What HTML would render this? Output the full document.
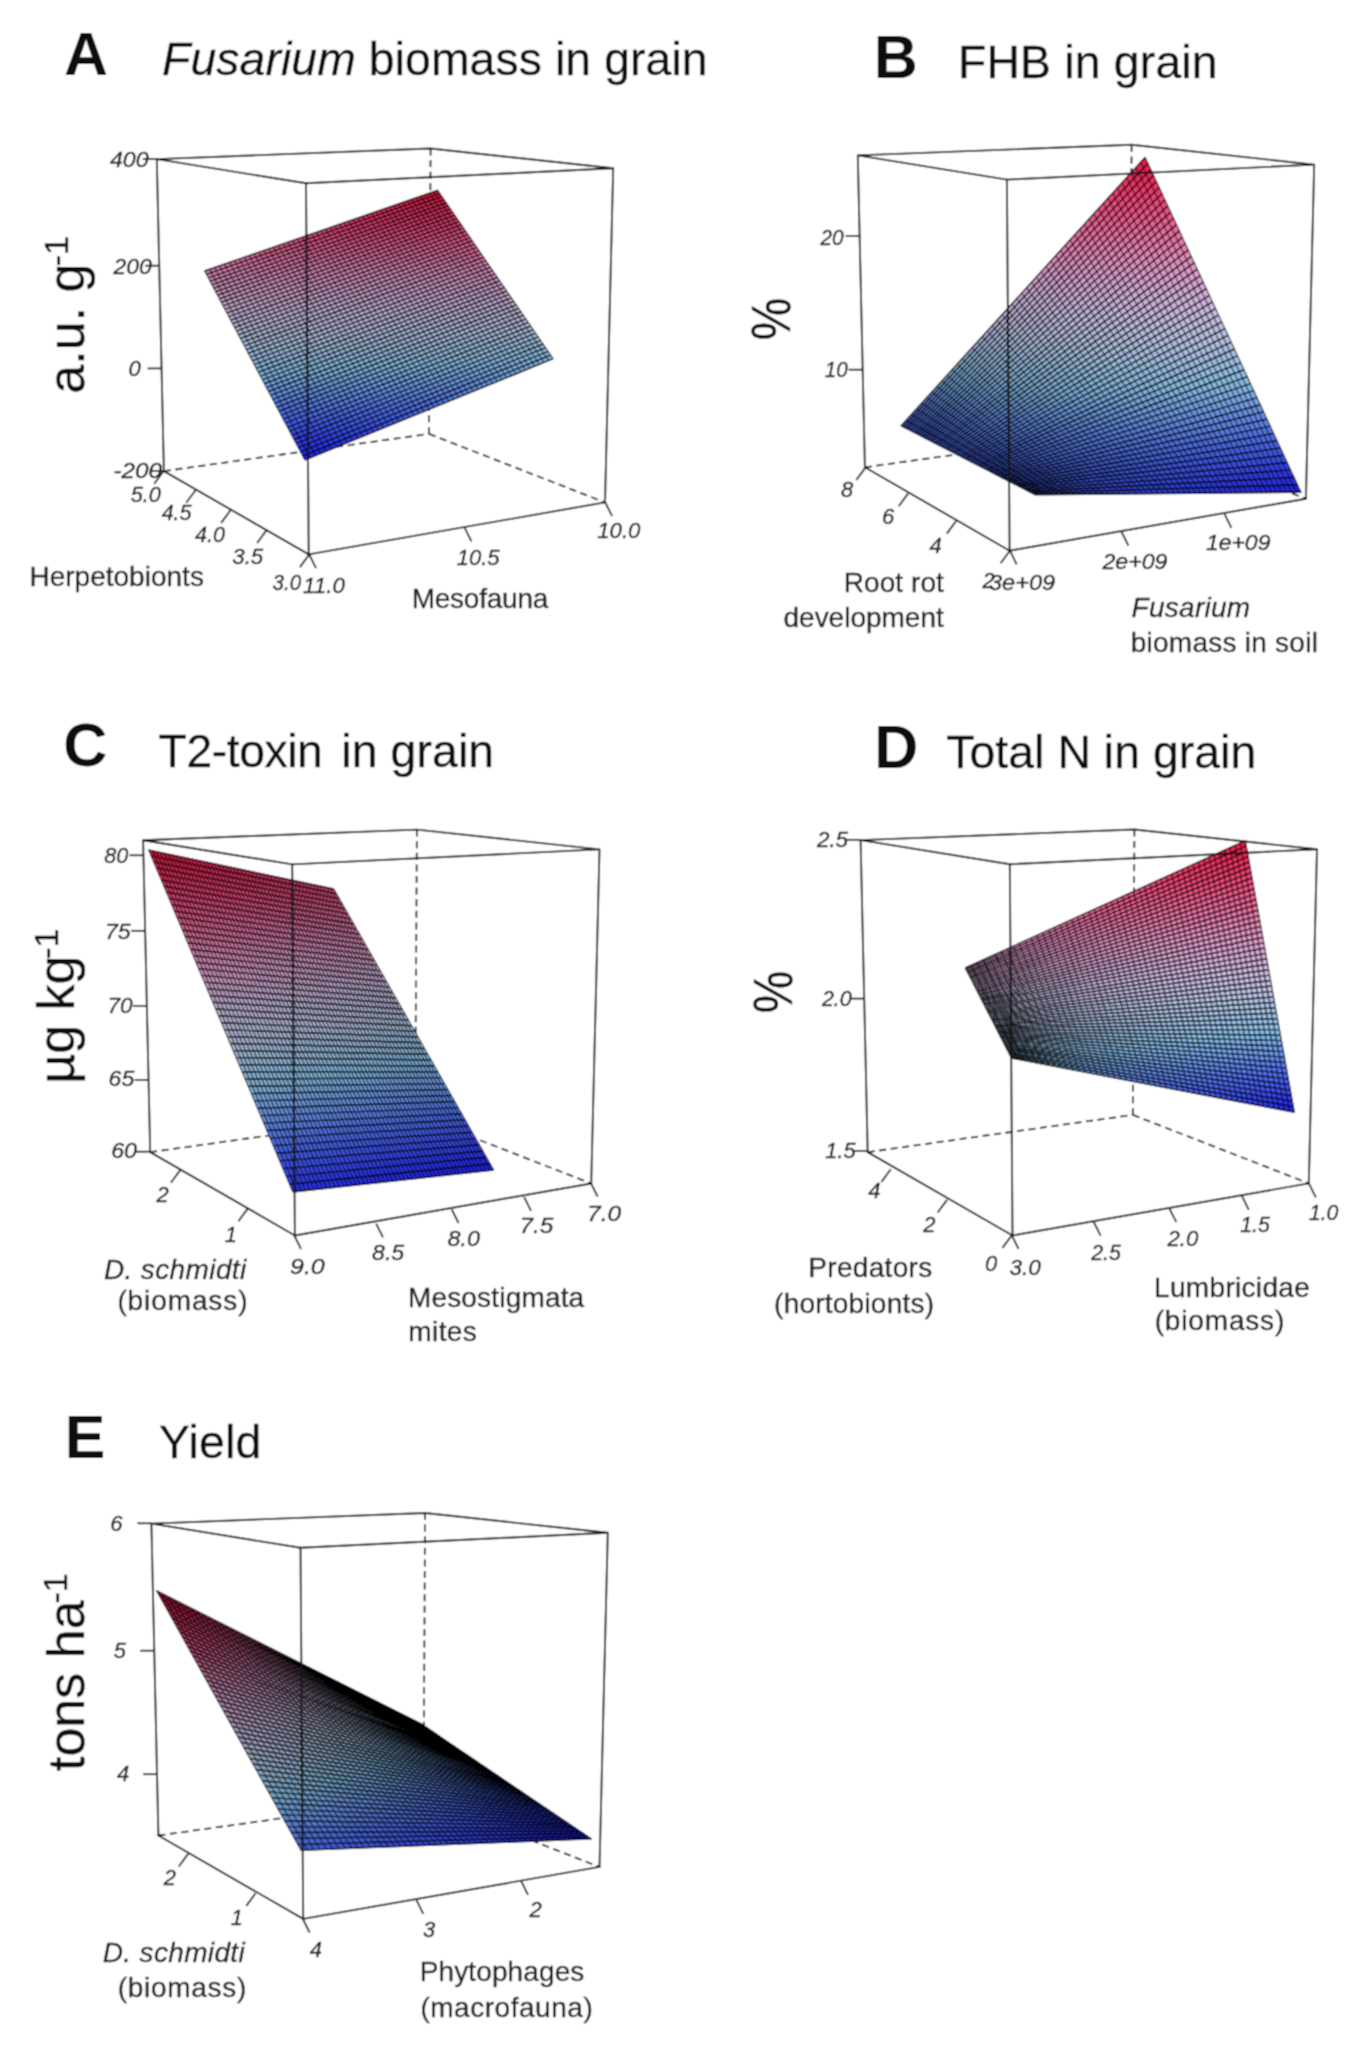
<!DOCTYPE html><html><head><meta charset="utf-8"><style>html,body{margin:0;padding:0;background:#fff}svg{display:block}text:not([font-weight]){stroke:#1a1a1a;stroke-width:0.35px}</style></head><body>
<svg width="1370" height="2046" viewBox="0 0 1370 2046" font-family="Liberation Sans, sans-serif">
<rect width="1370" height="2046" fill="#fff"/>
<defs><filter id="soft" x="0" y="0" width="1370" height="2046" filterUnits="userSpaceOnUse"><feConvolveMatrix order="3" kernelMatrix="1 2 1 2 4 2 1 2 1" divisor="16" edgeMode="duplicate" preserveAlpha="true"/></filter></defs><g filter="url(#soft)"><rect width="1370" height="2046" fill="#fff"/>
<g stroke="#151515" stroke-width="1.8" stroke-dasharray="7 4.6">
<line x1="430.6" y1="148.5" x2="429" y2="433.9"/>
<line x1="163.9" y1="471.1" x2="429" y2="433.9"/>
<line x1="429" y1="433.9" x2="605" y2="502.4"/>
</g>
<linearGradient id="A0" gradientUnits="userSpaceOnUse" x1="303.7" y1="458.1" x2="552" y2="356.9"><stop offset="0.000" stop-color="#2021e1"/><stop offset="0.108" stop-color="#2931e0"/><stop offset="0.213" stop-color="#3340df"/><stop offset="0.317" stop-color="#3c50df"/><stop offset="0.420" stop-color="#455fde"/><stop offset="0.520" stop-color="#4f6fdd"/><stop offset="0.619" stop-color="#5a7edc"/><stop offset="0.717" stop-color="#658ddb"/><stop offset="0.813" stop-color="#709cd9"/><stop offset="0.907" stop-color="#7babd8"/><stop offset="1.000" stop-color="#86b3d6"/></linearGradient>
<path fill="url(#A0)" d="M304.8 460.2L553.3 358.7 550.7 355 302.6 456z"/>
<linearGradient id="A1" gradientUnits="userSpaceOnUse" x1="301.5" y1="453.9" x2="549.5" y2="353.2"><stop offset="0.000" stop-color="#2428e0"/><stop offset="0.108" stop-color="#2d38e0"/><stop offset="0.213" stop-color="#3747df"/><stop offset="0.317" stop-color="#4057df"/><stop offset="0.420" stop-color="#4966de"/><stop offset="0.520" stop-color="#5475dd"/><stop offset="0.619" stop-color="#5f84db"/><stop offset="0.717" stop-color="#6a93da"/><stop offset="0.813" stop-color="#75a3d8"/><stop offset="0.907" stop-color="#80b2d7"/><stop offset="1.000" stop-color="#8ab3d6"/></linearGradient>
<path fill="url(#A1)" d="M302.6 456L550.7 355 548.2 351.3 300.4 451.9z"/>
<linearGradient id="A2" gradientUnits="userSpaceOnUse" x1="299.3" y1="449.8" x2="547" y2="349.5"><stop offset="0.000" stop-color="#282fe0"/><stop offset="0.107" stop-color="#313edf"/><stop offset="0.213" stop-color="#3b4edf"/><stop offset="0.317" stop-color="#445dde"/><stop offset="0.419" stop-color="#4e6ddd"/><stop offset="0.520" stop-color="#597cdc"/><stop offset="0.619" stop-color="#648bdb"/><stop offset="0.717" stop-color="#6f9ad9"/><stop offset="0.813" stop-color="#7aa9d8"/><stop offset="0.907" stop-color="#84b2d7"/><stop offset="1.000" stop-color="#8fb4d5"/></linearGradient>
<path fill="url(#A2)" d="M300.4 451.9L548.2 351.3 545.7 347.7 298.2 447.7z"/>
<linearGradient id="A3" gradientUnits="userSpaceOnUse" x1="297.1" y1="445.7" x2="544.5" y2="345.8"><stop offset="0.000" stop-color="#2c36e0"/><stop offset="0.107" stop-color="#3645df"/><stop offset="0.213" stop-color="#3f55df"/><stop offset="0.317" stop-color="#4864de"/><stop offset="0.419" stop-color="#5374dd"/><stop offset="0.520" stop-color="#5e83db"/><stop offset="0.619" stop-color="#6992da"/><stop offset="0.717" stop-color="#74a1d9"/><stop offset="0.813" stop-color="#7fb0d7"/><stop offset="0.907" stop-color="#89b3d6"/><stop offset="1.000" stop-color="#93b4d5"/></linearGradient>
<path fill="url(#A3)" d="M298.2 447.7L545.7 347.7 543.2 344 296 443.6z"/>
<linearGradient id="A4" gradientUnits="userSpaceOnUse" x1="295" y1="441.5" x2="542" y2="342.2"><stop offset="0.000" stop-color="#303ddf"/><stop offset="0.107" stop-color="#3a4cdf"/><stop offset="0.213" stop-color="#435cde"/><stop offset="0.317" stop-color="#4d6bde"/><stop offset="0.419" stop-color="#577adc"/><stop offset="0.520" stop-color="#6289db"/><stop offset="0.619" stop-color="#6d98d9"/><stop offset="0.717" stop-color="#78a8d8"/><stop offset="0.813" stop-color="#83b2d7"/><stop offset="0.907" stop-color="#8eb3d5"/><stop offset="1.000" stop-color="#98b4d4"/></linearGradient>
<path fill="url(#A4)" d="M296 443.6L543.2 344 540.7 340.4 293.9 439.5z"/>
<linearGradient id="A5" gradientUnits="userSpaceOnUse" x1="292.8" y1="437.4" x2="539.5" y2="338.6"><stop offset="0.000" stop-color="#3443df"/><stop offset="0.107" stop-color="#3e53df"/><stop offset="0.213" stop-color="#4762de"/><stop offset="0.317" stop-color="#5172dd"/><stop offset="0.419" stop-color="#5c81dc"/><stop offset="0.520" stop-color="#6790da"/><stop offset="0.619" stop-color="#729fd9"/><stop offset="0.717" stop-color="#7daed7"/><stop offset="0.812" stop-color="#88b3d6"/><stop offset="0.907" stop-color="#92b4d5"/><stop offset="1.000" stop-color="#9db5d4"/></linearGradient>
<path fill="url(#A5)" d="M293.9 439.5L540.7 340.4 538.3 336.8 291.7 435.4z"/>
<linearGradient id="A6" gradientUnits="userSpaceOnUse" x1="290.6" y1="433.4" x2="537" y2="335"><stop offset="0.000" stop-color="#394adf"/><stop offset="0.107" stop-color="#425ade"/><stop offset="0.213" stop-color="#4b69de"/><stop offset="0.317" stop-color="#5678dc"/><stop offset="0.419" stop-color="#6188db"/><stop offset="0.520" stop-color="#6c97da"/><stop offset="0.619" stop-color="#77a6d8"/><stop offset="0.716" stop-color="#82b2d7"/><stop offset="0.812" stop-color="#8cb3d5"/><stop offset="0.907" stop-color="#97b4d4"/><stop offset="1.000" stop-color="#a1b5d3"/></linearGradient>
<path fill="url(#A6)" d="M291.7 435.4L538.3 336.8 535.8 333.2 289.5 431.3z"/>
<linearGradient id="A7" gradientUnits="userSpaceOnUse" x1="288.5" y1="429.3" x2="534.6" y2="331.4"><stop offset="0.000" stop-color="#3d51df"/><stop offset="0.107" stop-color="#4661de"/><stop offset="0.213" stop-color="#5070dd"/><stop offset="0.317" stop-color="#5b7fdc"/><stop offset="0.419" stop-color="#668eda"/><stop offset="0.520" stop-color="#719dd9"/><stop offset="0.619" stop-color="#7cadd7"/><stop offset="0.716" stop-color="#87b3d6"/><stop offset="0.812" stop-color="#91b4d5"/><stop offset="0.907" stop-color="#9bb5d4"/><stop offset="1.000" stop-color="#a6b6d2"/></linearGradient>
<path fill="url(#A7)" d="M289.5 431.3L535.8 333.2 533.3 329.6 287.4 427.3z"/>
<linearGradient id="A8" gradientUnits="userSpaceOnUse" x1="286.3" y1="425.3" x2="532.1" y2="327.8"><stop offset="0.000" stop-color="#4158de"/><stop offset="0.107" stop-color="#4a67de"/><stop offset="0.213" stop-color="#5577dc"/><stop offset="0.317" stop-color="#6086db"/><stop offset="0.419" stop-color="#6b95da"/><stop offset="0.520" stop-color="#76a4d8"/><stop offset="0.619" stop-color="#81b2d7"/><stop offset="0.716" stop-color="#8bb3d6"/><stop offset="0.812" stop-color="#96b4d4"/><stop offset="0.907" stop-color="#a0b5d3"/><stop offset="1.000" stop-color="#a9b5d2"/></linearGradient>
<path fill="url(#A8)" d="M287.4 427.3L533.3 329.6 530.9 326 285.2 423.2z"/>
<linearGradient id="A9" gradientUnits="userSpaceOnUse" x1="284.2" y1="421.2" x2="529.7" y2="324.2"><stop offset="0.000" stop-color="#455fde"/><stop offset="0.107" stop-color="#4f6edd"/><stop offset="0.213" stop-color="#5a7ddc"/><stop offset="0.317" stop-color="#658cda"/><stop offset="0.419" stop-color="#709cd9"/><stop offset="0.520" stop-color="#7babd8"/><stop offset="0.619" stop-color="#85b3d6"/><stop offset="0.716" stop-color="#90b4d5"/><stop offset="0.812" stop-color="#9ab5d4"/><stop offset="0.907" stop-color="#a5b6d3"/><stop offset="1.000" stop-color="#acb4d1"/></linearGradient>
<path fill="url(#A9)" d="M285.2 423.2L530.9 326 528.4 322.4 283.1 419.2z"/>
<linearGradient id="A10" gradientUnits="userSpaceOnUse" x1="282.1" y1="417.2" x2="527.2" y2="320.7"><stop offset="0.000" stop-color="#4966de"/><stop offset="0.107" stop-color="#5475dd"/><stop offset="0.213" stop-color="#5f84db"/><stop offset="0.317" stop-color="#6a93da"/><stop offset="0.419" stop-color="#75a2d8"/><stop offset="0.520" stop-color="#80b1d7"/><stop offset="0.619" stop-color="#8ab3d6"/><stop offset="0.716" stop-color="#94b4d4"/><stop offset="0.812" stop-color="#9fb5d3"/><stop offset="0.907" stop-color="#a9b6d2"/><stop offset="1.000" stop-color="#afb3d1"/></linearGradient>
<path fill="url(#A10)" d="M283.1 419.2L528.4 322.4 526 318.9 281 415.2z"/>
<linearGradient id="A11" gradientUnits="userSpaceOnUse" x1="279.9" y1="413.2" x2="524.8" y2="317.1"><stop offset="0.000" stop-color="#4d6cdd"/><stop offset="0.107" stop-color="#587bdc"/><stop offset="0.213" stop-color="#638bdb"/><stop offset="0.317" stop-color="#6e9ad9"/><stop offset="0.419" stop-color="#79a9d8"/><stop offset="0.520" stop-color="#84b2d6"/><stop offset="0.619" stop-color="#8fb3d5"/><stop offset="0.716" stop-color="#99b5d4"/><stop offset="0.812" stop-color="#a3b6d3"/><stop offset="0.907" stop-color="#acb4d1"/><stop offset="1.000" stop-color="#b2b1d0"/></linearGradient>
<path fill="url(#A11)" d="M281 415.2L526 318.9 523.6 315.3 278.9 411.2z"/>
<linearGradient id="A12" gradientUnits="userSpaceOnUse" x1="277.8" y1="409.2" x2="522.4" y2="313.6"><stop offset="0.000" stop-color="#5273dd"/><stop offset="0.107" stop-color="#5d82db"/><stop offset="0.213" stop-color="#6891da"/><stop offset="0.317" stop-color="#73a0d9"/><stop offset="0.419" stop-color="#7eb0d7"/><stop offset="0.520" stop-color="#89b3d6"/><stop offset="0.619" stop-color="#93b4d5"/><stop offset="0.716" stop-color="#9eb5d3"/><stop offset="0.812" stop-color="#a8b6d2"/><stop offset="0.907" stop-color="#aeb3d1"/><stop offset="1.000" stop-color="#b5b0d0"/></linearGradient>
<path fill="url(#A12)" d="M278.9 411.2L523.6 315.3 521.2 311.8 276.8 407.2z"/>
<linearGradient id="A13" gradientUnits="userSpaceOnUse" x1="275.7" y1="405.3" x2="520" y2="310.1"><stop offset="0.000" stop-color="#5779dc"/><stop offset="0.107" stop-color="#6289db"/><stop offset="0.213" stop-color="#6d98d9"/><stop offset="0.317" stop-color="#78a7d8"/><stop offset="0.419" stop-color="#83b2d7"/><stop offset="0.520" stop-color="#8db3d5"/><stop offset="0.619" stop-color="#98b4d4"/><stop offset="0.716" stop-color="#a2b5d3"/><stop offset="0.812" stop-color="#abb5d2"/><stop offset="0.907" stop-color="#b1b2d0"/><stop offset="1.000" stop-color="#b7afcf"/></linearGradient>
<path fill="url(#A13)" d="M276.8 407.2L521.2 311.8 518.8 308.3 274.7 403.3z"/>
<linearGradient id="A14" gradientUnits="userSpaceOnUse" x1="273.6" y1="401.3" x2="517.6" y2="306.6"><stop offset="0.000" stop-color="#5c80dc"/><stop offset="0.107" stop-color="#678fda"/><stop offset="0.213" stop-color="#729fd9"/><stop offset="0.317" stop-color="#7daed7"/><stop offset="0.419" stop-color="#87b3d6"/><stop offset="0.520" stop-color="#92b4d5"/><stop offset="0.619" stop-color="#9cb5d3"/><stop offset="0.716" stop-color="#a7b6d2"/><stop offset="0.812" stop-color="#aeb3d1"/><stop offset="0.907" stop-color="#b4b0d0"/><stop offset="1.000" stop-color="#baadcf"/></linearGradient>
<path fill="url(#A14)" d="M274.7 403.3L518.8 308.3 516.4 304.8 272.6 399.4z"/>
<linearGradient id="A15" gradientUnits="userSpaceOnUse" x1="271.5" y1="397.4" x2="515.2" y2="303.1"><stop offset="0.000" stop-color="#6187db"/><stop offset="0.107" stop-color="#6c96d9"/><stop offset="0.213" stop-color="#77a5d8"/><stop offset="0.317" stop-color="#82b2d7"/><stop offset="0.419" stop-color="#8cb3d5"/><stop offset="0.520" stop-color="#96b4d4"/><stop offset="0.619" stop-color="#a1b5d3"/><stop offset="0.716" stop-color="#aab5d2"/><stop offset="0.812" stop-color="#b0b2d0"/><stop offset="0.907" stop-color="#b7afcf"/><stop offset="1.000" stop-color="#bdabcd"/></linearGradient>
<path fill="url(#A15)" d="M272.6 399.4L516.4 304.8 514 301.3 270.5 395.4z"/>
<linearGradient id="A16" gradientUnits="userSpaceOnUse" x1="269.5" y1="393.5" x2="512.8" y2="299.6"><stop offset="0.000" stop-color="#658dda"/><stop offset="0.107" stop-color="#709dd9"/><stop offset="0.213" stop-color="#7cacd7"/><stop offset="0.317" stop-color="#86b3d6"/><stop offset="0.419" stop-color="#91b4d5"/><stop offset="0.520" stop-color="#9bb5d4"/><stop offset="0.619" stop-color="#a5b6d2"/><stop offset="0.716" stop-color="#adb4d1"/><stop offset="0.812" stop-color="#b3b1d0"/><stop offset="0.907" stop-color="#b9adcf"/><stop offset="1.000" stop-color="#bea8cb"/></linearGradient>
<path fill="url(#A16)" d="M270.5 395.4L514 301.3 511.6 297.9 268.4 391.5z"/>
<linearGradient id="A17" gradientUnits="userSpaceOnUse" x1="267.4" y1="389.6" x2="510.4" y2="296.1"><stop offset="0.000" stop-color="#6a94da"/><stop offset="0.107" stop-color="#75a3d8"/><stop offset="0.213" stop-color="#80b2d7"/><stop offset="0.317" stop-color="#8bb3d6"/><stop offset="0.419" stop-color="#95b4d4"/><stop offset="0.520" stop-color="#a0b5d3"/><stop offset="0.619" stop-color="#a9b5d2"/><stop offset="0.716" stop-color="#b0b2d1"/><stop offset="0.812" stop-color="#b6afcf"/><stop offset="0.907" stop-color="#bcacce"/><stop offset="1.000" stop-color="#c0a4c8"/></linearGradient>
<path fill="url(#A17)" d="M268.4 391.5L511.6 297.9 509.2 294.4 266.4 387.6z"/>
<linearGradient id="A18" gradientUnits="userSpaceOnUse" x1="265.3" y1="385.7" x2="508.1" y2="292.7"><stop offset="0.000" stop-color="#6f9bd9"/><stop offset="0.107" stop-color="#7aaad8"/><stop offset="0.213" stop-color="#85b2d6"/><stop offset="0.317" stop-color="#8fb3d5"/><stop offset="0.419" stop-color="#9ab5d4"/><stop offset="0.519" stop-color="#a4b6d2"/><stop offset="0.619" stop-color="#acb4d1"/><stop offset="0.716" stop-color="#b2b1d0"/><stop offset="0.812" stop-color="#b9aecf"/><stop offset="0.907" stop-color="#bea9cb"/><stop offset="1.000" stop-color="#c2a0c5"/></linearGradient>
<path fill="url(#A18)" d="M266.4 387.6L509.2 294.4 506.9 291 264.3 383.8z"/>
<linearGradient id="A19" gradientUnits="userSpaceOnUse" x1="263.3" y1="381.8" x2="505.7" y2="289.3"><stop offset="0.000" stop-color="#74a1d8"/><stop offset="0.107" stop-color="#7fb1d7"/><stop offset="0.213" stop-color="#89b3d6"/><stop offset="0.317" stop-color="#94b4d4"/><stop offset="0.419" stop-color="#9eb5d3"/><stop offset="0.519" stop-color="#a8b6d2"/><stop offset="0.619" stop-color="#afb3d1"/><stop offset="0.716" stop-color="#b5b0cf"/><stop offset="0.812" stop-color="#bbacce"/><stop offset="0.907" stop-color="#c0a5c9"/><stop offset="1.000" stop-color="#c49dc2"/></linearGradient>
<path fill="url(#A19)" d="M264.3 383.8L506.9 291 504.5 287.5 262.3 379.9z"/>
<linearGradient id="A20" gradientUnits="userSpaceOnUse" x1="261.3" y1="378" x2="503.4" y2="285.8"><stop offset="0.000" stop-color="#79a8d8"/><stop offset="0.107" stop-color="#84b2d6"/><stop offset="0.213" stop-color="#8eb3d5"/><stop offset="0.317" stop-color="#98b4d4"/><stop offset="0.419" stop-color="#a3b5d3"/><stop offset="0.519" stop-color="#abb4d1"/><stop offset="0.618" stop-color="#b2b1d0"/><stop offset="0.716" stop-color="#b8aecf"/><stop offset="0.812" stop-color="#bda9cc"/><stop offset="0.907" stop-color="#c2a1c6"/><stop offset="1.000" stop-color="#c699c0"/></linearGradient>
<path fill="url(#A20)" d="M262.3 379.9L504.5 287.5 502.2 284.1 260.2 376.1z"/>
<linearGradient id="A21" gradientUnits="userSpaceOnUse" x1="259.2" y1="374.1" x2="501" y2="282.4"><stop offset="0.000" stop-color="#7eafd7"/><stop offset="0.107" stop-color="#88b3d6"/><stop offset="0.213" stop-color="#93b4d5"/><stop offset="0.317" stop-color="#9db5d3"/><stop offset="0.419" stop-color="#a7b6d2"/><stop offset="0.519" stop-color="#aeb3d1"/><stop offset="0.618" stop-color="#b4b0d0"/><stop offset="0.716" stop-color="#bbadce"/><stop offset="0.812" stop-color="#bfa6c9"/><stop offset="0.907" stop-color="#c39ec3"/><stop offset="1.000" stop-color="#c796bd"/></linearGradient>
<path fill="url(#A21)" d="M260.2 376.1L502.2 284.1 499.9 280.7 258.2 372.2z"/>
<linearGradient id="A22" gradientUnits="userSpaceOnUse" x1="257.2" y1="370.3" x2="498.7" y2="279"><stop offset="0.000" stop-color="#82b2d7"/><stop offset="0.107" stop-color="#8db3d5"/><stop offset="0.213" stop-color="#97b4d4"/><stop offset="0.316" stop-color="#a2b5d3"/><stop offset="0.419" stop-color="#aab5d1"/><stop offset="0.519" stop-color="#b1b2d0"/><stop offset="0.618" stop-color="#b7afcf"/><stop offset="0.716" stop-color="#bdaacd"/><stop offset="0.812" stop-color="#c1a2c7"/><stop offset="0.907" stop-color="#c59ac0"/><stop offset="1.000" stop-color="#c992ba"/></linearGradient>
<path fill="url(#A22)" d="M258.2 372.2L499.9 280.7 497.5 277.3 256.2 368.4z"/>
<linearGradient id="A23" gradientUnits="userSpaceOnUse" x1="255.2" y1="366.5" x2="496.4" y2="275.6"><stop offset="0.000" stop-color="#87b3d6"/><stop offset="0.107" stop-color="#91b4d5"/><stop offset="0.213" stop-color="#9cb5d3"/><stop offset="0.316" stop-color="#a6b6d2"/><stop offset="0.419" stop-color="#adb3d1"/><stop offset="0.519" stop-color="#b3b0d0"/><stop offset="0.618" stop-color="#baadce"/><stop offset="0.716" stop-color="#bfa7ca"/><stop offset="0.812" stop-color="#c39fc4"/><stop offset="0.907" stop-color="#c796be"/><stop offset="1.000" stop-color="#cb8eb7"/></linearGradient>
<path fill="url(#A23)" d="M256.2 368.4L497.5 277.3 495.2 273.9 254.2 364.6z"/>
<linearGradient id="A24" gradientUnits="userSpaceOnUse" x1="253.2" y1="362.7" x2="494.1" y2="272.3"><stop offset="0.000" stop-color="#8bb3d5"/><stop offset="0.107" stop-color="#96b4d4"/><stop offset="0.213" stop-color="#a0b5d3"/><stop offset="0.316" stop-color="#aab5d2"/><stop offset="0.419" stop-color="#b0b2d0"/><stop offset="0.519" stop-color="#b6afcf"/><stop offset="0.618" stop-color="#bcabce"/><stop offset="0.716" stop-color="#c0a3c7"/><stop offset="0.812" stop-color="#c59bc1"/><stop offset="0.907" stop-color="#c993bb"/><stop offset="1.000" stop-color="#cd8bb5"/></linearGradient>
<path fill="url(#A24)" d="M254.2 364.6L495.2 273.9 492.9 270.6 252.2 360.8z"/>
<linearGradient id="A25" gradientUnits="userSpaceOnUse" x1="251.2" y1="358.9" x2="491.8" y2="268.9"><stop offset="0.000" stop-color="#90b3d5"/><stop offset="0.107" stop-color="#9ab5d4"/><stop offset="0.213" stop-color="#a5b6d2"/><stop offset="0.316" stop-color="#acb4d1"/><stop offset="0.419" stop-color="#b3b1d0"/><stop offset="0.519" stop-color="#b9aecf"/><stop offset="0.618" stop-color="#bea8cb"/><stop offset="0.716" stop-color="#c2a0c5"/><stop offset="0.812" stop-color="#c697be"/><stop offset="0.907" stop-color="#cb8fb8"/><stop offset="1.000" stop-color="#ce86b0"/></linearGradient>
<path fill="url(#A25)" d="M252.2 360.8L492.9 270.6 490.6 267.2 250.2 357.1z"/>
<linearGradient id="A26" gradientUnits="userSpaceOnUse" x1="249.2" y1="355.2" x2="489.5" y2="265.5"><stop offset="0.000" stop-color="#94b4d4"/><stop offset="0.107" stop-color="#9fb5d3"/><stop offset="0.213" stop-color="#a9b5d2"/><stop offset="0.316" stop-color="#afb2d1"/><stop offset="0.419" stop-color="#b5afcf"/><stop offset="0.519" stop-color="#bcacce"/><stop offset="0.618" stop-color="#c0a4c8"/><stop offset="0.716" stop-color="#c49cc2"/><stop offset="0.812" stop-color="#c894bc"/><stop offset="0.907" stop-color="#cc8cb5"/><stop offset="1.000" stop-color="#cf81ab"/></linearGradient>
<path fill="url(#A26)" d="M250.2 357.1L490.6 267.2 488.3 263.9 248.2 353.3z"/>
<linearGradient id="A27" gradientUnits="userSpaceOnUse" x1="247.2" y1="351.4" x2="487.2" y2="262.2"><stop offset="0.000" stop-color="#99b4d4"/><stop offset="0.107" stop-color="#a3b5d2"/><stop offset="0.213" stop-color="#acb4d1"/><stop offset="0.316" stop-color="#b2b1d0"/><stop offset="0.419" stop-color="#b8aecf"/><stop offset="0.519" stop-color="#bea9cc"/><stop offset="0.618" stop-color="#c2a1c5"/><stop offset="0.716" stop-color="#c698bf"/><stop offset="0.812" stop-color="#ca90b9"/><stop offset="0.907" stop-color="#ce87b1"/><stop offset="1.000" stop-color="#d07ca6"/></linearGradient>
<path fill="url(#A27)" d="M248.2 353.3L488.3 263.9 486 260.6 246.2 349.6z"/>
<linearGradient id="A28" gradientUnits="userSpaceOnUse" x1="245.2" y1="347.7" x2="484.9" y2="258.9"><stop offset="0.000" stop-color="#9db5d3"/><stop offset="0.107" stop-color="#a8b6d2"/><stop offset="0.213" stop-color="#aeb3d1"/><stop offset="0.316" stop-color="#b5b0cf"/><stop offset="0.418" stop-color="#bbadce"/><stop offset="0.519" stop-color="#bfa5c9"/><stop offset="0.618" stop-color="#c49dc3"/><stop offset="0.716" stop-color="#c895bc"/><stop offset="0.812" stop-color="#cc8db6"/><stop offset="0.907" stop-color="#ce82ac"/><stop offset="1.000" stop-color="#d076a1"/></linearGradient>
<path fill="url(#A28)" d="M246.2 349.6L486 260.6 483.8 257.2 244.2 345.9z"/>
<linearGradient id="A29" gradientUnits="userSpaceOnUse" x1="243.2" y1="344" x2="482.6" y2="255.6"><stop offset="0.000" stop-color="#a2b5d3"/><stop offset="0.107" stop-color="#abb4d1"/><stop offset="0.212" stop-color="#b1b1d0"/><stop offset="0.316" stop-color="#b7aecf"/><stop offset="0.418" stop-color="#bdaacc"/><stop offset="0.519" stop-color="#c1a2c6"/><stop offset="0.618" stop-color="#c599c0"/><stop offset="0.716" stop-color="#ca91ba"/><stop offset="0.812" stop-color="#cd89b3"/><stop offset="0.907" stop-color="#cf7da8"/><stop offset="1.000" stop-color="#d1719d"/></linearGradient>
<path fill="url(#A29)" d="M244.2 345.9L483.8 257.2 481.5 253.9 242.3 342.1z"/>
<linearGradient id="A30" gradientUnits="userSpaceOnUse" x1="241.3" y1="340.3" x2="480.4" y2="252.3"><stop offset="0.000" stop-color="#a7b6d2"/><stop offset="0.107" stop-color="#adb3d1"/><stop offset="0.212" stop-color="#b4b0d0"/><stop offset="0.316" stop-color="#baadce"/><stop offset="0.418" stop-color="#bfa6ca"/><stop offset="0.519" stop-color="#c39ec3"/><stop offset="0.618" stop-color="#c796bd"/><stop offset="0.716" stop-color="#cb8eb7"/><stop offset="0.812" stop-color="#ce83ae"/><stop offset="0.907" stop-color="#d078a3"/><stop offset="1.000" stop-color="#d26c98"/></linearGradient>
<path fill="url(#A30)" d="M242.3 342.1L481.5 253.9 479.3 250.6 240.3 338.5z"/>
<linearGradient id="A31" gradientUnits="userSpaceOnUse" x1="239.3" y1="336.6" x2="478.1" y2="249"><stop offset="0.000" stop-color="#aab5d1"/><stop offset="0.107" stop-color="#b0b2d0"/><stop offset="0.212" stop-color="#b6afcf"/><stop offset="0.316" stop-color="#bdabcd"/><stop offset="0.418" stop-color="#c1a3c7"/><stop offset="0.519" stop-color="#c59ac1"/><stop offset="0.618" stop-color="#c992ba"/><stop offset="0.716" stop-color="#cd8ab4"/><stop offset="0.812" stop-color="#cf7ea9"/><stop offset="0.907" stop-color="#d1739e"/><stop offset="1.000" stop-color="#d36793"/></linearGradient>
<path fill="url(#A31)" d="M240.3 338.5L479.3 250.6 477 247.4 238.4 334.8z"/>
<linearGradient id="A32" gradientUnits="userSpaceOnUse" x1="237.4" y1="332.9" x2="475.9" y2="245.7"><stop offset="0.000" stop-color="#adb4d1"/><stop offset="0.107" stop-color="#b3b0d0"/><stop offset="0.212" stop-color="#b9adce"/><stop offset="0.316" stop-color="#bea7ca"/><stop offset="0.418" stop-color="#c29fc4"/><stop offset="0.519" stop-color="#c797be"/><stop offset="0.618" stop-color="#cb8fb8"/><stop offset="0.716" stop-color="#ce85af"/><stop offset="0.812" stop-color="#d079a4"/><stop offset="0.907" stop-color="#d26e99"/><stop offset="1.000" stop-color="#d4628e"/></linearGradient>
<path fill="url(#A32)" d="M238.4 334.8L477 247.4 474.8 244.1 236.4 331.1z"/>
<linearGradient id="A33" gradientUnits="userSpaceOnUse" x1="235.4" y1="329.3" x2="473.7" y2="242.5"><stop offset="0.000" stop-color="#afb2d0"/><stop offset="0.107" stop-color="#b6afcf"/><stop offset="0.212" stop-color="#bcacce"/><stop offset="0.316" stop-color="#c0a4c8"/><stop offset="0.418" stop-color="#c49bc1"/><stop offset="0.519" stop-color="#c893bb"/><stop offset="0.618" stop-color="#cd8bb5"/><stop offset="0.716" stop-color="#cf80aa"/><stop offset="0.812" stop-color="#d1749f"/><stop offset="0.907" stop-color="#d36994"/><stop offset="1.000" stop-color="#d45d89"/></linearGradient>
<path fill="url(#A33)" d="M236.4 331.1L474.8 244.1 472.5 240.8 234.5 327.5z"/>
<linearGradient id="A34" gradientUnits="userSpaceOnUse" x1="233.5" y1="325.6" x2="471.4" y2="239.2"><stop offset="0.000" stop-color="#b2b1d0"/><stop offset="0.107" stop-color="#b8aecf"/><stop offset="0.212" stop-color="#bea8cb"/><stop offset="0.316" stop-color="#c2a0c5"/><stop offset="0.418" stop-color="#c698bf"/><stop offset="0.519" stop-color="#ca90b8"/><stop offset="0.618" stop-color="#ce86b1"/><stop offset="0.716" stop-color="#d07ba5"/><stop offset="0.812" stop-color="#d16f9a"/><stop offset="0.907" stop-color="#d3638f"/><stop offset="1.000" stop-color="#d55884"/></linearGradient>
<path fill="url(#A34)" d="M234.5 327.5L472.5 240.8 470.3 237.6 232.6 323.8z"/>
<linearGradient id="A35" gradientUnits="userSpaceOnUse" x1="231.6" y1="322" x2="469.2" y2="236"><stop offset="0.000" stop-color="#b5afcf"/><stop offset="0.107" stop-color="#bbacce"/><stop offset="0.212" stop-color="#c0a5c8"/><stop offset="0.316" stop-color="#c49dc2"/><stop offset="0.418" stop-color="#c894bc"/><stop offset="0.519" stop-color="#cc8cb6"/><stop offset="0.618" stop-color="#ce81ac"/><stop offset="0.716" stop-color="#d076a1"/><stop offset="0.812" stop-color="#d26a96"/><stop offset="0.907" stop-color="#d45e8a"/><stop offset="1.000" stop-color="#d6537f"/></linearGradient>
<path fill="url(#A35)" d="M232.6 323.8L470.3 237.6 468.1 234.4 230.6 320.2z"/>
<linearGradient id="A36" gradientUnits="userSpaceOnUse" x1="229.7" y1="318.4" x2="467" y2="232.7"><stop offset="0.000" stop-color="#b7aecf"/><stop offset="0.107" stop-color="#bda9cc"/><stop offset="0.212" stop-color="#c1a1c6"/><stop offset="0.316" stop-color="#c599bf"/><stop offset="0.418" stop-color="#ca91b9"/><stop offset="0.519" stop-color="#cd88b2"/><stop offset="0.618" stop-color="#cf7ca7"/><stop offset="0.716" stop-color="#d1719c"/><stop offset="0.812" stop-color="#d36591"/><stop offset="0.907" stop-color="#d55986"/><stop offset="1.000" stop-color="#d74d7a"/></linearGradient>
<path fill="url(#A36)" d="M230.6 320.2L468.1 234.4 465.9 231.1 228.7 316.6z"/>
<linearGradient id="A37" gradientUnits="userSpaceOnUse" x1="227.8" y1="314.8" x2="464.8" y2="229.5"><stop offset="0.000" stop-color="#baadce"/><stop offset="0.107" stop-color="#bfa6c9"/><stop offset="0.212" stop-color="#c39ec3"/><stop offset="0.316" stop-color="#c795bd"/><stop offset="0.418" stop-color="#cb8db6"/><stop offset="0.519" stop-color="#ce83ad"/><stop offset="0.618" stop-color="#d077a2"/><stop offset="0.716" stop-color="#d26b97"/><stop offset="0.812" stop-color="#d4608c"/><stop offset="0.907" stop-color="#d65481"/><stop offset="1.000" stop-color="#d74976"/></linearGradient>
<path fill="url(#A37)" d="M228.7 316.6L465.9 231.1 463.7 227.9 226.8 313z"/>
<linearGradient id="A38" gradientUnits="userSpaceOnUse" x1="225.9" y1="311.2" x2="462.6" y2="226.3"><stop offset="0.000" stop-color="#bdabcd"/><stop offset="0.107" stop-color="#c1a2c7"/><stop offset="0.212" stop-color="#c59ac0"/><stop offset="0.316" stop-color="#c992ba"/><stop offset="0.418" stop-color="#cd89b3"/><stop offset="0.519" stop-color="#cf7ea8"/><stop offset="0.618" stop-color="#d1729d"/><stop offset="0.715" stop-color="#d36692"/><stop offset="0.812" stop-color="#d55b87"/><stop offset="0.907" stop-color="#d74f7c"/><stop offset="1.000" stop-color="#d64571"/></linearGradient>
<path fill="url(#A38)" d="M226.8 313L463.7 227.9 461.5 224.7 224.9 309.4z"/>
<linearGradient id="A39" gradientUnits="userSpaceOnUse" x1="224" y1="307.7" x2="460.4" y2="223.1"><stop offset="0.000" stop-color="#bea7ca"/><stop offset="0.107" stop-color="#c39fc4"/><stop offset="0.212" stop-color="#c796be"/><stop offset="0.316" stop-color="#cb8eb7"/><stop offset="0.418" stop-color="#ce84af"/><stop offset="0.519" stop-color="#d079a3"/><stop offset="0.618" stop-color="#d26d98"/><stop offset="0.715" stop-color="#d4618d"/><stop offset="0.812" stop-color="#d65682"/><stop offset="0.907" stop-color="#d74a77"/><stop offset="1.000" stop-color="#d6406d"/></linearGradient>
<path fill="url(#A39)" d="M224.9 309.4L461.5 224.7 459.3 221.5 223 305.9z"/>
<linearGradient id="A40" gradientUnits="userSpaceOnUse" x1="222.1" y1="304.1" x2="458.2" y2="219.9"><stop offset="0.000" stop-color="#c0a3c7"/><stop offset="0.107" stop-color="#c49bc1"/><stop offset="0.212" stop-color="#c893bb"/><stop offset="0.316" stop-color="#cd8bb5"/><stop offset="0.418" stop-color="#cf7faa"/><stop offset="0.519" stop-color="#d1749f"/><stop offset="0.618" stop-color="#d36893"/><stop offset="0.715" stop-color="#d45c88"/><stop offset="0.812" stop-color="#d6507d"/><stop offset="0.907" stop-color="#d74673"/><stop offset="1.000" stop-color="#d53c68"/></linearGradient>
<path fill="url(#A40)" d="M223 305.9L459.3 221.5 457.2 218.4 221.2 302.3z"/>
<linearGradient id="A41" gradientUnits="userSpaceOnUse" x1="220.2" y1="300.6" x2="456.1" y2="216.8"><stop offset="0.000" stop-color="#c2a0c5"/><stop offset="0.107" stop-color="#c698be"/><stop offset="0.212" stop-color="#ca8fb8"/><stop offset="0.316" stop-color="#ce86b0"/><stop offset="0.418" stop-color="#d07aa5"/><stop offset="0.519" stop-color="#d16e9a"/><stop offset="0.618" stop-color="#d3638f"/><stop offset="0.715" stop-color="#d55783"/><stop offset="0.812" stop-color="#d74b78"/><stop offset="0.907" stop-color="#d6426e"/><stop offset="1.000" stop-color="#d53864"/></linearGradient>
<path fill="url(#A41)" d="M221.2 302.3L457.2 218.4 455 215.2 219.3 298.8z"/>
<linearGradient id="A42" gradientUnits="userSpaceOnUse" x1="218.3" y1="297" x2="453.9" y2="213.6"><stop offset="0.000" stop-color="#c49cc2"/><stop offset="0.107" stop-color="#c894bc"/><stop offset="0.212" stop-color="#cc8cb5"/><stop offset="0.316" stop-color="#ce81ab"/><stop offset="0.418" stop-color="#d075a0"/><stop offset="0.519" stop-color="#d26995"/><stop offset="0.618" stop-color="#d45e8a"/><stop offset="0.715" stop-color="#d6527f"/><stop offset="0.812" stop-color="#d74774"/><stop offset="0.906" stop-color="#d53d6a"/><stop offset="1.000" stop-color="#d4345f"/></linearGradient>
<path fill="url(#A42)" d="M219.3 298.8L455 215.2 452.8 212 217.4 295.3z"/>
<linearGradient id="A43" gradientUnits="userSpaceOnUse" x1="216.5" y1="293.5" x2="451.7" y2="210.5"><stop offset="0.000" stop-color="#c699bf"/><stop offset="0.107" stop-color="#ca90b9"/><stop offset="0.212" stop-color="#cd87b2"/><stop offset="0.316" stop-color="#cf7ca6"/><stop offset="0.418" stop-color="#d1709b"/><stop offset="0.519" stop-color="#d36490"/><stop offset="0.618" stop-color="#d55985"/><stop offset="0.715" stop-color="#d74d7a"/><stop offset="0.812" stop-color="#d6436f"/><stop offset="0.906" stop-color="#d53965"/><stop offset="1.000" stop-color="#d42f5b"/></linearGradient>
<path fill="url(#A43)" d="M217.4 295.3L452.8 212 450.7 208.9 215.6 291.8z"/>
<linearGradient id="A44" gradientUnits="userSpaceOnUse" x1="214.6" y1="290" x2="449.6" y2="207.3"><stop offset="0.000" stop-color="#c795bc"/><stop offset="0.107" stop-color="#cb8db6"/><stop offset="0.212" stop-color="#ce82ad"/><stop offset="0.316" stop-color="#d077a2"/><stop offset="0.418" stop-color="#d26b96"/><stop offset="0.519" stop-color="#d45f8b"/><stop offset="0.618" stop-color="#d65380"/><stop offset="0.715" stop-color="#d74875"/><stop offset="0.812" stop-color="#d63f6b"/><stop offset="0.906" stop-color="#d43561"/><stop offset="1.000" stop-color="#d32b57"/></linearGradient>
<path fill="url(#A44)" d="M215.6 291.8L450.7 208.9 448.5 205.8 213.7 288.3z"/>
<linearGradient id="A45" gradientUnits="userSpaceOnUse" x1="212.8" y1="286.5" x2="447.5" y2="204.2"><stop offset="0.000" stop-color="#c992ba"/><stop offset="0.107" stop-color="#cd89b3"/><stop offset="0.212" stop-color="#cf7da8"/><stop offset="0.316" stop-color="#d1729d"/><stop offset="0.418" stop-color="#d36692"/><stop offset="0.518" stop-color="#d55a86"/><stop offset="0.618" stop-color="#d74e7b"/><stop offset="0.715" stop-color="#d64471"/><stop offset="0.812" stop-color="#d53a67"/><stop offset="0.906" stop-color="#d4315c"/><stop offset="1.000" stop-color="#d32752"/></linearGradient>
<path fill="url(#A45)" d="M213.7 288.3L448.5 205.8 446.4 202.7 211.9 284.8z"/>
<linearGradient id="A46" gradientUnits="userSpaceOnUse" x1="210.9" y1="283.1" x2="445.3" y2="201.1"><stop offset="0.000" stop-color="#cb8eb7"/><stop offset="0.107" stop-color="#ce84ae"/><stop offset="0.212" stop-color="#d078a3"/><stop offset="0.316" stop-color="#d26d98"/><stop offset="0.418" stop-color="#d4618d"/><stop offset="0.518" stop-color="#d65582"/><stop offset="0.618" stop-color="#d74a77"/><stop offset="0.715" stop-color="#d6406c"/><stop offset="0.812" stop-color="#d53662"/><stop offset="0.906" stop-color="#d32d58"/><stop offset="1.000" stop-color="#d2234e"/></linearGradient>
<path fill="url(#A46)" d="M211.9 284.8L446.4 202.7 444.3 199.6 210 281.3z"/>
<linearGradient id="A47" gradientUnits="userSpaceOnUse" x1="209.1" y1="279.6" x2="443.2" y2="198"><stop offset="0.000" stop-color="#cd8ab4"/><stop offset="0.107" stop-color="#cf7fa9"/><stop offset="0.212" stop-color="#d1739e"/><stop offset="0.316" stop-color="#d36793"/><stop offset="0.418" stop-color="#d45c88"/><stop offset="0.518" stop-color="#d6507d"/><stop offset="0.618" stop-color="#d64572"/><stop offset="0.715" stop-color="#d53c68"/><stop offset="0.812" stop-color="#d4325e"/><stop offset="0.906" stop-color="#d32853"/><stop offset="1.000" stop-color="#d21f49"/></linearGradient>
<path fill="url(#A47)" d="M210 281.3L444.3 199.6 442.1 196.5 208.2 277.9z"/>
<linearGradient id="A48" gradientUnits="userSpaceOnUse" x1="207.3" y1="276.1" x2="441.1" y2="194.9"><stop offset="0.000" stop-color="#ce86b0"/><stop offset="0.107" stop-color="#d07aa5"/><stop offset="0.212" stop-color="#d16e99"/><stop offset="0.316" stop-color="#d3628e"/><stop offset="0.418" stop-color="#d55783"/><stop offset="0.518" stop-color="#d74b78"/><stop offset="0.618" stop-color="#d6416e"/><stop offset="0.715" stop-color="#d53763"/><stop offset="0.811" stop-color="#d32e59"/><stop offset="0.906" stop-color="#d2244f"/><stop offset="1.000" stop-color="#d11a45"/></linearGradient>
<path fill="url(#A48)" d="M208.2 277.9L442.1 196.5 440 193.4 206.4 274.4z"/>
<linearGradient id="A49" gradientUnits="userSpaceOnUse" x1="205.5" y1="272.7" x2="439" y2="191.8"><stop offset="0.000" stop-color="#ce81ab"/><stop offset="0.107" stop-color="#d075a0"/><stop offset="0.212" stop-color="#d26995"/><stop offset="0.316" stop-color="#d45d89"/><stop offset="0.418" stop-color="#d6527e"/><stop offset="0.518" stop-color="#d74773"/><stop offset="0.617" stop-color="#d53d69"/><stop offset="0.715" stop-color="#d4335f"/><stop offset="0.811" stop-color="#d32a55"/><stop offset="0.906" stop-color="#d2204b"/><stop offset="1.000" stop-color="#d11640"/></linearGradient>
<path fill="url(#A49)" d="M206.4 274.4L440 193.4 437.9 190.3 204.5 271z"/>
<path fill="none" stroke="#000" stroke-opacity="1" stroke-width="1.0" d="M304.8 460.2L204.5 271M310.2 458L209.6 269.3M315.6 455.8L214.6 267.5M320.9 453.6L219.5 265.8M326.3 451.5L224.5 264.1M331.6 449.3L229.5 262.4M336.8 447.1L234.4 260.7M342.1 445L239.3 259M347.4 442.8L244.2 257.3M352.6 440.7L249.1 255.6M357.8 438.6L254 253.9M363 436.4L258.9 252.2M368.2 434.3L263.7 250.5M373.4 432.2L268.6 248.9M378.5 430.1L273.4 247.2M383.7 428L278.2 245.5M388.8 425.9L283 243.9M393.9 423.8L287.8 242.2M399 421.7L292.5 240.6M404 419.7L297.3 238.9M409.1 417.6L302 237.3M414.1 415.6L306.8 235.7M419.1 413.5L311.5 234M424.1 411.5L316.2 232.4M429.1 409.4L320.8 230.8M434.1 407.4L325.5 229.2M439 405.4L330.2 227.6M444 403.4L334.8 226M448.9 401.3L339.4 224.4M453.8 399.3L344 222.8M458.7 397.3L348.6 221.2M463.6 395.4L353.2 219.6M468.4 393.4L357.8 218M473.3 391.4L362.4 216.4M478.1 389.4L366.9 214.9M482.9 387.5L371.5 213.3M487.7 385.5L376 211.7M492.5 383.5L380.5 210.2M497.2 381.6L385 208.6M502 379.7L389.5 207.1M506.7 377.7L393.9 205.5M511.5 375.8L398.4 204M516.2 373.9L402.8 202.4M520.8 371.9L407.3 200.9M525.5 370L411.7 199.4M530.2 368.1L416.1 197.9M534.8 366.2L420.5 196.3M539.5 364.3L424.9 194.8M544.1 362.5L429.2 193.3M548.7 360.6L433.6 191.8M553.3 358.7L437.9 190.3"/>
<path fill="none" stroke="#000" stroke-opacity="1" stroke-width="1.45" d="M304.8 460.2L553.3 358.7M302.6 456L550.7 355M300.4 451.9L548.2 351.3M298.2 447.7L545.7 347.7M296 443.6L543.2 344M293.9 439.5L540.7 340.4M291.7 435.4L538.3 336.8M289.5 431.3L535.8 333.2M287.4 427.3L533.3 329.6M285.2 423.2L530.9 326M283.1 419.2L528.4 322.4M281 415.2L526 318.9M278.9 411.2L523.6 315.3M276.8 407.2L521.2 311.8M274.7 403.3L518.8 308.3M272.6 399.4L516.4 304.8M270.5 395.4L514 301.3M268.4 391.5L511.6 297.9M266.4 387.6L509.2 294.4M264.3 383.8L506.9 291M262.3 379.9L504.5 287.5M260.2 376.1L502.2 284.1M258.2 372.2L499.9 280.7M256.2 368.4L497.5 277.3M254.2 364.6L495.2 273.9M252.2 360.8L492.9 270.6M250.2 357.1L490.6 267.2M248.2 353.3L488.3 263.9M246.2 349.6L486 260.6M244.2 345.9L483.8 257.2M242.3 342.1L481.5 253.9M240.3 338.5L479.3 250.6M238.4 334.8L477 247.4M236.4 331.1L474.8 244.1M234.5 327.5L472.5 240.8M232.6 323.8L470.3 237.6M230.6 320.2L468.1 234.4M228.7 316.6L465.9 231.1M226.8 313L463.7 227.9M224.9 309.4L461.5 224.7M223 305.9L459.3 221.5M221.2 302.3L457.2 218.4M219.3 298.8L455 215.2M217.4 295.3L452.8 212M215.6 291.8L450.7 208.9M213.7 288.3L448.5 205.8M211.9 284.8L446.4 202.7M210 281.3L444.3 199.6M208.2 277.9L442.1 196.5M206.4 274.4L440 193.4M204.5 271L437.9 190.3"/>
<g stroke="#151515" stroke-width="1.9" stroke-linecap="round" fill="none">
<path d="M156.8 159.1L430.6 148.5 613.2 168.3 306 183.3z"/>
<line x1="156.8" y1="159.1" x2="163.9" y2="471.1"/>
<line x1="306" y1="183.3" x2="308.7" y2="554.4"/>
<line x1="613.2" y1="168.3" x2="605" y2="502.4"/>
<line x1="163.9" y1="471.1" x2="308.7" y2="554.4"/>
<line x1="308.7" y1="554.4" x2="605" y2="502.4"/>
</g>
<g stroke="#151515" stroke-width="1.8">
<line x1="142.8" y1="159" x2="156.8" y2="159"/>
<line x1="145.3" y1="265.7" x2="159.3" y2="265.7"/>
<line x1="147.6" y1="368.4" x2="161.6" y2="368.4"/>
<line x1="149.9" y1="470.9" x2="163.9" y2="470.9"/>
<line x1="163.5" y1="471.2" x2="154.2" y2="483.8"/>
<line x1="195.5" y1="490.2" x2="186.2" y2="502.8"/>
<line x1="230.5" y1="510.3" x2="221.2" y2="522.9"/>
<line x1="266.4" y1="530.4" x2="257.1" y2="543"/>
<line x1="309.2" y1="554.5" x2="299.9" y2="567.1"/>
<line x1="309.2" y1="554.5" x2="316" y2="568.1"/>
<line x1="464.7" y1="527.8" x2="471.5" y2="541.4"/>
<line x1="605.3" y1="502.5" x2="612.1" y2="516.1"/>
</g>
<g font-size="22" font-style="italic" fill="#1a1a1a">
<text x="109.9" y="167.2" textLength="38.62" lengthAdjust="spacingAndGlyphs">400</text>
<text x="113.4" y="273.5" textLength="38.25" lengthAdjust="spacingAndGlyphs">200</text>
<text x="128.5" y="375.6">0</text>
<text x="113.4" y="478.1" textLength="48.51" lengthAdjust="spacingAndGlyphs">-200</text>
<text x="130.7" y="501.7" textLength="30.28" lengthAdjust="spacingAndGlyphs">5.0</text>
<text x="161.7" y="520.1" textLength="29.79" lengthAdjust="spacingAndGlyphs">4.5</text>
<text x="195" y="542" textLength="30.02" lengthAdjust="spacingAndGlyphs">4.0</text>
<text x="232.3" y="563.9" textLength="30.96" lengthAdjust="spacingAndGlyphs">3.5</text>
<text x="272.6" y="590.2" textLength="28.60" lengthAdjust="spacingAndGlyphs">3.0</text>
<text x="303" y="592.8" textLength="41.85" lengthAdjust="spacingAndGlyphs">11.0</text>
<text x="456.7" y="564.7" textLength="42.92" lengthAdjust="spacingAndGlyphs">10.5</text>
<text x="597.3" y="538.4" textLength="43.15" lengthAdjust="spacingAndGlyphs">10.0</text>
</g>
<g stroke="#151515" stroke-width="1.8" stroke-dasharray="7 4.6">
<line x1="1131.6" y1="144.8" x2="1129.9" y2="430.2"/>
<line x1="864.9" y1="467.3" x2="1129.9" y2="430.2"/>
<line x1="1129.9" y1="430.2" x2="1305.9" y2="498.7"/>
</g>
<linearGradient id="B0" gradientUnits="userSpaceOnUse" x1="1033" y1="493.9" x2="1299.4" y2="488.5"><stop offset="0.000" stop-color="#2d3e91"/><stop offset="0.109" stop-color="#2e3f9d"/><stop offset="0.217" stop-color="#2f3fa8"/><stop offset="0.321" stop-color="#2e3eb2"/><stop offset="0.424" stop-color="#2e3cbc"/><stop offset="0.525" stop-color="#2d39c4"/><stop offset="0.624" stop-color="#2b36cb"/><stop offset="0.721" stop-color="#2931d1"/><stop offset="0.816" stop-color="#262dd7"/><stop offset="0.909" stop-color="#2428db"/><stop offset="1.000" stop-color="#2123df"/></linearGradient>
<path fill="url(#B0)" d="M1034.5 494.7L1301.2 492.3 1297.7 484.8 1031.4 493.1z"/>
<linearGradient id="B1" gradientUnits="userSpaceOnUse" x1="1029.9" y1="492.3" x2="1295.9" y2="481.1"><stop offset="0.000" stop-color="#2d3f93"/><stop offset="0.109" stop-color="#2f409e"/><stop offset="0.216" stop-color="#3041a9"/><stop offset="0.321" stop-color="#3040b4"/><stop offset="0.424" stop-color="#303fbd"/><stop offset="0.525" stop-color="#303ec5"/><stop offset="0.624" stop-color="#2f3bcc"/><stop offset="0.720" stop-color="#2d38d2"/><stop offset="0.815" stop-color="#2b35d7"/><stop offset="0.909" stop-color="#2931dc"/><stop offset="1.000" stop-color="#272ddf"/></linearGradient>
<path fill="url(#B1)" d="M1031.4 493.1L1297.7 484.8 1294.2 477.3 1028.3 491.5z"/>
<linearGradient id="B2" gradientUnits="userSpaceOnUse" x1="1026.8" y1="490.7" x2="1292.5" y2="473.6"><stop offset="0.000" stop-color="#2e3f94"/><stop offset="0.109" stop-color="#3041a0"/><stop offset="0.216" stop-color="#3143ab"/><stop offset="0.321" stop-color="#3243b5"/><stop offset="0.424" stop-color="#3343be"/><stop offset="0.525" stop-color="#3343c6"/><stop offset="0.623" stop-color="#3241cd"/><stop offset="0.720" stop-color="#313fd3"/><stop offset="0.815" stop-color="#303dd8"/><stop offset="0.909" stop-color="#2f3adc"/><stop offset="1.000" stop-color="#2d37e0"/></linearGradient>
<path fill="url(#B2)" d="M1028.3 491.5L1294.2 477.3 1290.7 469.9 1025.2 489.9z"/>
<linearGradient id="B3" gradientUnits="userSpaceOnUse" x1="1023.7" y1="489.1" x2="1289" y2="466.2"><stop offset="0.000" stop-color="#2e4095"/><stop offset="0.109" stop-color="#3143a1"/><stop offset="0.216" stop-color="#3345ac"/><stop offset="0.321" stop-color="#3446b6"/><stop offset="0.424" stop-color="#3547bf"/><stop offset="0.524" stop-color="#3648c7"/><stop offset="0.623" stop-color="#3647ce"/><stop offset="0.720" stop-color="#3646d4"/><stop offset="0.815" stop-color="#3545d9"/><stop offset="0.908" stop-color="#3443dd"/><stop offset="1.000" stop-color="#3341e1"/></linearGradient>
<path fill="url(#B3)" d="M1025.2 489.9L1290.7 469.9 1287.3 462.5 1022.2 488.4z"/>
<linearGradient id="B4" gradientUnits="userSpaceOnUse" x1="1020.7" y1="487.6" x2="1285.6" y2="458.9"><stop offset="0.000" stop-color="#2f4097"/><stop offset="0.109" stop-color="#3244a2"/><stop offset="0.216" stop-color="#3447ad"/><stop offset="0.321" stop-color="#3649b7"/><stop offset="0.423" stop-color="#384bc0"/><stop offset="0.524" stop-color="#394cc8"/><stop offset="0.623" stop-color="#394dcf"/><stop offset="0.720" stop-color="#3a4dd5"/><stop offset="0.815" stop-color="#3a4dda"/><stop offset="0.908" stop-color="#3a4dde"/><stop offset="1.000" stop-color="#3a4ce1"/></linearGradient>
<path fill="url(#B4)" d="M1022.2 488.4L1287.3 462.5 1283.9 455.2 1019.2 486.8z"/>
<linearGradient id="B5" gradientUnits="userSpaceOnUse" x1="1017.7" y1="486" x2="1282.2" y2="451.5"><stop offset="0.000" stop-color="#2f4198"/><stop offset="0.109" stop-color="#3245a3"/><stop offset="0.216" stop-color="#3549ae"/><stop offset="0.320" stop-color="#384cb8"/><stop offset="0.423" stop-color="#3a4fc1"/><stop offset="0.524" stop-color="#3c51c9"/><stop offset="0.623" stop-color="#3d53d0"/><stop offset="0.720" stop-color="#3e55d6"/><stop offset="0.815" stop-color="#3f55da"/><stop offset="0.908" stop-color="#4056de"/><stop offset="1.000" stop-color="#4056e2"/></linearGradient>
<path fill="url(#B5)" d="M1019.2 486.8L1283.9 455.2 1280.5 447.9 1016.2 485.3z"/>
<linearGradient id="B6" gradientUnits="userSpaceOnUse" x1="1014.7" y1="484.5" x2="1278.8" y2="444.2"><stop offset="0.000" stop-color="#304299"/><stop offset="0.109" stop-color="#3347a5"/><stop offset="0.216" stop-color="#374bb0"/><stop offset="0.320" stop-color="#3a50ba"/><stop offset="0.423" stop-color="#3c53c3"/><stop offset="0.524" stop-color="#3f57ca"/><stop offset="0.622" stop-color="#4159d1"/><stop offset="0.719" stop-color="#435cd6"/><stop offset="0.815" stop-color="#445edb"/><stop offset="0.908" stop-color="#455fdf"/><stop offset="1.000" stop-color="#4661e2"/></linearGradient>
<path fill="url(#B6)" d="M1016.2 485.3L1280.5 447.9 1277.1 440.6 1013.2 483.7z"/>
<linearGradient id="B7" gradientUnits="userSpaceOnUse" x1="1011.7" y1="482.9" x2="1275.4" y2="437"><stop offset="0.000" stop-color="#30429b"/><stop offset="0.109" stop-color="#3448a6"/><stop offset="0.215" stop-color="#384db1"/><stop offset="0.320" stop-color="#3c53bb"/><stop offset="0.423" stop-color="#3f57c4"/><stop offset="0.523" stop-color="#425ccb"/><stop offset="0.622" stop-color="#4560d2"/><stop offset="0.719" stop-color="#4763d7"/><stop offset="0.815" stop-color="#4966dc"/><stop offset="0.908" stop-color="#4b69e0"/><stop offset="1.000" stop-color="#4d6be3"/></linearGradient>
<path fill="url(#B7)" d="M1013.2 483.7L1277.1 440.6 1273.7 433.3 1010.2 482.2z"/>
<linearGradient id="B8" gradientUnits="userSpaceOnUse" x1="1008.7" y1="481.4" x2="1272" y2="429.7"><stop offset="0.000" stop-color="#31439c"/><stop offset="0.109" stop-color="#3549a7"/><stop offset="0.215" stop-color="#3950b2"/><stop offset="0.320" stop-color="#3e56bc"/><stop offset="0.422" stop-color="#415bc5"/><stop offset="0.523" stop-color="#4561cc"/><stop offset="0.622" stop-color="#4966d2"/><stop offset="0.719" stop-color="#4c6ad8"/><stop offset="0.814" stop-color="#4f6edc"/><stop offset="0.908" stop-color="#5272e0"/><stop offset="1.000" stop-color="#5476e3"/></linearGradient>
<path fill="url(#B8)" d="M1010.2 482.2L1273.7 433.3 1270.4 426.1 1007.2 480.7z"/>
<linearGradient id="B9" gradientUnits="userSpaceOnUse" x1="1005.8" y1="479.9" x2="1268.7" y2="422.5"><stop offset="0.000" stop-color="#31449d"/><stop offset="0.109" stop-color="#364ba9"/><stop offset="0.215" stop-color="#3b52b3"/><stop offset="0.320" stop-color="#4059bd"/><stop offset="0.422" stop-color="#4460c5"/><stop offset="0.523" stop-color="#4966cd"/><stop offset="0.622" stop-color="#4d6cd3"/><stop offset="0.719" stop-color="#5171d8"/><stop offset="0.814" stop-color="#5577dc"/><stop offset="0.908" stop-color="#587be0"/><stop offset="1.000" stop-color="#5c80e3"/></linearGradient>
<path fill="url(#B9)" d="M1007.2 480.7L1270.4 426.1 1267 419 1004.3 479.2z"/>
<linearGradient id="B10" gradientUnits="userSpaceOnUse" x1="1002.8" y1="478.4" x2="1265.4" y2="415.4"><stop offset="0.000" stop-color="#31449e"/><stop offset="0.108" stop-color="#374caa"/><stop offset="0.215" stop-color="#3c54b4"/><stop offset="0.319" stop-color="#425cbe"/><stop offset="0.422" stop-color="#4764c6"/><stop offset="0.523" stop-color="#4c6bcd"/><stop offset="0.622" stop-color="#5272d3"/><stop offset="0.719" stop-color="#5679d8"/><stop offset="0.814" stop-color="#5b7fdc"/><stop offset="0.908" stop-color="#5f85e0"/><stop offset="1.000" stop-color="#638be2"/></linearGradient>
<path fill="url(#B10)" d="M1004.3 479.2L1267 419 1263.7 411.8 1001.4 477.7z"/>
<linearGradient id="B11" gradientUnits="userSpaceOnUse" x1="999.9" y1="476.9" x2="1262" y2="408.3"><stop offset="0.000" stop-color="#3245a0"/><stop offset="0.108" stop-color="#384dab"/><stop offset="0.215" stop-color="#3e56b6"/><stop offset="0.319" stop-color="#445fbf"/><stop offset="0.422" stop-color="#4a68c7"/><stop offset="0.522" stop-color="#5070ce"/><stop offset="0.621" stop-color="#5678d4"/><stop offset="0.719" stop-color="#5c80d9"/><stop offset="0.814" stop-color="#6187dd"/><stop offset="0.908" stop-color="#668ee0"/><stop offset="1.000" stop-color="#6b95e2"/></linearGradient>
<path fill="url(#B11)" d="M1001.4 477.7L1263.7 411.8 1260.4 404.7 998.5 476.2z"/>
<linearGradient id="B12" gradientUnits="userSpaceOnUse" x1="997.1" y1="475.4" x2="1258.7" y2="401.2"><stop offset="0.000" stop-color="#3245a1"/><stop offset="0.108" stop-color="#394fac"/><stop offset="0.215" stop-color="#3f59b7"/><stop offset="0.319" stop-color="#4662c0"/><stop offset="0.422" stop-color="#4d6cc8"/><stop offset="0.522" stop-color="#5475cf"/><stop offset="0.621" stop-color="#5b7ed4"/><stop offset="0.718" stop-color="#6187d9"/><stop offset="0.814" stop-color="#6790dd"/><stop offset="0.908" stop-color="#6d98e0"/><stop offset="1.000" stop-color="#73a0e2"/></linearGradient>
<path fill="url(#B12)" d="M998.5 476.2L1260.4 404.7 1257.1 397.6 995.6 474.7z"/>
<linearGradient id="B13" gradientUnits="userSpaceOnUse" x1="994.2" y1="474" x2="1255.4" y2="394.1"><stop offset="0.000" stop-color="#3346a2"/><stop offset="0.108" stop-color="#3950ad"/><stop offset="0.214" stop-color="#415bb7"/><stop offset="0.319" stop-color="#4965c1"/><stop offset="0.421" stop-color="#5070c8"/><stop offset="0.522" stop-color="#587acf"/><stop offset="0.621" stop-color="#5f85d5"/><stop offset="0.718" stop-color="#668ed9"/><stop offset="0.814" stop-color="#6d98dd"/><stop offset="0.908" stop-color="#74a1e0"/><stop offset="1.000" stop-color="#7babe2"/></linearGradient>
<path fill="url(#B13)" d="M995.6 474.7L1257.1 397.6 1253.8 390.6 992.8 473.2z"/>
<linearGradient id="B14" gradientUnits="userSpaceOnUse" x1="991.3" y1="472.5" x2="1252.2" y2="387.1"><stop offset="0.000" stop-color="#3346a3"/><stop offset="0.108" stop-color="#3a52ae"/><stop offset="0.214" stop-color="#425db8"/><stop offset="0.319" stop-color="#4b68c1"/><stop offset="0.421" stop-color="#5374c9"/><stop offset="0.522" stop-color="#5b80d0"/><stop offset="0.621" stop-color="#648bd5"/><stop offset="0.718" stop-color="#6c96d9"/><stop offset="0.814" stop-color="#73a1dd"/><stop offset="0.908" stop-color="#7babe0"/><stop offset="1.000" stop-color="#82b5e2"/></linearGradient>
<path fill="url(#B14)" d="M992.8 473.2L1253.8 390.6 1250.5 383.6 989.9 471.8z"/>
<linearGradient id="B15" gradientUnits="userSpaceOnUse" x1="988.5" y1="471" x2="1248.9" y2="380.1"><stop offset="0.000" stop-color="#3347a5"/><stop offset="0.108" stop-color="#3b53b0"/><stop offset="0.214" stop-color="#445fb9"/><stop offset="0.318" stop-color="#4d6cc2"/><stop offset="0.421" stop-color="#5678ca"/><stop offset="0.522" stop-color="#5f85d0"/><stop offset="0.621" stop-color="#6891d5"/><stop offset="0.718" stop-color="#719dda"/><stop offset="0.813" stop-color="#7aa9dd"/><stop offset="0.908" stop-color="#82b5df"/><stop offset="1.000" stop-color="#8abbe1"/></linearGradient>
<path fill="url(#B15)" d="M989.9 471.8L1250.5 383.6 1247.3 376.6 987.1 470.3z"/>
<linearGradient id="B16" gradientUnits="userSpaceOnUse" x1="985.7" y1="469.6" x2="1245.7" y2="373.1"><stop offset="0.000" stop-color="#3448a6"/><stop offset="0.108" stop-color="#3c54b1"/><stop offset="0.214" stop-color="#4661ba"/><stop offset="0.318" stop-color="#4f6fc3"/><stop offset="0.421" stop-color="#597cca"/><stop offset="0.521" stop-color="#638ad1"/><stop offset="0.620" stop-color="#6d97d6"/><stop offset="0.718" stop-color="#76a5da"/><stop offset="0.813" stop-color="#80b2dd"/><stop offset="0.907" stop-color="#89badf"/><stop offset="1.000" stop-color="#91bde1"/></linearGradient>
<path fill="url(#B16)" d="M987.1 470.3L1247.3 376.6 1244.1 369.7 984.3 468.9z"/>
<linearGradient id="B17" gradientUnits="userSpaceOnUse" x1="982.9" y1="468.2" x2="1242.5" y2="366.2"><stop offset="0.000" stop-color="#3448a7"/><stop offset="0.108" stop-color="#3d56b2"/><stop offset="0.214" stop-color="#4764bb"/><stop offset="0.318" stop-color="#5272c4"/><stop offset="0.420" stop-color="#5c81cb"/><stop offset="0.521" stop-color="#678fd1"/><stop offset="0.620" stop-color="#719ed6"/><stop offset="0.717" stop-color="#7cacda"/><stop offset="0.813" stop-color="#86b7dd"/><stop offset="0.907" stop-color="#8fbbdf"/><stop offset="1.000" stop-color="#99bee1"/></linearGradient>
<path fill="url(#B17)" d="M984.3 468.9L1244.1 369.7 1240.8 362.7 981.5 467.4z"/>
<linearGradient id="B18" gradientUnits="userSpaceOnUse" x1="980.1" y1="466.7" x2="1239.2" y2="359.3"><stop offset="0.000" stop-color="#3549a8"/><stop offset="0.108" stop-color="#3e57b3"/><stop offset="0.214" stop-color="#4966bc"/><stop offset="0.318" stop-color="#5475c4"/><stop offset="0.420" stop-color="#5f85cb"/><stop offset="0.521" stop-color="#6b95d1"/><stop offset="0.620" stop-color="#76a4d6"/><stop offset="0.717" stop-color="#81b4da"/><stop offset="0.813" stop-color="#8cb8dd"/><stop offset="0.907" stop-color="#96bcdf"/><stop offset="1.000" stop-color="#a0bfe1"/></linearGradient>
<path fill="url(#B18)" d="M981.5 467.4L1240.8 362.7 1237.6 355.9 978.7 466z"/>
<linearGradient id="B19" gradientUnits="userSpaceOnUse" x1="977.4" y1="465.3" x2="1236" y2="352.4"><stop offset="0.000" stop-color="#3549a9"/><stop offset="0.108" stop-color="#3f58b3"/><stop offset="0.214" stop-color="#4a68bd"/><stop offset="0.318" stop-color="#5678c5"/><stop offset="0.420" stop-color="#6289cc"/><stop offset="0.521" stop-color="#6f9ad2"/><stop offset="0.620" stop-color="#7babd6"/><stop offset="0.717" stop-color="#86b5da"/><stop offset="0.813" stop-color="#92badd"/><stop offset="0.907" stop-color="#9dbddf"/><stop offset="1.000" stop-color="#a8c0e0"/></linearGradient>
<path fill="url(#B19)" d="M978.7 466L1237.6 355.9 1234.5 349 976 464.6z"/>
<linearGradient id="B20" gradientUnits="userSpaceOnUse" x1="974.6" y1="463.9" x2="1232.9" y2="345.6"><stop offset="0.000" stop-color="#354aaa"/><stop offset="0.108" stop-color="#405ab4"/><stop offset="0.213" stop-color="#4c6abe"/><stop offset="0.317" stop-color="#597cc6"/><stop offset="0.420" stop-color="#658dcc"/><stop offset="0.520" stop-color="#729fd2"/><stop offset="0.619" stop-color="#7fb1d6"/><stop offset="0.717" stop-color="#8cb6da"/><stop offset="0.813" stop-color="#98bbdd"/><stop offset="0.907" stop-color="#a4bedf"/><stop offset="1.000" stop-color="#afc1e0"/></linearGradient>
<path fill="url(#B20)" d="M976 464.6L1234.5 349 1231.3 342.2 973.3 463.2z"/>
<linearGradient id="B21" gradientUnits="userSpaceOnUse" x1="971.9" y1="462.5" x2="1229.7" y2="338.8"><stop offset="0.000" stop-color="#364aab"/><stop offset="0.108" stop-color="#415bb5"/><stop offset="0.213" stop-color="#4e6dbe"/><stop offset="0.317" stop-color="#5b7fc6"/><stop offset="0.420" stop-color="#6992cd"/><stop offset="0.520" stop-color="#76a4d2"/><stop offset="0.619" stop-color="#84b2d7"/><stop offset="0.717" stop-color="#91b7da"/><stop offset="0.813" stop-color="#9ebcdd"/><stop offset="0.907" stop-color="#aabfdf"/><stop offset="1.000" stop-color="#b5c1e0"/></linearGradient>
<path fill="url(#B21)" d="M973.3 463.2L1231.3 342.2 1228.1 335.4 970.5 461.8z"/>
<linearGradient id="B22" gradientUnits="userSpaceOnUse" x1="969.2" y1="461.1" x2="1226.5" y2="332"><stop offset="0.000" stop-color="#364bac"/><stop offset="0.107" stop-color="#425cb6"/><stop offset="0.213" stop-color="#4f6fbf"/><stop offset="0.317" stop-color="#5d82c7"/><stop offset="0.419" stop-color="#6c96cd"/><stop offset="0.520" stop-color="#7aaad2"/><stop offset="0.619" stop-color="#88b3d7"/><stop offset="0.717" stop-color="#96b8da"/><stop offset="0.813" stop-color="#a4bddd"/><stop offset="0.907" stop-color="#b1c1de"/><stop offset="1.000" stop-color="#bac0df"/></linearGradient>
<path fill="url(#B22)" d="M970.5 461.8L1228.1 335.4 1225 328.6 967.8 460.4z"/>
<linearGradient id="B23" gradientUnits="userSpaceOnUse" x1="966.5" y1="459.7" x2="1223.4" y2="325.3"><stop offset="0.000" stop-color="#364bad"/><stop offset="0.107" stop-color="#435eb7"/><stop offset="0.213" stop-color="#5171c0"/><stop offset="0.317" stop-color="#6085c7"/><stop offset="0.419" stop-color="#6f9acd"/><stop offset="0.520" stop-color="#7eaed3"/><stop offset="0.619" stop-color="#8db4d7"/><stop offset="0.716" stop-color="#9bb9da"/><stop offset="0.812" stop-color="#aabedc"/><stop offset="0.907" stop-color="#b6bfde"/><stop offset="1.000" stop-color="#bfbedf"/></linearGradient>
<path fill="url(#B23)" d="M967.8 460.4L1225 328.6 1221.8 321.9 965.2 459z"/>
<linearGradient id="B24" gradientUnits="userSpaceOnUse" x1="963.8" y1="458.4" x2="1220.3" y2="318.6"><stop offset="0.000" stop-color="#374cae"/><stop offset="0.107" stop-color="#445fb8"/><stop offset="0.213" stop-color="#5373c0"/><stop offset="0.317" stop-color="#6288c8"/><stop offset="0.419" stop-color="#729ece"/><stop offset="0.520" stop-color="#82afd3"/><stop offset="0.619" stop-color="#91b5d7"/><stop offset="0.716" stop-color="#a0bada"/><stop offset="0.812" stop-color="#b0bfdc"/><stop offset="0.907" stop-color="#babede"/><stop offset="1.000" stop-color="#c4bcdf"/></linearGradient>
<path fill="url(#B24)" d="M965.2 459L1221.8 321.9 1218.7 315.2 962.5 457.7z"/>
<linearGradient id="B25" gradientUnits="userSpaceOnUse" x1="961.2" y1="457" x2="1217.2" y2="311.9"><stop offset="0.000" stop-color="#374caf"/><stop offset="0.107" stop-color="#4560b9"/><stop offset="0.213" stop-color="#5475c1"/><stop offset="0.317" stop-color="#648cc8"/><stop offset="0.419" stop-color="#75a3ce"/><stop offset="0.519" stop-color="#85b0d3"/><stop offset="0.618" stop-color="#95b6d7"/><stop offset="0.716" stop-color="#a6bbda"/><stop offset="0.812" stop-color="#b4bedc"/><stop offset="0.907" stop-color="#bebcdd"/><stop offset="1.000" stop-color="#c8bade"/></linearGradient>
<path fill="url(#B25)" d="M962.5 457.7L1218.7 315.2 1215.6 308.6 959.9 456.3z"/>
<linearGradient id="B26" gradientUnits="userSpaceOnUse" x1="958.5" y1="455.6" x2="1214.1" y2="305.2"><stop offset="0.000" stop-color="#374cb0"/><stop offset="0.107" stop-color="#4661b9"/><stop offset="0.213" stop-color="#5678c1"/><stop offset="0.316" stop-color="#678fc8"/><stop offset="0.419" stop-color="#78a7ce"/><stop offset="0.519" stop-color="#89b1d3"/><stop offset="0.618" stop-color="#9ab7d7"/><stop offset="0.716" stop-color="#abbcda"/><stop offset="0.812" stop-color="#b7bcdc"/><stop offset="0.907" stop-color="#c2bbdd"/><stop offset="1.000" stop-color="#ccb7dc"/></linearGradient>
<path fill="url(#B26)" d="M959.9 456.3L1215.6 308.6 1212.5 301.9 957.2 455z"/>
<linearGradient id="B27" gradientUnits="userSpaceOnUse" x1="955.9" y1="454.3" x2="1211" y2="298.6"><stop offset="0.000" stop-color="#384db1"/><stop offset="0.107" stop-color="#4763ba"/><stop offset="0.212" stop-color="#577ac2"/><stop offset="0.316" stop-color="#6992c9"/><stop offset="0.418" stop-color="#7babcf"/><stop offset="0.519" stop-color="#8db2d3"/><stop offset="0.618" stop-color="#9eb8d7"/><stop offset="0.716" stop-color="#afbcda"/><stop offset="0.812" stop-color="#bbbbdc"/><stop offset="0.907" stop-color="#c7b9dd"/><stop offset="1.000" stop-color="#d0b1d8"/></linearGradient>
<path fill="url(#B27)" d="M957.2 455L1212.5 301.9 1209.5 295.3 954.6 453.6z"/>
<linearGradient id="B28" gradientUnits="userSpaceOnUse" x1="953.3" y1="452.9" x2="1207.9" y2="292"><stop offset="0.000" stop-color="#384db2"/><stop offset="0.107" stop-color="#4864bb"/><stop offset="0.212" stop-color="#597cc2"/><stop offset="0.316" stop-color="#6b95c9"/><stop offset="0.418" stop-color="#7eaccf"/><stop offset="0.519" stop-color="#90b2d3"/><stop offset="0.618" stop-color="#a3b9d7"/><stop offset="0.716" stop-color="#b3bbda"/><stop offset="0.812" stop-color="#bfbadb"/><stop offset="0.907" stop-color="#cab7db"/><stop offset="1.000" stop-color="#d3acd4"/></linearGradient>
<path fill="url(#B28)" d="M954.6 453.6L1209.5 295.3 1206.4 288.7 952 452.3z"/>
<linearGradient id="B29" gradientUnits="userSpaceOnUse" x1="950.7" y1="451.6" x2="1204.9" y2="285.5"><stop offset="0.000" stop-color="#384eb2"/><stop offset="0.107" stop-color="#4865bb"/><stop offset="0.212" stop-color="#5b7ec3"/><stop offset="0.316" stop-color="#6e98c9"/><stop offset="0.418" stop-color="#81accf"/><stop offset="0.519" stop-color="#94b3d3"/><stop offset="0.618" stop-color="#a7b9d7"/><stop offset="0.715" stop-color="#b6bad9"/><stop offset="0.812" stop-color="#c3b8db"/><stop offset="0.906" stop-color="#cdb2d8"/><stop offset="1.000" stop-color="#d6a7d0"/></linearGradient>
<path fill="url(#B29)" d="M952 452.3L1206.4 288.7 1203.4 282.2 949.4 451z"/>
<linearGradient id="B30" gradientUnits="userSpaceOnUse" x1="948.1" y1="450.3" x2="1201.8" y2="278.9"><stop offset="0.000" stop-color="#394eb3"/><stop offset="0.107" stop-color="#4967bc"/><stop offset="0.212" stop-color="#5c80c3"/><stop offset="0.316" stop-color="#709cca"/><stop offset="0.418" stop-color="#84adcf"/><stop offset="0.518" stop-color="#98b4d3"/><stop offset="0.617" stop-color="#acbad7"/><stop offset="0.715" stop-color="#b9b9d9"/><stop offset="0.811" stop-color="#c6b7db"/><stop offset="0.906" stop-color="#d0add4"/><stop offset="1.000" stop-color="#d9a1cc"/></linearGradient>
<path fill="url(#B30)" d="M949.4 451L1203.4 282.2 1200.3 275.7 946.9 449.6z"/>
<linearGradient id="B31" gradientUnits="userSpaceOnUse" x1="945.6" y1="449" x2="1198.8" y2="272.4"><stop offset="0.000" stop-color="#394fb4"/><stop offset="0.107" stop-color="#4a68bd"/><stop offset="0.212" stop-color="#5e83c4"/><stop offset="0.315" stop-color="#729fca"/><stop offset="0.418" stop-color="#87aecf"/><stop offset="0.518" stop-color="#9bb5d3"/><stop offset="0.617" stop-color="#aeb9d7"/><stop offset="0.715" stop-color="#bcb8d9"/><stop offset="0.811" stop-color="#c9b4d9"/><stop offset="0.906" stop-color="#d3a8d1"/><stop offset="1.000" stop-color="#dc9cc8"/></linearGradient>
<path fill="url(#B31)" d="M946.9 449.6L1200.3 275.7 1197.3 269.2 944.3 448.3z"/>
<linearGradient id="B32" gradientUnits="userSpaceOnUse" x1="943" y1="447.7" x2="1195.8" y2="266"><stop offset="0.000" stop-color="#394fb5"/><stop offset="0.107" stop-color="#4b69bd"/><stop offset="0.212" stop-color="#5f85c4"/><stop offset="0.315" stop-color="#74a2ca"/><stop offset="0.417" stop-color="#8aaecf"/><stop offset="0.518" stop-color="#9fb5d3"/><stop offset="0.617" stop-color="#b1b8d7"/><stop offset="0.715" stop-color="#c0b7d9"/><stop offset="0.811" stop-color="#ccb0d6"/><stop offset="0.906" stop-color="#d6a3cd"/><stop offset="1.000" stop-color="#df96c4"/></linearGradient>
<path fill="url(#B32)" d="M944.3 448.3L1197.3 269.2 1194.3 262.7 941.8 447z"/>
<linearGradient id="B33" gradientUnits="userSpaceOnUse" x1="940.5" y1="446.4" x2="1192.8" y2="259.5"><stop offset="0.000" stop-color="#394fb5"/><stop offset="0.107" stop-color="#4c6abe"/><stop offset="0.212" stop-color="#6187c5"/><stop offset="0.315" stop-color="#77a5ca"/><stop offset="0.417" stop-color="#8cafcf"/><stop offset="0.518" stop-color="#a3b6d3"/><stop offset="0.617" stop-color="#b4b7d6"/><stop offset="0.715" stop-color="#c3b5d8"/><stop offset="0.811" stop-color="#ceabd2"/><stop offset="0.906" stop-color="#d99fca"/><stop offset="1.000" stop-color="#e18fbd"/></linearGradient>
<path fill="url(#B33)" d="M941.8 447L1194.3 262.7 1191.3 256.3 939.2 445.7z"/>
<linearGradient id="B34" gradientUnits="userSpaceOnUse" x1="938" y1="445.1" x2="1189.8" y2="253.1"><stop offset="0.000" stop-color="#3a50b6"/><stop offset="0.106" stop-color="#4d6bbe"/><stop offset="0.211" stop-color="#6289c5"/><stop offset="0.315" stop-color="#79a8cb"/><stop offset="0.417" stop-color="#8fb0cf"/><stop offset="0.518" stop-color="#a6b7d3"/><stop offset="0.617" stop-color="#b7b6d6"/><stop offset="0.715" stop-color="#c6b4d8"/><stop offset="0.811" stop-color="#d1a7cf"/><stop offset="0.906" stop-color="#db9ac6"/><stop offset="1.000" stop-color="#e387b5"/></linearGradient>
<path fill="url(#B34)" d="M939.2 445.7L1191.3 256.3 1188.3 249.9 936.7 444.4z"/>
<linearGradient id="B35" gradientUnits="userSpaceOnUse" x1="935.5" y1="443.8" x2="1186.8" y2="246.7"><stop offset="0.000" stop-color="#3a50b7"/><stop offset="0.106" stop-color="#4e6dbf"/><stop offset="0.211" stop-color="#648bc5"/><stop offset="0.315" stop-color="#7ba8cb"/><stop offset="0.417" stop-color="#92b0d0"/><stop offset="0.517" stop-color="#a9b7d3"/><stop offset="0.617" stop-color="#b9b5d6"/><stop offset="0.714" stop-color="#c8b0d5"/><stop offset="0.811" stop-color="#d3a3cc"/><stop offset="0.906" stop-color="#de94c2"/><stop offset="1.000" stop-color="#e47fae"/></linearGradient>
<path fill="url(#B35)" d="M936.7 444.4L1188.3 249.9 1185.4 243.5 934.3 443.2z"/>
<linearGradient id="B36" gradientUnits="userSpaceOnUse" x1="933" y1="442.5" x2="1183.9" y2="240.4"><stop offset="0.000" stop-color="#3a50b7"/><stop offset="0.106" stop-color="#4f6ebf"/><stop offset="0.211" stop-color="#668dc5"/><stop offset="0.315" stop-color="#7da9cb"/><stop offset="0.417" stop-color="#95b1d0"/><stop offset="0.517" stop-color="#acb6d3"/><stop offset="0.616" stop-color="#bcb4d6"/><stop offset="0.714" stop-color="#caacd2"/><stop offset="0.811" stop-color="#d69fc9"/><stop offset="0.906" stop-color="#df8dbb"/><stop offset="1.000" stop-color="#e677a6"/></linearGradient>
<path fill="url(#B36)" d="M934.3 443.2L1185.4 243.5 1182.4 237.2 931.8 441.9z"/>
<linearGradient id="B37" gradientUnits="userSpaceOnUse" x1="930.5" y1="441.2" x2="1180.9" y2="234"><stop offset="0.000" stop-color="#3a51b8"/><stop offset="0.106" stop-color="#506fbf"/><stop offset="0.211" stop-color="#6790c6"/><stop offset="0.314" stop-color="#7fa9cb"/><stop offset="0.416" stop-color="#98b1d0"/><stop offset="0.517" stop-color="#aeb5d3"/><stop offset="0.616" stop-color="#bfb3d6"/><stop offset="0.714" stop-color="#cca9cf"/><stop offset="0.811" stop-color="#d89ac6"/><stop offset="0.906" stop-color="#e186b5"/><stop offset="1.000" stop-color="#e76f9f"/></linearGradient>
<path fill="url(#B37)" d="M931.8 441.9L1182.4 237.2 1179.5 230.9 929.3 440.6z"/>
<linearGradient id="B38" gradientUnits="userSpaceOnUse" x1="928.1" y1="440" x2="1178" y2="227.7"><stop offset="0.000" stop-color="#3b51b9"/><stop offset="0.106" stop-color="#5070c0"/><stop offset="0.211" stop-color="#6992c6"/><stop offset="0.314" stop-color="#82aacb"/><stop offset="0.416" stop-color="#9bb2cf"/><stop offset="0.517" stop-color="#b0b5d3"/><stop offset="0.616" stop-color="#c2b2d5"/><stop offset="0.714" stop-color="#cea5cd"/><stop offset="0.811" stop-color="#db96c2"/><stop offset="0.906" stop-color="#e27fae"/><stop offset="1.000" stop-color="#e96797"/></linearGradient>
<path fill="url(#B38)" d="M929.3 440.6L1179.5 230.9 1176.5 224.6 926.9 439.4z"/>
<linearGradient id="B39" gradientUnits="userSpaceOnUse" x1="925.7" y1="438.7" x2="1175.1" y2="221.5"><stop offset="0.000" stop-color="#3b51b9"/><stop offset="0.106" stop-color="#5171c0"/><stop offset="0.211" stop-color="#6a94c6"/><stop offset="0.314" stop-color="#84aacb"/><stop offset="0.416" stop-color="#9eb2cf"/><stop offset="0.517" stop-color="#b2b4d3"/><stop offset="0.616" stop-color="#c4b0d4"/><stop offset="0.714" stop-color="#d1a1ca"/><stop offset="0.810" stop-color="#dc90be"/><stop offset="0.906" stop-color="#e478a7"/><stop offset="1.000" stop-color="#ea5f8f"/></linearGradient>
<path fill="url(#B39)" d="M926.9 439.4L1176.5 224.6 1173.6 218.3 924.4 438.1z"/>
<linearGradient id="B40" gradientUnits="userSpaceOnUse" x1="923.2" y1="437.5" x2="1172.2" y2="215.2"><stop offset="0.000" stop-color="#3b52ba"/><stop offset="0.106" stop-color="#5273c1"/><stop offset="0.211" stop-color="#6c96c6"/><stop offset="0.314" stop-color="#86abcb"/><stop offset="0.416" stop-color="#a0b3cf"/><stop offset="0.516" stop-color="#b5b3d2"/><stop offset="0.616" stop-color="#c6add1"/><stop offset="0.714" stop-color="#d39ec7"/><stop offset="0.810" stop-color="#de8ab8"/><stop offset="0.906" stop-color="#e571a0"/><stop offset="1.000" stop-color="#ec5788"/></linearGradient>
<path fill="url(#B40)" d="M924.4 438.1L1173.6 218.3 1170.7 212.1 922 436.9z"/>
<linearGradient id="B41" gradientUnits="userSpaceOnUse" x1="920.8" y1="436.2" x2="1169.3" y2="209"><stop offset="0.000" stop-color="#3b52ba"/><stop offset="0.106" stop-color="#5374c1"/><stop offset="0.211" stop-color="#6d98c7"/><stop offset="0.314" stop-color="#88abcb"/><stop offset="0.416" stop-color="#a3b3cf"/><stop offset="0.516" stop-color="#b7b2d2"/><stop offset="0.615" stop-color="#c7aacf"/><stop offset="0.713" stop-color="#d59ac4"/><stop offset="0.810" stop-color="#df84b2"/><stop offset="0.906" stop-color="#e66a99"/><stop offset="1.000" stop-color="#ec4f80"/></linearGradient>
<path fill="url(#B41)" d="M922 436.9L1170.7 212.1 1167.8 205.9 919.6 435.6z"/>
<linearGradient id="B42" gradientUnits="userSpaceOnUse" x1="918.4" y1="435" x2="1166.4" y2="202.8"><stop offset="0.000" stop-color="#3b52bb"/><stop offset="0.106" stop-color="#5475c1"/><stop offset="0.210" stop-color="#6f9ac7"/><stop offset="0.314" stop-color="#8aaccb"/><stop offset="0.415" stop-color="#a6b3cf"/><stop offset="0.516" stop-color="#b9b1d2"/><stop offset="0.615" stop-color="#c9a6cd"/><stop offset="0.713" stop-color="#d796c1"/><stop offset="0.810" stop-color="#e07eac"/><stop offset="0.906" stop-color="#e76293"/><stop offset="1.000" stop-color="#eb4879"/></linearGradient>
<path fill="url(#B42)" d="M919.6 435.6L1167.8 205.9 1165 199.7 917.2 434.4z"/>
<linearGradient id="B43" gradientUnits="userSpaceOnUse" x1="916" y1="433.8" x2="1163.5" y2="196.6"><stop offset="0.000" stop-color="#3c52bb"/><stop offset="0.106" stop-color="#5576c2"/><stop offset="0.210" stop-color="#709cc7"/><stop offset="0.313" stop-color="#8caccb"/><stop offset="0.415" stop-color="#a8b3cf"/><stop offset="0.516" stop-color="#bbb0d2"/><stop offset="0.615" stop-color="#cba3ca"/><stop offset="0.713" stop-color="#d992bf"/><stop offset="0.810" stop-color="#e177a6"/><stop offset="0.906" stop-color="#e95b8c"/><stop offset="1.000" stop-color="#eb4272"/></linearGradient>
<path fill="url(#B43)" d="M917.2 434.4L1165 199.7 1162.1 193.6 914.9 433.2z"/>
<linearGradient id="B44" gradientUnits="userSpaceOnUse" x1="913.7" y1="432.6" x2="1160.7" y2="190.5"><stop offset="0.000" stop-color="#3c53bc"/><stop offset="0.106" stop-color="#5577c2"/><stop offset="0.210" stop-color="#729ec7"/><stop offset="0.313" stop-color="#8eaccb"/><stop offset="0.415" stop-color="#a9b2cf"/><stop offset="0.516" stop-color="#bdafd1"/><stop offset="0.615" stop-color="#cda0c8"/><stop offset="0.713" stop-color="#da8dba"/><stop offset="0.810" stop-color="#e271a0"/><stop offset="0.905" stop-color="#ea5485"/><stop offset="1.000" stop-color="#ea3b6b"/></linearGradient>
<path fill="url(#B44)" d="M914.9 433.2L1162.1 193.6 1159.2 187.4 912.5 432z"/>
<linearGradient id="B45" gradientUnits="userSpaceOnUse" x1="911.3" y1="431.4" x2="1157.8" y2="184.4"><stop offset="0.000" stop-color="#3c53bc"/><stop offset="0.106" stop-color="#5678c2"/><stop offset="0.210" stop-color="#73a0c7"/><stop offset="0.313" stop-color="#90adcb"/><stop offset="0.415" stop-color="#abb1cf"/><stop offset="0.515" stop-color="#bfaed1"/><stop offset="0.615" stop-color="#ce9dc5"/><stop offset="0.713" stop-color="#db87b4"/><stop offset="0.810" stop-color="#e36b9a"/><stop offset="0.905" stop-color="#ea4e7e"/><stop offset="1.000" stop-color="#e93464"/></linearGradient>
<path fill="url(#B45)" d="M912.5 432L1159.2 187.4 1156.4 181.3 910.2 430.8z"/>
<linearGradient id="B46" gradientUnits="userSpaceOnUse" x1="909" y1="430.2" x2="1155" y2="178.3"><stop offset="0.000" stop-color="#3c53bd"/><stop offset="0.106" stop-color="#577ac2"/><stop offset="0.210" stop-color="#75a2c7"/><stop offset="0.313" stop-color="#92adcb"/><stop offset="0.415" stop-color="#adb1ce"/><stop offset="0.515" stop-color="#c1abcf"/><stop offset="0.614" stop-color="#d09ac3"/><stop offset="0.713" stop-color="#dc82af"/><stop offset="0.810" stop-color="#e46494"/><stop offset="0.905" stop-color="#e94878"/><stop offset="1.000" stop-color="#e82e5d"/></linearGradient>
<path fill="url(#B46)" d="M910.2 430.8L1156.4 181.3 1153.6 175.3 907.8 429.6z"/>
<linearGradient id="B47" gradientUnits="userSpaceOnUse" x1="906.7" y1="429" x2="1152.2" y2="172.2"><stop offset="0.000" stop-color="#3c53bd"/><stop offset="0.106" stop-color="#587bc3"/><stop offset="0.210" stop-color="#76a4c7"/><stop offset="0.313" stop-color="#95adcb"/><stop offset="0.414" stop-color="#afb0ce"/><stop offset="0.515" stop-color="#c2a9cd"/><stop offset="0.614" stop-color="#d296c1"/><stop offset="0.712" stop-color="#dd7caa"/><stop offset="0.809" stop-color="#e65e8e"/><stop offset="0.905" stop-color="#e94272"/><stop offset="1.000" stop-color="#e82756"/></linearGradient>
<path fill="url(#B47)" d="M907.8 429.6L1153.6 175.3 1150.8 169.2 905.5 428.4z"/>
<linearGradient id="B48" gradientUnits="userSpaceOnUse" x1="904.4" y1="427.8" x2="1149.4" y2="166.2"><stop offset="0.000" stop-color="#3c54bd"/><stop offset="0.105" stop-color="#597cc3"/><stop offset="0.210" stop-color="#78a5c7"/><stop offset="0.313" stop-color="#97aecb"/><stop offset="0.414" stop-color="#b0afce"/><stop offset="0.515" stop-color="#c4a6cb"/><stop offset="0.614" stop-color="#d393be"/><stop offset="0.712" stop-color="#de77a5"/><stop offset="0.809" stop-color="#e75788"/><stop offset="0.905" stop-color="#e83c6c"/><stop offset="1.000" stop-color="#e7204f"/></linearGradient>
<path fill="url(#B48)" d="M905.5 428.4L1150.8 169.2 1148 163.2 903.2 427.2z"/>
<linearGradient id="B49" gradientUnits="userSpaceOnUse" x1="902.1" y1="426.6" x2="1146.6" y2="160.2"><stop offset="0.000" stop-color="#3d54be"/><stop offset="0.105" stop-color="#5a7dc3"/><stop offset="0.210" stop-color="#79a5c7"/><stop offset="0.312" stop-color="#99aecb"/><stop offset="0.414" stop-color="#b2afce"/><stop offset="0.515" stop-color="#c5a4c9"/><stop offset="0.614" stop-color="#d590bc"/><stop offset="0.712" stop-color="#df719f"/><stop offset="0.809" stop-color="#e85182"/><stop offset="0.905" stop-color="#e73665"/><stop offset="1.000" stop-color="#e61948"/></linearGradient>
<path fill="url(#B49)" d="M903.2 427.2L1148 163.2 1145.2 157.2 900.9 426z"/>
<path fill="none" stroke="#000" stroke-opacity="1" stroke-width="1.0" d="M1034.5 494.7L900.9 426M1040.4 494.6L906.1 420.3M1046.3 494.6L911.2 414.6M1052.1 494.5L916.4 409M1057.9 494.5L921.5 403.3M1063.7 494.4L926.6 397.7M1069.5 494.4L931.8 392.1M1075.2 494.3L936.9 386.5M1080.9 494.3L941.9 380.9M1086.6 494.2L947 375.3M1092.3 494.2L952.1 369.7M1097.9 494.1L957.1 364.1M1103.6 494.1L962.2 358.6M1109.1 494L967.2 353.1M1114.7 494L972.2 347.6M1120.3 493.9L977.2 342M1125.8 493.9L982.2 336.6M1131.3 493.8L987.2 331.1M1136.8 493.8L992.1 325.6M1142.3 493.7L997.1 320.2M1147.7 493.7L1002 314.7M1153.1 493.6L1007 309.3M1158.5 493.6L1011.9 303.9M1163.9 493.5L1016.8 298.5M1169.2 493.5L1021.7 293.1M1174.6 493.4L1026.6 287.7M1179.9 493.4L1031.5 282.3M1185.2 493.3L1036.3 277M1190.4 493.3L1041.2 271.6M1195.7 493.2L1046 266.3M1200.9 493.2L1050.9 261M1206.1 493.1L1055.7 255.7M1211.3 493.1L1060.5 250.4M1216.4 493.1L1065.3 245.1M1221.6 493L1070.1 239.9M1226.7 493L1074.8 234.6M1231.8 492.9L1079.6 229.4M1236.9 492.9L1084.4 224.1M1241.9 492.8L1089.1 218.9M1247 492.8L1093.8 213.7M1252 492.7L1098.6 208.5M1257 492.7L1103.3 203.3M1262 492.6L1108 198.2M1266.9 492.6L1112.7 193M1271.9 492.6L1117.3 187.8M1276.8 492.5L1122 182.7M1281.7 492.5L1126.7 177.6M1286.6 492.4L1131.3 172.5M1291.5 492.4L1135.9 167.4M1296.3 492.3L1140.6 162.3M1301.2 492.3L1145.2 157.2"/>
<path fill="none" stroke="#000" stroke-opacity="1" stroke-width="1.45" d="M1034.5 494.7L1301.2 492.3M1031.4 493.1L1297.7 484.8M1028.3 491.5L1294.2 477.3M1025.2 489.9L1290.7 469.9M1022.2 488.4L1287.3 462.5M1019.2 486.8L1283.9 455.2M1016.2 485.3L1280.5 447.9M1013.2 483.7L1277.1 440.6M1010.2 482.2L1273.7 433.3M1007.2 480.7L1270.4 426.1M1004.3 479.2L1267 419M1001.4 477.7L1263.7 411.8M998.5 476.2L1260.4 404.7M995.6 474.7L1257.1 397.6M992.8 473.2L1253.8 390.6M989.9 471.8L1250.5 383.6M987.1 470.3L1247.3 376.6M984.3 468.9L1244.1 369.7M981.5 467.4L1240.8 362.7M978.7 466L1237.6 355.9M976 464.6L1234.5 349M973.3 463.2L1231.3 342.2M970.5 461.8L1228.1 335.4M967.8 460.4L1225 328.6M965.2 459L1221.8 321.9M962.5 457.7L1218.7 315.2M959.9 456.3L1215.6 308.6M957.2 455L1212.5 301.9M954.6 453.6L1209.5 295.3M952 452.3L1206.4 288.7M949.4 451L1203.4 282.2M946.9 449.6L1200.3 275.7M944.3 448.3L1197.3 269.2M941.8 447L1194.3 262.7M939.2 445.7L1191.3 256.3M936.7 444.4L1188.3 249.9M934.3 443.2L1185.4 243.5M931.8 441.9L1182.4 237.2M929.3 440.6L1179.5 230.9M926.9 439.4L1176.5 224.6M924.4 438.1L1173.6 218.3M922 436.9L1170.7 212.1M919.6 435.6L1167.8 205.9M917.2 434.4L1165 199.7M914.9 433.2L1162.1 193.6M912.5 432L1159.2 187.4M910.2 430.8L1156.4 181.3M907.8 429.6L1153.6 175.3M905.5 428.4L1150.8 169.2M903.2 427.2L1148 163.2M900.9 426L1145.2 157.2"/>
<g stroke="#151515" stroke-width="1.9" stroke-linecap="round" fill="none">
<path d="M857.8 155.4L1131.6 144.8 1314.2 164.6 1006.9 179.6z"/>
<line x1="857.8" y1="155.4" x2="864.9" y2="467.3"/>
<line x1="1006.9" y1="179.6" x2="1009.6" y2="550.7"/>
<line x1="1314.2" y1="164.6" x2="1305.9" y2="498.7"/>
<line x1="864.9" y1="467.3" x2="1009.6" y2="550.7"/>
<line x1="1009.6" y1="550.7" x2="1305.9" y2="498.7"/>
</g>
<g stroke="#151515" stroke-width="1.8">
<line x1="845.6" y1="236.1" x2="859.6" y2="236.1"/>
<line x1="848.7" y1="369.7" x2="862.7" y2="369.7"/>
<line x1="865.6" y1="467.4" x2="856.3" y2="480"/>
<line x1="908" y1="493.6" x2="898.7" y2="506.2"/>
<line x1="956.1" y1="521" x2="946.8" y2="533.6"/>
<line x1="1009.9" y1="550.7" x2="1000.6" y2="563.3"/>
<line x1="1009.9" y1="550.7" x2="1016.7" y2="564.3"/>
<line x1="1121.6" y1="532" x2="1128.4" y2="545.6"/>
<line x1="1224.6" y1="514.2" x2="1231.4" y2="527.8"/>
</g>
<g font-size="22" font-style="italic" fill="#1a1a1a">
<text x="820.5" y="244.8" textLength="23.15" lengthAdjust="spacingAndGlyphs">20</text>
<text x="824.8" y="377" textLength="22.95" lengthAdjust="spacingAndGlyphs">10</text>
<text x="840.9" y="497.3">8</text>
<text x="882.1" y="523.6">6</text>
<text x="929.5" y="553.2">4</text>
<text x="982.5" y="588.2">2</text>
<text x="989" y="589.7" textLength="66.07" lengthAdjust="spacingAndGlyphs">3e+09</text>
<text x="1102.4" y="568.6" textLength="65.02" lengthAdjust="spacingAndGlyphs">2e+09</text>
<text x="1205.9" y="550" textLength="64.52" lengthAdjust="spacingAndGlyphs">1e+09</text>
</g>
<g stroke="#151515" stroke-width="1.8" stroke-dasharray="7 4.6">
<line x1="416.9" y1="829.6" x2="415.2" y2="1115"/>
<line x1="150.2" y1="1152.1" x2="415.2" y2="1115"/>
<line x1="415.2" y1="1115" x2="591.2" y2="1183.5"/>
</g>
<linearGradient id="C0" gradientUnits="userSpaceOnUse" x1="291" y1="1188.1" x2="492" y2="1166.9"><stop offset="0.000" stop-color="#2b33dc"/><stop offset="0.107" stop-color="#2a32dc"/><stop offset="0.212" stop-color="#2830db"/><stop offset="0.315" stop-color="#272edb"/><stop offset="0.417" stop-color="#262cda"/><stop offset="0.518" stop-color="#252ada"/><stop offset="0.617" stop-color="#2428d9"/><stop offset="0.715" stop-color="#2326d9"/><stop offset="0.811" stop-color="#2124d8"/><stop offset="0.906" stop-color="#2023d8"/><stop offset="1.000" stop-color="#1f21d7"/></linearGradient>
<path fill="url(#C0)" d="M292.7 1192L493.9 1170.1 490.2 1163.7 289.4 1184.2z"/>
<linearGradient id="C1" gradientUnits="userSpaceOnUse" x1="287.7" y1="1180.3" x2="488.4" y2="1160.5"><stop offset="0.000" stop-color="#303ddc"/><stop offset="0.107" stop-color="#2f3bdb"/><stop offset="0.212" stop-color="#2e39db"/><stop offset="0.315" stop-color="#2d37da"/><stop offset="0.417" stop-color="#2b35da"/><stop offset="0.518" stop-color="#2a33d9"/><stop offset="0.617" stop-color="#2931d9"/><stop offset="0.715" stop-color="#282fd8"/><stop offset="0.811" stop-color="#262dd8"/><stop offset="0.906" stop-color="#252bd7"/><stop offset="1.000" stop-color="#2429d7"/></linearGradient>
<path fill="url(#C1)" d="M289.4 1184.2L490.2 1163.7 486.6 1157.3 286.1 1176.4z"/>
<linearGradient id="C2" gradientUnits="userSpaceOnUse" x1="284.4" y1="1172.5" x2="484.8" y2="1154.1"><stop offset="0.000" stop-color="#3646db"/><stop offset="0.107" stop-color="#3544db"/><stop offset="0.212" stop-color="#3342da"/><stop offset="0.315" stop-color="#3240da"/><stop offset="0.417" stop-color="#313dd9"/><stop offset="0.518" stop-color="#2f3bd9"/><stop offset="0.617" stop-color="#2e39d8"/><stop offset="0.715" stop-color="#2c37d8"/><stop offset="0.811" stop-color="#2b35d7"/><stop offset="0.906" stop-color="#2a33d7"/><stop offset="1.000" stop-color="#2830d6"/></linearGradient>
<path fill="url(#C2)" d="M286.1 1176.4L486.6 1157.3 483 1151 282.8 1168.6z"/>
<linearGradient id="C3" gradientUnits="userSpaceOnUse" x1="281.2" y1="1164.8" x2="481.2" y2="1147.8"><stop offset="0.000" stop-color="#3c50da"/><stop offset="0.107" stop-color="#3a4dda"/><stop offset="0.212" stop-color="#394bda"/><stop offset="0.315" stop-color="#3749d9"/><stop offset="0.417" stop-color="#3646d9"/><stop offset="0.518" stop-color="#3444d8"/><stop offset="0.617" stop-color="#3342d8"/><stop offset="0.715" stop-color="#313fd7"/><stop offset="0.811" stop-color="#303dd7"/><stop offset="0.906" stop-color="#2f3bd6"/><stop offset="1.000" stop-color="#2d38d6"/></linearGradient>
<path fill="url(#C3)" d="M282.8 1168.6L483 1151 479.4 1144.7 279.6 1160.9z"/>
<linearGradient id="C4" gradientUnits="userSpaceOnUse" x1="277.9" y1="1157.1" x2="477.6" y2="1141.5"><stop offset="0.000" stop-color="#4159da"/><stop offset="0.107" stop-color="#4057d9"/><stop offset="0.212" stop-color="#3e54d9"/><stop offset="0.315" stop-color="#3d51d9"/><stop offset="0.417" stop-color="#3b4fd8"/><stop offset="0.518" stop-color="#394cd8"/><stop offset="0.617" stop-color="#384ad7"/><stop offset="0.715" stop-color="#3647d7"/><stop offset="0.811" stop-color="#3545d6"/><stop offset="0.906" stop-color="#3343d6"/><stop offset="1.000" stop-color="#3240d5"/></linearGradient>
<path fill="url(#C4)" d="M279.6 1160.9L479.4 1144.7 475.8 1138.4 276.3 1153.2z"/>
<linearGradient id="C5" gradientUnits="userSpaceOnUse" x1="274.7" y1="1149.4" x2="474.1" y2="1135.3"><stop offset="0.000" stop-color="#4762d9"/><stop offset="0.107" stop-color="#4560d9"/><stop offset="0.212" stop-color="#445dd8"/><stop offset="0.315" stop-color="#425ad8"/><stop offset="0.417" stop-color="#4058d8"/><stop offset="0.518" stop-color="#3f55d7"/><stop offset="0.617" stop-color="#3d52d7"/><stop offset="0.715" stop-color="#3b50d6"/><stop offset="0.811" stop-color="#3a4dd6"/><stop offset="0.906" stop-color="#384ad5"/><stop offset="1.000" stop-color="#3748d5"/></linearGradient>
<path fill="url(#C5)" d="M276.3 1153.2L475.8 1138.4 472.3 1132.2 273.1 1145.6z"/>
<linearGradient id="C6" gradientUnits="userSpaceOnUse" x1="271.5" y1="1141.8" x2="470.5" y2="1129.1"><stop offset="0.000" stop-color="#4d6cd8"/><stop offset="0.107" stop-color="#4b69d8"/><stop offset="0.212" stop-color="#4966d8"/><stop offset="0.315" stop-color="#4763d8"/><stop offset="0.417" stop-color="#4560d7"/><stop offset="0.518" stop-color="#445ed7"/><stop offset="0.617" stop-color="#425bd6"/><stop offset="0.715" stop-color="#4058d6"/><stop offset="0.811" stop-color="#3f55d5"/><stop offset="0.906" stop-color="#3d52d5"/><stop offset="1.000" stop-color="#3b50d4"/></linearGradient>
<path fill="url(#C6)" d="M273.1 1145.6L472.3 1132.2 468.8 1126 269.9 1138.1z"/>
<linearGradient id="C7" gradientUnits="userSpaceOnUse" x1="268.3" y1="1134.3" x2="467" y2="1122.9"><stop offset="0.000" stop-color="#5475d7"/><stop offset="0.107" stop-color="#5172d7"/><stop offset="0.212" stop-color="#4f6fd7"/><stop offset="0.315" stop-color="#4d6cd7"/><stop offset="0.417" stop-color="#4b69d6"/><stop offset="0.518" stop-color="#4966d6"/><stop offset="0.617" stop-color="#4763d6"/><stop offset="0.715" stop-color="#4560d5"/><stop offset="0.811" stop-color="#435dd5"/><stop offset="0.906" stop-color="#425ad4"/><stop offset="1.000" stop-color="#4057d4"/></linearGradient>
<path fill="url(#C7)" d="M269.9 1138.1L468.8 1126 465.3 1119.8 266.8 1130.5z"/>
<linearGradient id="C8" gradientUnits="userSpaceOnUse" x1="265.2" y1="1126.8" x2="463.5" y2="1116.7"><stop offset="0.000" stop-color="#5a7ed6"/><stop offset="0.107" stop-color="#587bd6"/><stop offset="0.212" stop-color="#5678d6"/><stop offset="0.315" stop-color="#5375d6"/><stop offset="0.417" stop-color="#5171d5"/><stop offset="0.518" stop-color="#4f6ed5"/><stop offset="0.617" stop-color="#4d6bd5"/><stop offset="0.715" stop-color="#4b68d4"/><stop offset="0.811" stop-color="#4865d4"/><stop offset="0.906" stop-color="#4662d4"/><stop offset="1.000" stop-color="#445fd3"/></linearGradient>
<path fill="url(#C8)" d="M266.8 1130.5L465.3 1119.8 461.8 1113.7 263.6 1123.1z"/>
<linearGradient id="C9" gradientUnits="userSpaceOnUse" x1="262" y1="1119.3" x2="460" y2="1110.6"><stop offset="0.000" stop-color="#6187d5"/><stop offset="0.107" stop-color="#5e84d5"/><stop offset="0.212" stop-color="#5c80d5"/><stop offset="0.315" stop-color="#5a7dd5"/><stop offset="0.417" stop-color="#577ad4"/><stop offset="0.518" stop-color="#5577d4"/><stop offset="0.617" stop-color="#5374d4"/><stop offset="0.715" stop-color="#5070d3"/><stop offset="0.811" stop-color="#4e6dd3"/><stop offset="0.906" stop-color="#4c6ad3"/><stop offset="1.000" stop-color="#4967d2"/></linearGradient>
<path fill="url(#C9)" d="M263.6 1123.1L461.8 1113.7 458.3 1107.6 260.5 1115.6z"/>
<linearGradient id="C10" gradientUnits="userSpaceOnUse" x1="258.9" y1="1111.9" x2="456.6" y2="1104.6"><stop offset="0.000" stop-color="#6790d4"/><stop offset="0.107" stop-color="#658cd4"/><stop offset="0.212" stop-color="#6289d4"/><stop offset="0.315" stop-color="#6086d4"/><stop offset="0.417" stop-color="#5d82d3"/><stop offset="0.518" stop-color="#5b7fd3"/><stop offset="0.617" stop-color="#597cd3"/><stop offset="0.715" stop-color="#5678d2"/><stop offset="0.811" stop-color="#5475d2"/><stop offset="0.906" stop-color="#5172d2"/><stop offset="1.000" stop-color="#4f6ed1"/></linearGradient>
<path fill="url(#C10)" d="M260.5 1115.6L458.3 1107.6 454.9 1101.5 257.4 1108.2z"/>
<linearGradient id="C11" gradientUnits="userSpaceOnUse" x1="255.8" y1="1104.5" x2="453.2" y2="1098.5"><stop offset="0.000" stop-color="#6e99d3"/><stop offset="0.107" stop-color="#6b95d3"/><stop offset="0.212" stop-color="#6992d3"/><stop offset="0.315" stop-color="#668ed2"/><stop offset="0.417" stop-color="#648bd2"/><stop offset="0.518" stop-color="#6187d2"/><stop offset="0.617" stop-color="#5e84d2"/><stop offset="0.715" stop-color="#5c80d1"/><stop offset="0.811" stop-color="#597dd1"/><stop offset="0.906" stop-color="#5779d1"/><stop offset="1.000" stop-color="#5476d1"/></linearGradient>
<path fill="url(#C11)" d="M257.4 1108.2L454.9 1101.5 451.4 1095.5 254.3 1100.9z"/>
<linearGradient id="C12" gradientUnits="userSpaceOnUse" x1="252.7" y1="1097.2" x2="449.7" y2="1092.5"><stop offset="0.000" stop-color="#74a2d2"/><stop offset="0.107" stop-color="#729ed2"/><stop offset="0.212" stop-color="#6f9ad2"/><stop offset="0.315" stop-color="#6c97d1"/><stop offset="0.417" stop-color="#6a93d1"/><stop offset="0.518" stop-color="#678fd1"/><stop offset="0.617" stop-color="#648cd1"/><stop offset="0.715" stop-color="#6288d0"/><stop offset="0.811" stop-color="#5f85d0"/><stop offset="0.906" stop-color="#5c81d0"/><stop offset="1.000" stop-color="#5a7dd0"/></linearGradient>
<path fill="url(#C12)" d="M254.3 1100.9L451.4 1095.5 448 1089.5 251.2 1093.6z"/>
<linearGradient id="C13" gradientUnits="userSpaceOnUse" x1="249.6" y1="1089.9" x2="446.3" y2="1086.5"><stop offset="0.000" stop-color="#7babd1"/><stop offset="0.107" stop-color="#78a7d1"/><stop offset="0.212" stop-color="#75a3d1"/><stop offset="0.315" stop-color="#729fd0"/><stop offset="0.417" stop-color="#709bd0"/><stop offset="0.518" stop-color="#6d98d0"/><stop offset="0.617" stop-color="#6a94d0"/><stop offset="0.715" stop-color="#6790d0"/><stop offset="0.811" stop-color="#658ccf"/><stop offset="0.906" stop-color="#6289cf"/><stop offset="1.000" stop-color="#5f85cf"/></linearGradient>
<path fill="url(#C13)" d="M251.2 1093.6L448 1089.5 444.6 1083.6 248.1 1086.3z"/>
<linearGradient id="C14" gradientUnits="userSpaceOnUse" x1="246.6" y1="1082.7" x2="443" y2="1080.6"><stop offset="0.000" stop-color="#81add0"/><stop offset="0.107" stop-color="#7eadd0"/><stop offset="0.212" stop-color="#7cacd0"/><stop offset="0.315" stop-color="#79a8cf"/><stop offset="0.417" stop-color="#76a4cf"/><stop offset="0.518" stop-color="#73a0cf"/><stop offset="0.617" stop-color="#709ccf"/><stop offset="0.715" stop-color="#6d98cf"/><stop offset="0.811" stop-color="#6a94ce"/><stop offset="0.906" stop-color="#6790ce"/><stop offset="1.000" stop-color="#658cce"/></linearGradient>
<path fill="url(#C14)" d="M248.1 1086.3L444.6 1083.6 441.3 1077.6 245.1 1079.1z"/>
<linearGradient id="C15" gradientUnits="userSpaceOnUse" x1="243.6" y1="1075.5" x2="439.6" y2="1074.7"><stop offset="0.000" stop-color="#87aecf"/><stop offset="0.107" stop-color="#84adcf"/><stop offset="0.212" stop-color="#81accf"/><stop offset="0.315" stop-color="#7facce"/><stop offset="0.417" stop-color="#7cabce"/><stop offset="0.518" stop-color="#79a8ce"/><stop offset="0.617" stop-color="#76a4ce"/><stop offset="0.715" stop-color="#73a0ce"/><stop offset="0.811" stop-color="#709ccd"/><stop offset="0.906" stop-color="#6d98cd"/><stop offset="1.000" stop-color="#6a94cd"/></linearGradient>
<path fill="url(#C15)" d="M245.1 1079.1L441.3 1077.6 437.9 1071.7 242 1071.9z"/>
<linearGradient id="C16" gradientUnits="userSpaceOnUse" x1="240.5" y1="1068.3" x2="436.3" y2="1068.8"><stop offset="0.000" stop-color="#8daece"/><stop offset="0.107" stop-color="#8aadce"/><stop offset="0.211" stop-color="#87adce"/><stop offset="0.315" stop-color="#84acce"/><stop offset="0.417" stop-color="#81abcd"/><stop offset="0.518" stop-color="#7fabcd"/><stop offset="0.617" stop-color="#7caacd"/><stop offset="0.715" stop-color="#79a8cd"/><stop offset="0.811" stop-color="#76a4cc"/><stop offset="0.906" stop-color="#729fcc"/><stop offset="1.000" stop-color="#6f9bcc"/></linearGradient>
<path fill="url(#C16)" d="M242 1071.9L437.9 1071.7 434.6 1065.9 239 1064.7z"/>
<linearGradient id="C17" gradientUnits="userSpaceOnUse" x1="237.5" y1="1061.2" x2="432.9" y2="1063"><stop offset="0.000" stop-color="#93afcd"/><stop offset="0.107" stop-color="#90aecd"/><stop offset="0.211" stop-color="#8dadcd"/><stop offset="0.315" stop-color="#8aaccd"/><stop offset="0.417" stop-color="#87accc"/><stop offset="0.518" stop-color="#84abcc"/><stop offset="0.617" stop-color="#81aacc"/><stop offset="0.715" stop-color="#7eaacc"/><stop offset="0.811" stop-color="#7ba9cb"/><stop offset="0.906" stop-color="#78a7cb"/><stop offset="1.000" stop-color="#75a3cb"/></linearGradient>
<path fill="url(#C17)" d="M239 1064.7L434.6 1065.9 431.3 1060 236 1057.6z"/>
<linearGradient id="C18" gradientUnits="userSpaceOnUse" x1="234.5" y1="1054.1" x2="429.6" y2="1057.1"><stop offset="0.000" stop-color="#99afcc"/><stop offset="0.106" stop-color="#96aecc"/><stop offset="0.211" stop-color="#93aecc"/><stop offset="0.315" stop-color="#90adcc"/><stop offset="0.417" stop-color="#8daccb"/><stop offset="0.518" stop-color="#8aabcb"/><stop offset="0.617" stop-color="#87abcb"/><stop offset="0.715" stop-color="#83aacb"/><stop offset="0.811" stop-color="#80a9cb"/><stop offset="0.906" stop-color="#7da8ca"/><stop offset="1.000" stop-color="#7aa8ca"/></linearGradient>
<path fill="url(#C18)" d="M236 1057.6L431.3 1060 428 1054.3 233.1 1050.6z"/>
<linearGradient id="C19" gradientUnits="userSpaceOnUse" x1="231.6" y1="1047.1" x2="426.3" y2="1051.4"><stop offset="0.000" stop-color="#a0b0cb"/><stop offset="0.106" stop-color="#9cafcb"/><stop offset="0.211" stop-color="#99aecb"/><stop offset="0.315" stop-color="#96adcb"/><stop offset="0.417" stop-color="#92adcb"/><stop offset="0.517" stop-color="#8facca"/><stop offset="0.617" stop-color="#8cabca"/><stop offset="0.714" stop-color="#89aaca"/><stop offset="0.811" stop-color="#86aaca"/><stop offset="0.906" stop-color="#82a9c9"/><stop offset="1.000" stop-color="#7fa8c9"/></linearGradient>
<path fill="url(#C19)" d="M233.1 1050.6L428 1054.3 424.7 1048.5 230.1 1043.5z"/>
<linearGradient id="C20" gradientUnits="userSpaceOnUse" x1="228.6" y1="1040" x2="423.1" y2="1045.6"><stop offset="0.000" stop-color="#a4afca"/><stop offset="0.106" stop-color="#a2afca"/><stop offset="0.211" stop-color="#9faeca"/><stop offset="0.315" stop-color="#9baeca"/><stop offset="0.417" stop-color="#98adca"/><stop offset="0.517" stop-color="#95acc9"/><stop offset="0.617" stop-color="#91abc9"/><stop offset="0.714" stop-color="#8eabc9"/><stop offset="0.811" stop-color="#8baac9"/><stop offset="0.906" stop-color="#87a9c9"/><stop offset="1.000" stop-color="#84a8c8"/></linearGradient>
<path fill="url(#C20)" d="M230.1 1043.5L424.7 1048.5 421.4 1042.8 227.2 1036.6z"/>
<linearGradient id="C21" gradientUnits="userSpaceOnUse" x1="225.7" y1="1033.1" x2="419.8" y2="1039.9"><stop offset="0.000" stop-color="#a8adc9"/><stop offset="0.106" stop-color="#a6adc9"/><stop offset="0.211" stop-color="#a3aec9"/><stop offset="0.315" stop-color="#a1aec9"/><stop offset="0.417" stop-color="#9eadc9"/><stop offset="0.517" stop-color="#9aadc9"/><stop offset="0.617" stop-color="#97acc8"/><stop offset="0.714" stop-color="#93abc8"/><stop offset="0.811" stop-color="#90aac8"/><stop offset="0.906" stop-color="#8da9c8"/><stop offset="1.000" stop-color="#89a9c7"/></linearGradient>
<path fill="url(#C21)" d="M227.2 1036.6L421.4 1042.8 418.2 1037 224.2 1029.6z"/>
<linearGradient id="C22" gradientUnits="userSpaceOnUse" x1="222.8" y1="1026.2" x2="416.6" y2="1034.2"><stop offset="0.000" stop-color="#ababc8"/><stop offset="0.106" stop-color="#a9abc8"/><stop offset="0.211" stop-color="#a7acc8"/><stop offset="0.315" stop-color="#a4acc8"/><stop offset="0.417" stop-color="#a2adc8"/><stop offset="0.517" stop-color="#a0adc8"/><stop offset="0.617" stop-color="#9cacc7"/><stop offset="0.714" stop-color="#99abc7"/><stop offset="0.811" stop-color="#95abc7"/><stop offset="0.906" stop-color="#92aac7"/><stop offset="1.000" stop-color="#8ea9c7"/></linearGradient>
<path fill="url(#C22)" d="M224.2 1029.6L418.2 1037 415 1031.4 221.3 1022.7z"/>
<linearGradient id="C23" gradientUnits="userSpaceOnUse" x1="219.9" y1="1019.3" x2="413.4" y2="1028.5"><stop offset="0.000" stop-color="#afa9c7"/><stop offset="0.106" stop-color="#aca9c7"/><stop offset="0.211" stop-color="#aaaac7"/><stop offset="0.315" stop-color="#a8aac7"/><stop offset="0.417" stop-color="#a5abc7"/><stop offset="0.517" stop-color="#a3abc7"/><stop offset="0.617" stop-color="#a1acc7"/><stop offset="0.714" stop-color="#9eacc6"/><stop offset="0.811" stop-color="#9aabc6"/><stop offset="0.906" stop-color="#97aac6"/><stop offset="1.000" stop-color="#93a9c6"/></linearGradient>
<path fill="url(#C23)" d="M221.3 1022.7L415 1031.4 411.8 1025.7 218.4 1015.8z"/>
<linearGradient id="C24" gradientUnits="userSpaceOnUse" x1="217" y1="1012.4" x2="410.2" y2="1022.9"><stop offset="0.000" stop-color="#b2a7c7"/><stop offset="0.106" stop-color="#b0a7c6"/><stop offset="0.211" stop-color="#aea8c6"/><stop offset="0.315" stop-color="#aba8c6"/><stop offset="0.417" stop-color="#a9a9c6"/><stop offset="0.517" stop-color="#a6a9c6"/><stop offset="0.617" stop-color="#a4aac6"/><stop offset="0.714" stop-color="#a1aac6"/><stop offset="0.811" stop-color="#9fabc5"/><stop offset="0.906" stop-color="#9cabc5"/><stop offset="1.000" stop-color="#98aac5"/></linearGradient>
<path fill="url(#C24)" d="M218.4 1015.8L411.8 1025.7 408.6 1020.1 215.5 1009z"/>
<linearGradient id="C25" gradientUnits="userSpaceOnUse" x1="214.1" y1="1005.6" x2="407" y2="1017.3"><stop offset="0.000" stop-color="#b5a3c4"/><stop offset="0.106" stop-color="#b3a5c5"/><stop offset="0.211" stop-color="#b1a6c5"/><stop offset="0.315" stop-color="#aea6c5"/><stop offset="0.417" stop-color="#aca7c5"/><stop offset="0.517" stop-color="#a9a7c5"/><stop offset="0.617" stop-color="#a7a8c5"/><stop offset="0.714" stop-color="#a5a8c5"/><stop offset="0.811" stop-color="#a2a9c4"/><stop offset="0.906" stop-color="#a0a9c4"/><stop offset="1.000" stop-color="#9daac4"/></linearGradient>
<path fill="url(#C25)" d="M215.5 1009L408.6 1020.1 405.4 1014.5 212.7 1002.2z"/>
<linearGradient id="C26" gradientUnits="userSpaceOnUse" x1="211.3" y1="998.8" x2="403.8" y2="1011.8"><stop offset="0.000" stop-color="#b89ec1"/><stop offset="0.106" stop-color="#b6a1c2"/><stop offset="0.211" stop-color="#b4a3c4"/><stop offset="0.315" stop-color="#b2a4c4"/><stop offset="0.417" stop-color="#afa5c4"/><stop offset="0.517" stop-color="#ada6c4"/><stop offset="0.617" stop-color="#aaa6c4"/><stop offset="0.714" stop-color="#a8a7c4"/><stop offset="0.811" stop-color="#a5a7c4"/><stop offset="0.906" stop-color="#a3a8c3"/><stop offset="1.000" stop-color="#a0a8c3"/></linearGradient>
<path fill="url(#C26)" d="M212.7 1002.2L405.4 1014.5 402.2 1009 209.8 995.5z"/>
<linearGradient id="C27" gradientUnits="userSpaceOnUse" x1="208.4" y1="992.1" x2="400.7" y2="1006.2"><stop offset="0.000" stop-color="#ba99bd"/><stop offset="0.106" stop-color="#b89cbe"/><stop offset="0.211" stop-color="#b69ec0"/><stop offset="0.315" stop-color="#b4a1c2"/><stop offset="0.417" stop-color="#b2a3c3"/><stop offset="0.517" stop-color="#b0a4c3"/><stop offset="0.616" stop-color="#ada4c3"/><stop offset="0.714" stop-color="#aba5c3"/><stop offset="0.811" stop-color="#a8a5c3"/><stop offset="0.906" stop-color="#a5a6c3"/><stop offset="1.000" stop-color="#a3a6c2"/></linearGradient>
<path fill="url(#C27)" d="M209.8 995.5L402.2 1009 399.1 1003.5 207 988.8z"/>
<linearGradient id="C28" gradientUnits="userSpaceOnUse" x1="205.6" y1="985.4" x2="397.5" y2="1000.7"><stop offset="0.000" stop-color="#bc94b9"/><stop offset="0.106" stop-color="#ba97bb"/><stop offset="0.211" stop-color="#b899bc"/><stop offset="0.315" stop-color="#b69cbe"/><stop offset="0.417" stop-color="#b59ec0"/><stop offset="0.517" stop-color="#b3a1c1"/><stop offset="0.616" stop-color="#b0a2c2"/><stop offset="0.714" stop-color="#aea3c2"/><stop offset="0.811" stop-color="#aba4c2"/><stop offset="0.906" stop-color="#a8a4c2"/><stop offset="1.000" stop-color="#a6a5c2"/></linearGradient>
<path fill="url(#C28)" d="M207 988.8L399.1 1003.5 396 998 204.2 982.1z"/>
<linearGradient id="C29" gradientUnits="userSpaceOnUse" x1="202.8" y1="978.8" x2="394.4" y2="995.2"><stop offset="0.000" stop-color="#be8fb5"/><stop offset="0.106" stop-color="#bc92b7"/><stop offset="0.211" stop-color="#bb95b8"/><stop offset="0.315" stop-color="#b997ba"/><stop offset="0.417" stop-color="#b79abc"/><stop offset="0.517" stop-color="#b59cbe"/><stop offset="0.616" stop-color="#b39ebf"/><stop offset="0.714" stop-color="#b1a1c1"/><stop offset="0.811" stop-color="#aea2c1"/><stop offset="0.906" stop-color="#aba2c1"/><stop offset="1.000" stop-color="#a9a3c1"/></linearGradient>
<path fill="url(#C29)" d="M204.2 982.1L396 998 392.9 992.5 201.4 975.4z"/>
<linearGradient id="C30" gradientUnits="userSpaceOnUse" x1="200" y1="972.1" x2="391.3" y2="989.8"><stop offset="0.000" stop-color="#c18ab1"/><stop offset="0.106" stop-color="#bf8db3"/><stop offset="0.211" stop-color="#bd90b5"/><stop offset="0.315" stop-color="#bb92b7"/><stop offset="0.417" stop-color="#b995b8"/><stop offset="0.517" stop-color="#b797ba"/><stop offset="0.616" stop-color="#b59abc"/><stop offset="0.714" stop-color="#b39cbd"/><stop offset="0.811" stop-color="#b19fbf"/><stop offset="0.906" stop-color="#aea1c0"/><stop offset="1.000" stop-color="#aca1c0"/></linearGradient>
<path fill="url(#C30)" d="M201.4 975.4L392.9 992.5 389.8 987.1 198.6 968.8z"/>
<linearGradient id="C31" gradientUnits="userSpaceOnUse" x1="197.2" y1="965.5" x2="388.2" y2="984.4"><stop offset="0.000" stop-color="#c386ad"/><stop offset="0.106" stop-color="#c188af"/><stop offset="0.211" stop-color="#bf8bb1"/><stop offset="0.315" stop-color="#bd8eb3"/><stop offset="0.417" stop-color="#bb90b5"/><stop offset="0.517" stop-color="#b993b6"/><stop offset="0.616" stop-color="#b795b8"/><stop offset="0.714" stop-color="#b598ba"/><stop offset="0.811" stop-color="#b39bbc"/><stop offset="0.906" stop-color="#b19dbd"/><stop offset="1.000" stop-color="#aea0bf"/></linearGradient>
<path fill="url(#C31)" d="M198.6 968.8L389.8 987.1 386.7 981.7 195.8 962.3z"/>
<linearGradient id="C32" gradientUnits="userSpaceOnUse" x1="194.5" y1="959" x2="385.2" y2="979"><stop offset="0.000" stop-color="#c47fa8"/><stop offset="0.106" stop-color="#c383ab"/><stop offset="0.211" stop-color="#c186ad"/><stop offset="0.315" stop-color="#bf89af"/><stop offset="0.417" stop-color="#bd8cb1"/><stop offset="0.517" stop-color="#bb8eb3"/><stop offset="0.616" stop-color="#b991b5"/><stop offset="0.714" stop-color="#b794b7"/><stop offset="0.811" stop-color="#b496b8"/><stop offset="0.906" stop-color="#b299ba"/><stop offset="1.000" stop-color="#b09bbc"/></linearGradient>
<path fill="url(#C32)" d="M195.8 962.3L386.7 981.7 383.6 976.3 193.1 955.7z"/>
<linearGradient id="C33" gradientUnits="userSpaceOnUse" x1="191.7" y1="952.5" x2="382.1" y2="973.6"><stop offset="0.000" stop-color="#c578a1"/><stop offset="0.106" stop-color="#c47da5"/><stop offset="0.211" stop-color="#c381a9"/><stop offset="0.315" stop-color="#c184ac"/><stop offset="0.417" stop-color="#bf87ad"/><stop offset="0.517" stop-color="#bd8aaf"/><stop offset="0.616" stop-color="#bb8db1"/><stop offset="0.714" stop-color="#b88fb3"/><stop offset="0.811" stop-color="#b692b5"/><stop offset="0.906" stop-color="#b495b7"/><stop offset="1.000" stop-color="#b297b9"/></linearGradient>
<path fill="url(#C33)" d="M193.1 955.7L383.6 976.3 380.6 970.9 190.4 949.2z"/>
<linearGradient id="C34" gradientUnits="userSpaceOnUse" x1="189" y1="946" x2="379.1" y2="968.3"><stop offset="0.000" stop-color="#c6719a"/><stop offset="0.106" stop-color="#c5769e"/><stop offset="0.211" stop-color="#c47aa2"/><stop offset="0.315" stop-color="#c27ea6"/><stop offset="0.417" stop-color="#c182aa"/><stop offset="0.517" stop-color="#bf85ac"/><stop offset="0.616" stop-color="#bd88ae"/><stop offset="0.714" stop-color="#ba8bb0"/><stop offset="0.811" stop-color="#b88eb2"/><stop offset="0.906" stop-color="#b690b4"/><stop offset="1.000" stop-color="#b493b5"/></linearGradient>
<path fill="url(#C34)" d="M190.4 949.2L380.6 970.9 377.6 965.6 187.6 942.8z"/>
<linearGradient id="C35" gradientUnits="userSpaceOnUse" x1="186.3" y1="939.6" x2="376.1" y2="963"><stop offset="0.000" stop-color="#c76b94"/><stop offset="0.106" stop-color="#c66f98"/><stop offset="0.211" stop-color="#c4739c"/><stop offset="0.315" stop-color="#c378a0"/><stop offset="0.417" stop-color="#c27ca4"/><stop offset="0.517" stop-color="#c180a8"/><stop offset="0.616" stop-color="#bf84aa"/><stop offset="0.714" stop-color="#bc87ac"/><stop offset="0.811" stop-color="#ba89ae"/><stop offset="0.906" stop-color="#b88cb0"/><stop offset="1.000" stop-color="#b68fb2"/></linearGradient>
<path fill="url(#C35)" d="M187.6 942.8L377.6 965.6 374.6 960.3 184.9 936.3z"/>
<linearGradient id="C36" gradientUnits="userSpaceOnUse" x1="183.6" y1="933.1" x2="373.1" y2="957.7"><stop offset="0.000" stop-color="#c8648d"/><stop offset="0.106" stop-color="#c76891"/><stop offset="0.211" stop-color="#c56d95"/><stop offset="0.315" stop-color="#c4719a"/><stop offset="0.416" stop-color="#c3769e"/><stop offset="0.517" stop-color="#c17aa2"/><stop offset="0.616" stop-color="#c07ea6"/><stop offset="0.714" stop-color="#be82a9"/><stop offset="0.811" stop-color="#bc85ab"/><stop offset="0.906" stop-color="#ba88ad"/><stop offset="1.000" stop-color="#b78baf"/></linearGradient>
<path fill="url(#C36)" d="M184.9 936.3L374.6 960.3 371.6 955.1 182.2 930z"/>
<linearGradient id="C37" gradientUnits="userSpaceOnUse" x1="180.9" y1="926.8" x2="370.1" y2="952.4"><stop offset="0.000" stop-color="#c95d86"/><stop offset="0.106" stop-color="#c7618b"/><stop offset="0.211" stop-color="#c6668f"/><stop offset="0.315" stop-color="#c56b93"/><stop offset="0.416" stop-color="#c36f98"/><stop offset="0.517" stop-color="#c2749c"/><stop offset="0.616" stop-color="#c178a0"/><stop offset="0.714" stop-color="#bf7da4"/><stop offset="0.811" stop-color="#be81a8"/><stop offset="0.906" stop-color="#bc84aa"/><stop offset="1.000" stop-color="#b987ac"/></linearGradient>
<path fill="url(#C37)" d="M182.2 930L371.6 955.1 368.6 949.8 179.6 923.6z"/>
<linearGradient id="C38" gradientUnits="userSpaceOnUse" x1="178.2" y1="920.4" x2="367.1" y2="947.2"><stop offset="0.000" stop-color="#ca5680"/><stop offset="0.106" stop-color="#c85b84"/><stop offset="0.211" stop-color="#c75f89"/><stop offset="0.314" stop-color="#c6648d"/><stop offset="0.416" stop-color="#c46991"/><stop offset="0.517" stop-color="#c36d96"/><stop offset="0.616" stop-color="#c2729a"/><stop offset="0.714" stop-color="#c0779e"/><stop offset="0.811" stop-color="#bf7ba2"/><stop offset="0.906" stop-color="#bd80a6"/><stop offset="1.000" stop-color="#bb83a8"/></linearGradient>
<path fill="url(#C38)" d="M179.6 923.6L368.6 949.8 365.6 944.6 176.9 917.3z"/>
<linearGradient id="C39" gradientUnits="userSpaceOnUse" x1="175.6" y1="914.1" x2="364.1" y2="942"><stop offset="0.000" stop-color="#ca4f79"/><stop offset="0.106" stop-color="#c9547e"/><stop offset="0.211" stop-color="#c85982"/><stop offset="0.314" stop-color="#c65e87"/><stop offset="0.416" stop-color="#c5628b"/><stop offset="0.517" stop-color="#c46790"/><stop offset="0.616" stop-color="#c26c94"/><stop offset="0.714" stop-color="#c17098"/><stop offset="0.811" stop-color="#c0759d"/><stop offset="0.906" stop-color="#be7aa1"/><stop offset="1.000" stop-color="#bd7ea5"/></linearGradient>
<path fill="url(#C39)" d="M176.9 917.3L365.6 944.6 362.7 939.4 174.2 911z"/>
<linearGradient id="C40" gradientUnits="userSpaceOnUse" x1="172.9" y1="907.9" x2="361.2" y2="936.8"><stop offset="0.000" stop-color="#cb4873"/><stop offset="0.106" stop-color="#ca4d77"/><stop offset="0.211" stop-color="#c9527c"/><stop offset="0.314" stop-color="#c75780"/><stop offset="0.416" stop-color="#c65c85"/><stop offset="0.517" stop-color="#c4618a"/><stop offset="0.616" stop-color="#c3668e"/><stop offset="0.714" stop-color="#c26a92"/><stop offset="0.811" stop-color="#c06f97"/><stop offset="0.906" stop-color="#bf749b"/><stop offset="1.000" stop-color="#bd799f"/></linearGradient>
<path fill="url(#C40)" d="M174.2 911L362.7 939.4 359.7 934.3 171.6 904.7z"/>
<linearGradient id="C41" gradientUnits="userSpaceOnUse" x1="170.3" y1="901.6" x2="358.3" y2="931.7"><stop offset="0.000" stop-color="#cb426d"/><stop offset="0.106" stop-color="#cb4671"/><stop offset="0.211" stop-color="#c94b76"/><stop offset="0.314" stop-color="#c8517a"/><stop offset="0.416" stop-color="#c7567f"/><stop offset="0.517" stop-color="#c55a83"/><stop offset="0.616" stop-color="#c45f88"/><stop offset="0.714" stop-color="#c2648d"/><stop offset="0.811" stop-color="#c16991"/><stop offset="0.906" stop-color="#c06e95"/><stop offset="1.000" stop-color="#be739a"/></linearGradient>
<path fill="url(#C41)" d="M171.6 904.7L359.7 934.3 356.8 929.1 169 898.5z"/>
<linearGradient id="C42" gradientUnits="userSpaceOnUse" x1="167.7" y1="895.4" x2="355.4" y2="926.6"><stop offset="0.000" stop-color="#ca3d67"/><stop offset="0.106" stop-color="#ca416b"/><stop offset="0.211" stop-color="#ca456f"/><stop offset="0.314" stop-color="#c94a74"/><stop offset="0.416" stop-color="#c74f79"/><stop offset="0.517" stop-color="#c6547d"/><stop offset="0.616" stop-color="#c55982"/><stop offset="0.714" stop-color="#c35e87"/><stop offset="0.811" stop-color="#c2638b"/><stop offset="0.906" stop-color="#c06890"/><stop offset="1.000" stop-color="#bf6d94"/></linearGradient>
<path fill="url(#C42)" d="M169 898.5L356.8 929.1 353.9 924 166.4 892.3z"/>
<linearGradient id="C43" gradientUnits="userSpaceOnUse" x1="165.1" y1="889.2" x2="352.5" y2="921.5"><stop offset="0.000" stop-color="#c93761"/><stop offset="0.106" stop-color="#c93b65"/><stop offset="0.211" stop-color="#c9406a"/><stop offset="0.314" stop-color="#c9446e"/><stop offset="0.416" stop-color="#c84973"/><stop offset="0.517" stop-color="#c74e77"/><stop offset="0.616" stop-color="#c5537c"/><stop offset="0.714" stop-color="#c45881"/><stop offset="0.811" stop-color="#c25d86"/><stop offset="0.906" stop-color="#c1628a"/><stop offset="1.000" stop-color="#bf678f"/></linearGradient>
<path fill="url(#C43)" d="M166.4 892.3L353.9 924 351 918.9 163.8 886.2z"/>
<linearGradient id="C44" gradientUnits="userSpaceOnUse" x1="162.5" y1="883.1" x2="349.6" y2="916.4"><stop offset="0.000" stop-color="#c8315b"/><stop offset="0.106" stop-color="#c8365f"/><stop offset="0.211" stop-color="#c83a64"/><stop offset="0.314" stop-color="#c83f68"/><stop offset="0.416" stop-color="#c8436d"/><stop offset="0.517" stop-color="#c84871"/><stop offset="0.616" stop-color="#c64d76"/><stop offset="0.714" stop-color="#c5527b"/><stop offset="0.811" stop-color="#c35780"/><stop offset="0.906" stop-color="#c25c85"/><stop offset="1.000" stop-color="#c06289"/></linearGradient>
<path fill="url(#C44)" d="M163.8 886.2L351 918.9 348.2 913.9 161.2 880z"/>
<linearGradient id="C45" gradientUnits="userSpaceOnUse" x1="159.9" y1="877" x2="346.7" y2="911.4"><stop offset="0.000" stop-color="#c72c55"/><stop offset="0.106" stop-color="#c73059"/><stop offset="0.211" stop-color="#c7355e"/><stop offset="0.314" stop-color="#c73963"/><stop offset="0.416" stop-color="#c73e67"/><stop offset="0.517" stop-color="#c7426c"/><stop offset="0.616" stop-color="#c74770"/><stop offset="0.714" stop-color="#c54c75"/><stop offset="0.811" stop-color="#c4517a"/><stop offset="0.906" stop-color="#c2577f"/><stop offset="1.000" stop-color="#c15c84"/></linearGradient>
<path fill="url(#C45)" d="M161.2 880L348.2 913.9 345.3 908.9 158.6 873.9z"/>
<linearGradient id="C46" gradientUnits="userSpaceOnUse" x1="157.3" y1="870.9" x2="343.9" y2="906.4"><stop offset="0.000" stop-color="#c6264f"/><stop offset="0.106" stop-color="#c62b54"/><stop offset="0.211" stop-color="#c62f58"/><stop offset="0.314" stop-color="#c6345d"/><stop offset="0.416" stop-color="#c63962"/><stop offset="0.517" stop-color="#c63d66"/><stop offset="0.616" stop-color="#c6426b"/><stop offset="0.714" stop-color="#c64670"/><stop offset="0.811" stop-color="#c54c75"/><stop offset="0.906" stop-color="#c3517a"/><stop offset="1.000" stop-color="#c1567e"/></linearGradient>
<path fill="url(#C46)" d="M158.6 873.9L345.3 908.9 342.4 903.9 156.1 867.9z"/>
<linearGradient id="C47" gradientUnits="userSpaceOnUse" x1="154.8" y1="864.9" x2="341" y2="901.4"><stop offset="0.000" stop-color="#c52149"/><stop offset="0.106" stop-color="#c5254e"/><stop offset="0.211" stop-color="#c52a53"/><stop offset="0.314" stop-color="#c52f57"/><stop offset="0.416" stop-color="#c5335c"/><stop offset="0.517" stop-color="#c53861"/><stop offset="0.616" stop-color="#c53c66"/><stop offset="0.714" stop-color="#c5416a"/><stop offset="0.811" stop-color="#c5466f"/><stop offset="0.906" stop-color="#c44b74"/><stop offset="1.000" stop-color="#c25179"/></linearGradient>
<path fill="url(#C47)" d="M156.1 867.9L342.4 903.9 339.6 898.9 153.5 861.9z"/>
<linearGradient id="C48" gradientUnits="userSpaceOnUse" x1="152.3" y1="858.8" x2="338.2" y2="896.4"><stop offset="0.000" stop-color="#c41b43"/><stop offset="0.106" stop-color="#c42048"/><stop offset="0.211" stop-color="#c4254d"/><stop offset="0.314" stop-color="#c52952"/><stop offset="0.416" stop-color="#c52e57"/><stop offset="0.517" stop-color="#c5335b"/><stop offset="0.616" stop-color="#c53760"/><stop offset="0.714" stop-color="#c53c65"/><stop offset="0.811" stop-color="#c5416a"/><stop offset="0.906" stop-color="#c4456e"/><stop offset="1.000" stop-color="#c34b74"/></linearGradient>
<path fill="url(#C48)" d="M153.5 861.9L339.6 898.9 336.8 893.9 151 855.9z"/>
<linearGradient id="C49" gradientUnits="userSpaceOnUse" x1="149.7" y1="852.9" x2="335.4" y2="891.5"><stop offset="0.000" stop-color="#c3163d"/><stop offset="0.106" stop-color="#c41a42"/><stop offset="0.211" stop-color="#c41f47"/><stop offset="0.314" stop-color="#c4244c"/><stop offset="0.416" stop-color="#c42951"/><stop offset="0.517" stop-color="#c42e56"/><stop offset="0.616" stop-color="#c4325b"/><stop offset="0.714" stop-color="#c43760"/><stop offset="0.811" stop-color="#c43c65"/><stop offset="0.906" stop-color="#c44069"/><stop offset="1.000" stop-color="#c3456e"/></linearGradient>
<path fill="url(#C49)" d="M151 855.9L336.8 893.9 334 889 148.5 849.9z"/>
<path fill="none" stroke="#000" stroke-opacity="1" stroke-width="1.0" d="M292.7 1192L148.5 849.9M297 1191.5L152.5 850.7M301.3 1191.1L156.4 851.6M305.6 1190.6L160.3 852.4M309.9 1190.1L164.3 853.2M314.1 1189.7L168.2 854M318.4 1189.2L172.1 854.9M322.6 1188.7L176 855.7M326.9 1188.3L179.9 856.5M331.1 1187.8L183.8 857.3M335.3 1187.4L187.6 858.1M339.5 1186.9L191.5 859M343.7 1186.5L195.3 859.8M347.8 1186L199.2 860.6M352 1185.5L203 861.4M356.1 1185.1L206.8 862.2M360.3 1184.6L210.6 863M364.4 1184.2L214.4 863.8M368.5 1183.8L218.2 864.6M372.6 1183.3L221.9 865.4M376.7 1182.9L225.7 866.2M380.7 1182.4L229.4 867M384.8 1182L233.2 867.7M388.8 1181.5L236.9 868.5M392.9 1181.1L240.6 869.3M396.9 1180.7L244.3 870.1M400.9 1180.2L248.1 870.9M404.9 1179.8L251.7 871.7M408.9 1179.4L255.4 872.4M412.9 1178.9L259.1 873.2M416.8 1178.5L262.8 874M420.8 1178.1L266.4 874.8M424.7 1177.6L270 875.5M428.7 1177.2L273.7 876.3M432.6 1176.8L277.3 877M436.5 1176.3L280.9 877.8M440.4 1175.9L284.5 878.6M444.3 1175.5L288.1 879.3M448.2 1175.1L291.7 880.1M452 1174.7L295.3 880.8M455.9 1174.2L298.8 881.6M459.7 1173.8L302.4 882.3M463.6 1173.4L305.9 883.1M467.4 1173L309.5 883.8M471.2 1172.6L313 884.6M475 1172.2L316.5 885.3M478.8 1171.7L320 886.1M482.6 1171.3L323.5 886.8M486.4 1170.9L327 887.5M490.1 1170.5L330.5 888.3M493.9 1170.1L334 889"/>
<path fill="none" stroke="#000" stroke-opacity="1" stroke-width="1.45" d="M292.7 1192L493.9 1170.1M289.4 1184.2L490.2 1163.7M286.1 1176.4L486.6 1157.3M282.8 1168.6L483 1151M279.6 1160.9L479.4 1144.7M276.3 1153.2L475.8 1138.4M273.1 1145.6L472.3 1132.2M269.9 1138.1L468.8 1126M266.8 1130.5L465.3 1119.8M263.6 1123.1L461.8 1113.7M260.5 1115.6L458.3 1107.6M257.4 1108.2L454.9 1101.5M254.3 1100.9L451.4 1095.5M251.2 1093.6L448 1089.5M248.1 1086.3L444.6 1083.6M245.1 1079.1L441.3 1077.6M242 1071.9L437.9 1071.7M239 1064.7L434.6 1065.9M236 1057.6L431.3 1060M233.1 1050.6L428 1054.3M230.1 1043.5L424.7 1048.5M227.2 1036.6L421.4 1042.8M224.2 1029.6L418.2 1037M221.3 1022.7L415 1031.4M218.4 1015.8L411.8 1025.7M215.5 1009L408.6 1020.1M212.7 1002.2L405.4 1014.5M209.8 995.5L402.2 1009M207 988.8L399.1 1003.5M204.2 982.1L396 998M201.4 975.4L392.9 992.5M198.6 968.8L389.8 987.1M195.8 962.3L386.7 981.7M193.1 955.7L383.6 976.3M190.4 949.2L380.6 970.9M187.6 942.8L377.6 965.6M184.9 936.3L374.6 960.3M182.2 930L371.6 955.1M179.6 923.6L368.6 949.8M176.9 917.3L365.6 944.6M174.2 911L362.7 939.4M171.6 904.7L359.7 934.3M169 898.5L356.8 929.1M166.4 892.3L353.9 924M163.8 886.2L351 918.9M161.2 880L348.2 913.9M158.6 873.9L345.3 908.9M156.1 867.9L342.4 903.9M153.5 861.9L339.6 898.9M151 855.9L336.8 893.9M148.5 849.9L334 889"/>
<g stroke="#151515" stroke-width="1.9" stroke-linecap="round" fill="none">
<path d="M143.1 840.2L416.9 829.6 599.5 849.4 292.2 864.4z"/>
<line x1="143.1" y1="840.2" x2="150.2" y2="1152.1"/>
<line x1="292.2" y1="864.4" x2="294.9" y2="1235.5"/>
<line x1="599.5" y1="849.4" x2="591.2" y2="1183.5"/>
<line x1="150.2" y1="1152.1" x2="294.9" y2="1235.5"/>
<line x1="294.9" y1="1235.5" x2="591.2" y2="1183.5"/>
</g>
<g stroke="#151515" stroke-width="1.8">
<line x1="129.5" y1="855.3" x2="143.5" y2="855.3"/>
<line x1="131.2" y1="930.8" x2="145.2" y2="930.8"/>
<line x1="132.9" y1="1005.9" x2="146.9" y2="1005.9"/>
<line x1="134.6" y1="1079.9" x2="148.6" y2="1079.9"/>
<line x1="136.2" y1="1151.7" x2="150.2" y2="1151.7"/>
<line x1="180.2" y1="1170.1" x2="170.9" y2="1182.7"/>
<line x1="247.7" y1="1208.6" x2="238.4" y2="1221.2"/>
<line x1="294.3" y1="1235.5" x2="301.1" y2="1249.1"/>
<line x1="376.2" y1="1223.8" x2="383" y2="1237.4"/>
<line x1="451.8" y1="1209.5" x2="458.6" y2="1223.1"/>
<line x1="524.2" y1="1197.2" x2="531" y2="1210.8"/>
<line x1="590.8" y1="1182.9" x2="597.6" y2="1196.5"/>
</g>
<g font-size="22" font-style="italic" fill="#1a1a1a">
<text x="104.2" y="863.3" textLength="24.06" lengthAdjust="spacingAndGlyphs">80</text>
<text x="105" y="938.8" textLength="25.52" lengthAdjust="spacingAndGlyphs">75</text>
<text x="107.5" y="1012.6" textLength="25.06" lengthAdjust="spacingAndGlyphs">70</text>
<text x="108.6" y="1086.2" textLength="25.58" lengthAdjust="spacingAndGlyphs">65</text>
<text x="111.2" y="1158" textLength="25.82" lengthAdjust="spacingAndGlyphs">60</text>
<text x="156.4" y="1201.8">2</text>
<text x="224.7" y="1242.1">1</text>
<text x="290" y="1274.2" textLength="34.73" lengthAdjust="spacingAndGlyphs">9.0</text>
<text x="372" y="1259.9" textLength="32.23" lengthAdjust="spacingAndGlyphs">8.5</text>
<text x="447.6" y="1245.6" textLength="32.46" lengthAdjust="spacingAndGlyphs">8.0</text>
<text x="519.5" y="1233.3" textLength="33.92" lengthAdjust="spacingAndGlyphs">7.5</text>
<text x="587" y="1221.1" textLength="34.16" lengthAdjust="spacingAndGlyphs">7.0</text>
</g>
<g stroke="#151515" stroke-width="1.8" stroke-dasharray="7 4.6">
<line x1="1134.4" y1="829.5" x2="1132.8" y2="1114.9"/>
<line x1="867.7" y1="1152.1" x2="1132.8" y2="1114.9"/>
<line x1="1132.8" y1="1114.9" x2="1308.8" y2="1183.4"/>
</g>
<linearGradient id="D0" gradientUnits="userSpaceOnUse" x1="1010.7" y1="1057.1" x2="1294" y2="1109.5"><stop offset="0.000" stop-color="#7ea1bf"/><stop offset="0.110" stop-color="#7aa8ca"/><stop offset="0.218" stop-color="#73a0d3"/><stop offset="0.324" stop-color="#6a94d9"/><stop offset="0.427" stop-color="#6086df"/><stop offset="0.528" stop-color="#5678e3"/><stop offset="0.626" stop-color="#4b68e7"/><stop offset="0.723" stop-color="#4158e9"/><stop offset="0.817" stop-color="#3747eb"/><stop offset="0.910" stop-color="#2d36ed"/><stop offset="1.000" stop-color="#2325ee"/></linearGradient>
<path fill="url(#D0)" d="M1011.2 1058L1294.5 1112.3 1293.5 1106.7 1010.2 1056.1z"/>
<linearGradient id="D1" gradientUnits="userSpaceOnUse" x1="1009.7" y1="1055.2" x2="1293" y2="1104"><stop offset="0.000" stop-color="#80a1c0"/><stop offset="0.110" stop-color="#7ca8cb"/><stop offset="0.218" stop-color="#76a4d3"/><stop offset="0.324" stop-color="#6e99d9"/><stop offset="0.427" stop-color="#648cdf"/><stop offset="0.528" stop-color="#5a7ee3"/><stop offset="0.626" stop-color="#5070e7"/><stop offset="0.723" stop-color="#4660e9"/><stop offset="0.817" stop-color="#3d50eb"/><stop offset="0.910" stop-color="#3340ed"/><stop offset="1.000" stop-color="#2930ee"/></linearGradient>
<path fill="url(#D1)" d="M1010.2 1056.1L1293.5 1106.7 1292.5 1101.2 1009.2 1054.2z"/>
<linearGradient id="D2" gradientUnits="userSpaceOnUse" x1="1008.8" y1="1053.3" x2="1292" y2="1098.4"><stop offset="0.000" stop-color="#82a2c0"/><stop offset="0.110" stop-color="#7fa9cb"/><stop offset="0.218" stop-color="#79a8d3"/><stop offset="0.324" stop-color="#719eda"/><stop offset="0.427" stop-color="#6992df"/><stop offset="0.528" stop-color="#5f85e3"/><stop offset="0.626" stop-color="#5577e6"/><stop offset="0.723" stop-color="#4b68e9"/><stop offset="0.817" stop-color="#4259eb"/><stop offset="0.910" stop-color="#394aed"/><stop offset="1.000" stop-color="#303aee"/></linearGradient>
<path fill="url(#D2)" d="M1009.2 1054.2L1292.5 1101.2 1291.5 1095.7 1008.3 1052.4z"/>
<linearGradient id="D3" gradientUnits="userSpaceOnUse" x1="1007.8" y1="1051.4" x2="1291" y2="1092.9"><stop offset="0.000" stop-color="#84a3c1"/><stop offset="0.110" stop-color="#81aacb"/><stop offset="0.218" stop-color="#7cadd3"/><stop offset="0.324" stop-color="#75a3da"/><stop offset="0.427" stop-color="#6d98df"/><stop offset="0.527" stop-color="#648be3"/><stop offset="0.626" stop-color="#5a7ee6"/><stop offset="0.723" stop-color="#5171e9"/><stop offset="0.817" stop-color="#4863eb"/><stop offset="0.909" stop-color="#3f54ed"/><stop offset="1.000" stop-color="#3645ee"/></linearGradient>
<path fill="url(#D3)" d="M1008.3 1052.4L1291.5 1095.7 1290.5 1090.1 1007.3 1050.5z"/>
<linearGradient id="D4" gradientUnits="userSpaceOnUse" x1="1006.8" y1="1049.6" x2="1290" y2="1087.4"><stop offset="0.000" stop-color="#86a4c1"/><stop offset="0.110" stop-color="#84abcc"/><stop offset="0.218" stop-color="#7fafd4"/><stop offset="0.323" stop-color="#79a8da"/><stop offset="0.427" stop-color="#719edf"/><stop offset="0.527" stop-color="#6992e3"/><stop offset="0.626" stop-color="#6086e6"/><stop offset="0.722" stop-color="#5679e9"/><stop offset="0.817" stop-color="#4d6ceb"/><stop offset="0.909" stop-color="#455eed"/><stop offset="1.000" stop-color="#3d50ee"/></linearGradient>
<path fill="url(#D4)" d="M1007.3 1050.5L1290.5 1090.1 1289.5 1084.6 1006.4 1048.6z"/>
<linearGradient id="D5" gradientUnits="userSpaceOnUse" x1="1005.9" y1="1047.7" x2="1289" y2="1081.9"><stop offset="0.000" stop-color="#88a4c2"/><stop offset="0.110" stop-color="#86abcc"/><stop offset="0.218" stop-color="#82b0d4"/><stop offset="0.323" stop-color="#7dadda"/><stop offset="0.426" stop-color="#75a4df"/><stop offset="0.527" stop-color="#6e99e2"/><stop offset="0.626" stop-color="#658de6"/><stop offset="0.722" stop-color="#5c81e8"/><stop offset="0.817" stop-color="#5375eb"/><stop offset="0.909" stop-color="#4b68ed"/><stop offset="1.000" stop-color="#435bee"/></linearGradient>
<path fill="url(#D5)" d="M1006.4 1048.6L1289.5 1084.6 1288.5 1079.1 1005.4 1046.8z"/>
<linearGradient id="D6" gradientUnits="userSpaceOnUse" x1="1004.9" y1="1045.8" x2="1288" y2="1076.3"><stop offset="0.000" stop-color="#8aa5c2"/><stop offset="0.110" stop-color="#89accc"/><stop offset="0.218" stop-color="#85b1d4"/><stop offset="0.323" stop-color="#80b3da"/><stop offset="0.426" stop-color="#7aa9de"/><stop offset="0.527" stop-color="#729fe2"/><stop offset="0.626" stop-color="#6b95e5"/><stop offset="0.722" stop-color="#6289e8"/><stop offset="0.817" stop-color="#5a7eea"/><stop offset="0.909" stop-color="#5172ec"/><stop offset="1.000" stop-color="#4a66ee"/></linearGradient>
<path fill="url(#D6)" d="M1005.4 1046.8L1288.5 1079.1 1287.5 1073.6 1004.5 1044.9z"/>
<linearGradient id="D7" gradientUnits="userSpaceOnUse" x1="1004" y1="1044" x2="1287" y2="1070.8"><stop offset="0.000" stop-color="#8ca6c3"/><stop offset="0.110" stop-color="#8badcd"/><stop offset="0.218" stop-color="#89b2d4"/><stop offset="0.323" stop-color="#84b5da"/><stop offset="0.426" stop-color="#7eafde"/><stop offset="0.527" stop-color="#77a6e2"/><stop offset="0.626" stop-color="#709ce5"/><stop offset="0.722" stop-color="#6892e8"/><stop offset="0.817" stop-color="#6087ea"/><stop offset="0.909" stop-color="#587cec"/><stop offset="1.000" stop-color="#5070ee"/></linearGradient>
<path fill="url(#D7)" d="M1004.5 1044.9L1287.5 1073.6 1286.5 1068.1 1003.5 1043.1z"/>
<linearGradient id="D8" gradientUnits="userSpaceOnUse" x1="1003" y1="1042.1" x2="1286" y2="1065.3"><stop offset="0.000" stop-color="#8ea7c3"/><stop offset="0.110" stop-color="#8eaecd"/><stop offset="0.218" stop-color="#8cb2d5"/><stop offset="0.323" stop-color="#88b6da"/><stop offset="0.426" stop-color="#82b5de"/><stop offset="0.527" stop-color="#7cade2"/><stop offset="0.625" stop-color="#75a4e5"/><stop offset="0.722" stop-color="#6e9ae7"/><stop offset="0.817" stop-color="#6790e9"/><stop offset="0.909" stop-color="#6085eb"/><stop offset="1.000" stop-color="#587bed"/></linearGradient>
<path fill="url(#D8)" d="M1003.5 1043.1L1286.5 1068.1 1285.5 1062.6 1002.6 1041.2z"/>
<linearGradient id="D9" gradientUnits="userSpaceOnUse" x1="1002.1" y1="1040.3" x2="1285" y2="1059.8"><stop offset="0.000" stop-color="#90a7c4"/><stop offset="0.110" stop-color="#91aece"/><stop offset="0.218" stop-color="#8fb3d5"/><stop offset="0.323" stop-color="#8bb6da"/><stop offset="0.426" stop-color="#87b8de"/><stop offset="0.527" stop-color="#81b4e2"/><stop offset="0.625" stop-color="#7babe4"/><stop offset="0.722" stop-color="#74a2e7"/><stop offset="0.817" stop-color="#6e99e9"/><stop offset="0.909" stop-color="#678fea"/><stop offset="1.000" stop-color="#6085ec"/></linearGradient>
<path fill="url(#D9)" d="M1002.6 1041.2L1285.5 1062.6 1284.5 1057.1 1001.6 1039.4z"/>
<linearGradient id="D10" gradientUnits="userSpaceOnUse" x1="1001.1" y1="1038.4" x2="1284.1" y2="1054.3"><stop offset="0.000" stop-color="#92a8c4"/><stop offset="0.110" stop-color="#93afce"/><stop offset="0.218" stop-color="#92b4d5"/><stop offset="0.323" stop-color="#8fb7da"/><stop offset="0.426" stop-color="#8bb9de"/><stop offset="0.527" stop-color="#86bae1"/><stop offset="0.625" stop-color="#80b3e4"/><stop offset="0.722" stop-color="#7aaae6"/><stop offset="0.816" stop-color="#74a2e8"/><stop offset="0.909" stop-color="#6e99ea"/><stop offset="1.000" stop-color="#6790eb"/></linearGradient>
<path fill="url(#D10)" d="M1001.6 1039.4L1284.5 1057.1 1283.6 1051.6 1000.7 1037.5z"/>
<linearGradient id="D11" gradientUnits="userSpaceOnUse" x1="1000.2" y1="1036.6" x2="1283.1" y2="1048.8"><stop offset="0.000" stop-color="#95a9c5"/><stop offset="0.110" stop-color="#96b0ce"/><stop offset="0.217" stop-color="#95b5d5"/><stop offset="0.323" stop-color="#92b8da"/><stop offset="0.426" stop-color="#8fbade"/><stop offset="0.526" stop-color="#8bbbe1"/><stop offset="0.625" stop-color="#86bae4"/><stop offset="0.722" stop-color="#80b3e6"/><stop offset="0.816" stop-color="#7babe8"/><stop offset="0.909" stop-color="#75a3e9"/><stop offset="1.000" stop-color="#6f9beb"/></linearGradient>
<path fill="url(#D11)" d="M1000.7 1037.5L1283.6 1051.6 1282.6 1046.1 999.7 1035.7z"/>
<linearGradient id="D12" gradientUnits="userSpaceOnUse" x1="999.3" y1="1034.7" x2="1282.1" y2="1043.3"><stop offset="0.000" stop-color="#97aac5"/><stop offset="0.110" stop-color="#98b1cf"/><stop offset="0.217" stop-color="#98b5d5"/><stop offset="0.323" stop-color="#96b9da"/><stop offset="0.426" stop-color="#93bbde"/><stop offset="0.526" stop-color="#8fbce1"/><stop offset="0.625" stop-color="#8bbde3"/><stop offset="0.722" stop-color="#86bbe5"/><stop offset="0.816" stop-color="#81b4e7"/><stop offset="0.909" stop-color="#7cade9"/><stop offset="1.000" stop-color="#77a5ea"/></linearGradient>
<path fill="url(#D12)" d="M999.7 1035.7L1282.6 1046.1 1281.6 1040.6 998.8 1033.8z"/>
<linearGradient id="D13" gradientUnits="userSpaceOnUse" x1="998.3" y1="1032.9" x2="1281.1" y2="1037.9"><stop offset="0.000" stop-color="#99aac6"/><stop offset="0.110" stop-color="#9bb1cf"/><stop offset="0.217" stop-color="#9bb6d6"/><stop offset="0.322" stop-color="#9ab9da"/><stop offset="0.425" stop-color="#97bbde"/><stop offset="0.526" stop-color="#94bde1"/><stop offset="0.625" stop-color="#90bee3"/><stop offset="0.722" stop-color="#8cbee5"/><stop offset="0.816" stop-color="#88bde7"/><stop offset="0.909" stop-color="#83b7e8"/><stop offset="1.000" stop-color="#7eb0e9"/></linearGradient>
<path fill="url(#D13)" d="M998.8 1033.8L1281.6 1040.6 1280.6 1035.1 997.8 1032z"/>
<linearGradient id="D14" gradientUnits="userSpaceOnUse" x1="997.4" y1="1031.1" x2="1280.1" y2="1032.4"><stop offset="0.000" stop-color="#9babc6"/><stop offset="0.110" stop-color="#9eb2cf"/><stop offset="0.217" stop-color="#9eb7d6"/><stop offset="0.322" stop-color="#9dbada"/><stop offset="0.425" stop-color="#9bbcde"/><stop offset="0.526" stop-color="#99bee1"/><stop offset="0.625" stop-color="#96bfe3"/><stop offset="0.721" stop-color="#92bfe5"/><stop offset="0.816" stop-color="#8ebfe6"/><stop offset="0.909" stop-color="#8ac0e7"/><stop offset="1.000" stop-color="#86bbe8"/></linearGradient>
<path fill="url(#D14)" d="M997.8 1032L1280.6 1035.1 1279.6 1029.6 996.9 1030.2z"/>
<linearGradient id="D15" gradientUnits="userSpaceOnUse" x1="996.4" y1="1029.2" x2="1279.1" y2="1026.9"><stop offset="0.000" stop-color="#9dacc7"/><stop offset="0.110" stop-color="#a0b3d0"/><stop offset="0.217" stop-color="#a1b8d6"/><stop offset="0.322" stop-color="#a1bbdb"/><stop offset="0.425" stop-color="#a0bdde"/><stop offset="0.526" stop-color="#9dbee1"/><stop offset="0.625" stop-color="#9bbfe3"/><stop offset="0.721" stop-color="#98c0e4"/><stop offset="0.816" stop-color="#95c0e6"/><stop offset="0.909" stop-color="#91c1e7"/><stop offset="1.000" stop-color="#8ec1e8"/></linearGradient>
<path fill="url(#D15)" d="M996.9 1030.2L1279.6 1029.6 1278.6 1024.2 996 1028.3z"/>
<linearGradient id="D16" gradientUnits="userSpaceOnUse" x1="995.5" y1="1027.4" x2="1278.1" y2="1021.4"><stop offset="0.000" stop-color="#9facc7"/><stop offset="0.110" stop-color="#a3b3d0"/><stop offset="0.217" stop-color="#a5b8d6"/><stop offset="0.322" stop-color="#a5bcdb"/><stop offset="0.425" stop-color="#a4bede"/><stop offset="0.526" stop-color="#a2bfe0"/><stop offset="0.625" stop-color="#a0c0e2"/><stop offset="0.721" stop-color="#9ec1e4"/><stop offset="0.816" stop-color="#9bc1e5"/><stop offset="0.909" stop-color="#98c1e6"/><stop offset="1.000" stop-color="#95c2e7"/></linearGradient>
<path fill="url(#D16)" d="M996 1028.3L1278.6 1024.2 1277.6 1018.7 995 1026.5z"/>
<linearGradient id="D17" gradientUnits="userSpaceOnUse" x1="994.6" y1="1025.6" x2="1277.1" y2="1016"><stop offset="0.000" stop-color="#a1adc7"/><stop offset="0.110" stop-color="#a6b4d0"/><stop offset="0.217" stop-color="#a8b9d6"/><stop offset="0.322" stop-color="#a8bcdb"/><stop offset="0.425" stop-color="#a8bede"/><stop offset="0.526" stop-color="#a7c0e0"/><stop offset="0.624" stop-color="#a5c1e2"/><stop offset="0.721" stop-color="#a3c2e4"/><stop offset="0.816" stop-color="#a1c2e5"/><stop offset="0.909" stop-color="#9fc2e6"/><stop offset="1.000" stop-color="#9dc2e6"/></linearGradient>
<path fill="url(#D17)" d="M995 1026.5L1277.6 1018.7 1276.6 1013.2 994.1 1024.7z"/>
<linearGradient id="D18" gradientUnits="userSpaceOnUse" x1="993.6" y1="1023.8" x2="1276.1" y2="1010.5"><stop offset="0.000" stop-color="#a2adc8"/><stop offset="0.110" stop-color="#a8b4d0"/><stop offset="0.217" stop-color="#abbad6"/><stop offset="0.322" stop-color="#acbddb"/><stop offset="0.425" stop-color="#acbfde"/><stop offset="0.526" stop-color="#acc1e0"/><stop offset="0.624" stop-color="#abc2e2"/><stop offset="0.721" stop-color="#a9c2e3"/><stop offset="0.816" stop-color="#a8c3e4"/><stop offset="0.909" stop-color="#a6c3e5"/><stop offset="1.000" stop-color="#a4c3e6"/></linearGradient>
<path fill="url(#D18)" d="M994.1 1024.7L1276.6 1013.2 1275.6 1007.8 993.2 1022.9z"/>
<linearGradient id="D19" gradientUnits="userSpaceOnUse" x1="992.7" y1="1022" x2="1275.1" y2="1005"><stop offset="0.000" stop-color="#a4adc8"/><stop offset="0.110" stop-color="#aab4d1"/><stop offset="0.217" stop-color="#adbad7"/><stop offset="0.322" stop-color="#afbddb"/><stop offset="0.425" stop-color="#b0c0de"/><stop offset="0.525" stop-color="#b0c2e0"/><stop offset="0.624" stop-color="#b0c3e2"/><stop offset="0.721" stop-color="#afc3e3"/><stop offset="0.816" stop-color="#aec4e4"/><stop offset="0.909" stop-color="#adc4e5"/><stop offset="1.000" stop-color="#abc4e5"/></linearGradient>
<path fill="url(#D19)" d="M993.2 1022.9L1275.6 1007.8 1274.6 1002.3 992.2 1021z"/>
<linearGradient id="D20" gradientUnits="userSpaceOnUse" x1="991.8" y1="1020.1" x2="1274.1" y2="999.6"><stop offset="0.000" stop-color="#a5adc9"/><stop offset="0.110" stop-color="#abb4d1"/><stop offset="0.217" stop-color="#afb9d7"/><stop offset="0.322" stop-color="#b2bddb"/><stop offset="0.425" stop-color="#b3bfde"/><stop offset="0.525" stop-color="#b4c1e0"/><stop offset="0.624" stop-color="#b5c3e1"/><stop offset="0.721" stop-color="#b5c4e2"/><stop offset="0.816" stop-color="#b4c5e3"/><stop offset="0.909" stop-color="#b4c5e4"/><stop offset="1.000" stop-color="#b3c5e4"/></linearGradient>
<path fill="url(#D20)" d="M992.2 1021L1274.6 1002.3 1273.6 996.9 991.3 1019.2z"/>
<linearGradient id="D21" gradientUnits="userSpaceOnUse" x1="990.8" y1="1018.3" x2="1273.2" y2="994.1"><stop offset="0.000" stop-color="#a7adc9"/><stop offset="0.109" stop-color="#adb4d1"/><stop offset="0.217" stop-color="#b1b9d7"/><stop offset="0.322" stop-color="#b4bcdb"/><stop offset="0.424" stop-color="#b6bfde"/><stop offset="0.525" stop-color="#b7c0e0"/><stop offset="0.624" stop-color="#b8c2e1"/><stop offset="0.721" stop-color="#b9c3e2"/><stop offset="0.816" stop-color="#b9c4e3"/><stop offset="0.909" stop-color="#b9c4e3"/><stop offset="1.000" stop-color="#b9c5e4"/></linearGradient>
<path fill="url(#D21)" d="M991.3 1019.2L1273.6 996.9 1272.7 991.4 990.4 1017.4z"/>
<linearGradient id="D22" gradientUnits="userSpaceOnUse" x1="989.9" y1="1016.5" x2="1272.2" y2="988.7"><stop offset="0.000" stop-color="#a8adca"/><stop offset="0.109" stop-color="#afb4d2"/><stop offset="0.217" stop-color="#b4b8d7"/><stop offset="0.322" stop-color="#b7bcdb"/><stop offset="0.424" stop-color="#b9bedd"/><stop offset="0.525" stop-color="#babfdf"/><stop offset="0.624" stop-color="#bbc1e1"/><stop offset="0.721" stop-color="#bcc1e2"/><stop offset="0.816" stop-color="#bdc2e2"/><stop offset="0.909" stop-color="#bdc2e3"/><stop offset="1.000" stop-color="#bdc3e3"/></linearGradient>
<path fill="url(#D22)" d="M990.4 1017.4L1272.7 991.4 1271.7 986 989.4 1015.6z"/>
<linearGradient id="D23" gradientUnits="userSpaceOnUse" x1="989" y1="1014.7" x2="1271.2" y2="983.3"><stop offset="0.000" stop-color="#aaadca"/><stop offset="0.109" stop-color="#b1b3d2"/><stop offset="0.216" stop-color="#b6b8d7"/><stop offset="0.321" stop-color="#b9bbdb"/><stop offset="0.424" stop-color="#bbbddd"/><stop offset="0.525" stop-color="#bdbedf"/><stop offset="0.624" stop-color="#bfbfe0"/><stop offset="0.721" stop-color="#c0c0e1"/><stop offset="0.816" stop-color="#c1c0e2"/><stop offset="0.909" stop-color="#c1c1e2"/><stop offset="1.000" stop-color="#c2c1e3"/></linearGradient>
<path fill="url(#D23)" d="M989.4 1015.6L1271.7 986 1270.7 980.5 988.5 1013.8z"/>
<linearGradient id="D24" gradientUnits="userSpaceOnUse" x1="988.1" y1="1012.9" x2="1270.2" y2="977.8"><stop offset="0.000" stop-color="#abadca"/><stop offset="0.109" stop-color="#b3b3d2"/><stop offset="0.216" stop-color="#b8b7d7"/><stop offset="0.321" stop-color="#bbbadb"/><stop offset="0.424" stop-color="#bebcdd"/><stop offset="0.525" stop-color="#c0bddf"/><stop offset="0.624" stop-color="#c2bee0"/><stop offset="0.720" stop-color="#c3bfe1"/><stop offset="0.815" stop-color="#c5bfe1"/><stop offset="0.909" stop-color="#c6bfe2"/><stop offset="1.000" stop-color="#c6bfe2"/></linearGradient>
<path fill="url(#D24)" d="M988.5 1013.8L1270.7 980.5 1269.7 975.1 987.6 1012z"/>
<linearGradient id="D25" gradientUnits="userSpaceOnUse" x1="987.1" y1="1011.1" x2="1269.2" y2="972.4"><stop offset="0.000" stop-color="#adadcb"/><stop offset="0.109" stop-color="#b4b3d2"/><stop offset="0.216" stop-color="#bab7d7"/><stop offset="0.321" stop-color="#bebadb"/><stop offset="0.424" stop-color="#c1bbdd"/><stop offset="0.525" stop-color="#c3bcdf"/><stop offset="0.624" stop-color="#c5bde0"/><stop offset="0.720" stop-color="#c7bde0"/><stop offset="0.815" stop-color="#c9bde1"/><stop offset="0.909" stop-color="#cabde1"/><stop offset="1.000" stop-color="#cbbde1"/></linearGradient>
<path fill="url(#D25)" d="M987.6 1012L1269.7 975.1 1268.7 969.7 986.7 1010.2z"/>
<linearGradient id="D26" gradientUnits="userSpaceOnUse" x1="986.2" y1="1009.3" x2="1268.2" y2="967"><stop offset="0.000" stop-color="#aeadcb"/><stop offset="0.109" stop-color="#b6b3d2"/><stop offset="0.216" stop-color="#bcb6d8"/><stop offset="0.321" stop-color="#c0b9db"/><stop offset="0.424" stop-color="#c4badd"/><stop offset="0.525" stop-color="#c6bbdf"/><stop offset="0.623" stop-color="#c9bce0"/><stop offset="0.720" stop-color="#cbbce0"/><stop offset="0.815" stop-color="#ccbce0"/><stop offset="0.909" stop-color="#cebae0"/><stop offset="1.000" stop-color="#cfb9df"/></linearGradient>
<path fill="url(#D26)" d="M986.7 1010.2L1268.7 969.7 1267.7 964.2 985.8 1008.4z"/>
<linearGradient id="D27" gradientUnits="userSpaceOnUse" x1="985.3" y1="1007.5" x2="1267.2" y2="961.5"><stop offset="0.000" stop-color="#b0adcb"/><stop offset="0.109" stop-color="#b8b2d3"/><stop offset="0.216" stop-color="#beb6d8"/><stop offset="0.321" stop-color="#c3b8db"/><stop offset="0.424" stop-color="#c6b9dd"/><stop offset="0.524" stop-color="#c9bade"/><stop offset="0.623" stop-color="#ccbadf"/><stop offset="0.720" stop-color="#ceb9de"/><stop offset="0.815" stop-color="#cfb7dd"/><stop offset="0.908" stop-color="#d1b5dc"/><stop offset="1.000" stop-color="#d2b4db"/></linearGradient>
<path fill="url(#D27)" d="M985.8 1008.4L1267.7 964.2 1266.8 958.8 984.8 1006.6z"/>
<linearGradient id="D28" gradientUnits="userSpaceOnUse" x1="984.4" y1="1005.7" x2="1266.3" y2="956.1"><stop offset="0.000" stop-color="#b1accc"/><stop offset="0.109" stop-color="#bab2d3"/><stop offset="0.216" stop-color="#c0b5d8"/><stop offset="0.321" stop-color="#c5b8db"/><stop offset="0.424" stop-color="#c9b9dd"/><stop offset="0.524" stop-color="#ccb8dd"/><stop offset="0.623" stop-color="#ceb6dc"/><stop offset="0.720" stop-color="#d0b5db"/><stop offset="0.815" stop-color="#d2b2da"/><stop offset="0.908" stop-color="#d4b0d8"/><stop offset="1.000" stop-color="#d5aed7"/></linearGradient>
<path fill="url(#D28)" d="M984.8 1006.6L1266.8 958.8 1265.8 953.4 983.9 1004.8z"/>
<linearGradient id="D29" gradientUnits="userSpaceOnUse" x1="983.5" y1="1003.9" x2="1265.3" y2="950.7"><stop offset="0.000" stop-color="#b3accc"/><stop offset="0.109" stop-color="#bbb2d3"/><stop offset="0.216" stop-color="#c2b5d8"/><stop offset="0.321" stop-color="#c7b7db"/><stop offset="0.424" stop-color="#cbb6db"/><stop offset="0.524" stop-color="#ceb5db"/><stop offset="0.623" stop-color="#d0b3d9"/><stop offset="0.720" stop-color="#d3b0d8"/><stop offset="0.815" stop-color="#d5aed6"/><stop offset="0.908" stop-color="#d6abd4"/><stop offset="1.000" stop-color="#d8a8d2"/></linearGradient>
<path fill="url(#D29)" d="M983.9 1004.8L1265.8 953.4 1264.8 948 983 1003.1z"/>
<linearGradient id="D30" gradientUnits="userSpaceOnUse" x1="982.6" y1="1002.2" x2="1264.3" y2="945.3"><stop offset="0.000" stop-color="#b4accc"/><stop offset="0.109" stop-color="#bdb1d3"/><stop offset="0.216" stop-color="#c4b4d8"/><stop offset="0.321" stop-color="#c9b5d9"/><stop offset="0.423" stop-color="#cdb3d9"/><stop offset="0.524" stop-color="#d0b1d8"/><stop offset="0.623" stop-color="#d3afd7"/><stop offset="0.720" stop-color="#d5acd5"/><stop offset="0.815" stop-color="#d7a9d3"/><stop offset="0.908" stop-color="#d9a6d1"/><stop offset="1.000" stop-color="#dba3ce"/></linearGradient>
<path fill="url(#D30)" d="M983 1003.1L1264.8 948 1263.8 942.6 982.1 1001.3z"/>
<linearGradient id="D31" gradientUnits="userSpaceOnUse" x1="981.6" y1="1000.4" x2="1263.3" y2="939.9"><stop offset="0.000" stop-color="#b6accd"/><stop offset="0.109" stop-color="#bfb1d4"/><stop offset="0.216" stop-color="#c6b3d7"/><stop offset="0.321" stop-color="#cbb2d8"/><stop offset="0.423" stop-color="#cfb0d7"/><stop offset="0.524" stop-color="#d2aed6"/><stop offset="0.623" stop-color="#d5abd4"/><stop offset="0.720" stop-color="#d8a8d2"/><stop offset="0.815" stop-color="#daa4cf"/><stop offset="0.908" stop-color="#dca1cd"/><stop offset="1.000" stop-color="#de9dca"/></linearGradient>
<path fill="url(#D31)" d="M982.1 1001.3L1263.8 942.6 1262.8 937.2 981.2 999.5z"/>
<linearGradient id="D32" gradientUnits="userSpaceOnUse" x1="980.7" y1="998.6" x2="1262.3" y2="934.5"><stop offset="0.000" stop-color="#b7accd"/><stop offset="0.109" stop-color="#c1b1d4"/><stop offset="0.216" stop-color="#c7b1d6"/><stop offset="0.320" stop-color="#cdb0d6"/><stop offset="0.423" stop-color="#d1aed5"/><stop offset="0.524" stop-color="#d4abd3"/><stop offset="0.623" stop-color="#d7a7d1"/><stop offset="0.720" stop-color="#daa4cf"/><stop offset="0.815" stop-color="#dda0cc"/><stop offset="0.908" stop-color="#df9cc9"/><stop offset="1.000" stop-color="#e198c6"/></linearGradient>
<path fill="url(#D32)" d="M981.2 999.5L1262.8 937.2 1261.9 931.8 980.3 997.7z"/>
<linearGradient id="D33" gradientUnits="userSpaceOnUse" x1="979.8" y1="996.8" x2="1261.4" y2="929.1"><stop offset="0.000" stop-color="#b9accd"/><stop offset="0.109" stop-color="#c2b0d3"/><stop offset="0.216" stop-color="#c9afd5"/><stop offset="0.320" stop-color="#ceadd4"/><stop offset="0.423" stop-color="#d3abd3"/><stop offset="0.524" stop-color="#d6a7d1"/><stop offset="0.623" stop-color="#daa3ce"/><stop offset="0.720" stop-color="#dd9fcb"/><stop offset="0.815" stop-color="#df9bc8"/><stop offset="0.908" stop-color="#e296c4"/><stop offset="1.000" stop-color="#e390be"/></linearGradient>
<path fill="url(#D33)" d="M980.3 997.7L1261.9 931.8 1260.9 926.4 979.4 995.9z"/>
<linearGradient id="D34" gradientUnits="userSpaceOnUse" x1="978.9" y1="995.1" x2="1260.4" y2="923.7"><stop offset="0.000" stop-color="#baaccd"/><stop offset="0.109" stop-color="#c4aed2"/><stop offset="0.216" stop-color="#caadd3"/><stop offset="0.320" stop-color="#d0abd3"/><stop offset="0.423" stop-color="#d5a8d1"/><stop offset="0.524" stop-color="#d8a4ce"/><stop offset="0.622" stop-color="#dca0cb"/><stop offset="0.719" stop-color="#df9bc8"/><stop offset="0.815" stop-color="#e296c4"/><stop offset="0.908" stop-color="#e38fbd"/><stop offset="1.000" stop-color="#e488b7"/></linearGradient>
<path fill="url(#D34)" d="M979.4 995.9L1260.9 926.4 1259.9 921 978.5 994.2z"/>
<linearGradient id="D35" gradientUnits="userSpaceOnUse" x1="978" y1="993.3" x2="1259.4" y2="918.3"><stop offset="0.000" stop-color="#bcacce"/><stop offset="0.109" stop-color="#c5add1"/><stop offset="0.215" stop-color="#ccabd2"/><stop offset="0.320" stop-color="#d2a9d1"/><stop offset="0.423" stop-color="#d6a5cf"/><stop offset="0.524" stop-color="#dba1cc"/><stop offset="0.622" stop-color="#de9cc9"/><stop offset="0.719" stop-color="#e196c5"/><stop offset="0.815" stop-color="#e38fbe"/><stop offset="0.908" stop-color="#e587b6"/><stop offset="1.000" stop-color="#e680af"/></linearGradient>
<path fill="url(#D35)" d="M978.5 994.2L1259.9 921 1258.9 915.6 977.6 992.4z"/>
<linearGradient id="D36" gradientUnits="userSpaceOnUse" x1="977.1" y1="991.5" x2="1258.4" y2="912.9"><stop offset="0.000" stop-color="#bdabcd"/><stop offset="0.109" stop-color="#c6abd0"/><stop offset="0.215" stop-color="#cda9d0"/><stop offset="0.320" stop-color="#d3a6cf"/><stop offset="0.423" stop-color="#d8a2cd"/><stop offset="0.523" stop-color="#dd9dc9"/><stop offset="0.622" stop-color="#e098c6"/><stop offset="0.719" stop-color="#e390bf"/><stop offset="0.815" stop-color="#e488b7"/><stop offset="0.908" stop-color="#e680af"/><stop offset="1.000" stop-color="#e778a7"/></linearGradient>
<path fill="url(#D36)" d="M977.6 992.4L1258.9 915.6 1258 910.2 976.7 990.7z"/>
<linearGradient id="D37" gradientUnits="userSpaceOnUse" x1="976.2" y1="989.8" x2="1257.5" y2="907.5"><stop offset="0.000" stop-color="#beaacd"/><stop offset="0.109" stop-color="#c7aacf"/><stop offset="0.215" stop-color="#cfa7cf"/><stop offset="0.320" stop-color="#d5a4cd"/><stop offset="0.423" stop-color="#da9fcb"/><stop offset="0.523" stop-color="#df9ac7"/><stop offset="0.622" stop-color="#e293c1"/><stop offset="0.719" stop-color="#e48ab9"/><stop offset="0.814" stop-color="#e681b1"/><stop offset="0.908" stop-color="#e778a8"/><stop offset="1.000" stop-color="#e970a0"/></linearGradient>
<path fill="url(#D37)" d="M976.7 990.7L1258 910.2 1257 904.8 975.8 988.9z"/>
<linearGradient id="D38" gradientUnits="userSpaceOnUse" x1="975.3" y1="988" x2="1256.5" y2="902.1"><stop offset="0.000" stop-color="#bfa9cc"/><stop offset="0.109" stop-color="#c9a8ce"/><stop offset="0.215" stop-color="#d0a5ce"/><stop offset="0.320" stop-color="#d7a1cc"/><stop offset="0.422" stop-color="#dc9cc8"/><stop offset="0.523" stop-color="#e196c4"/><stop offset="0.622" stop-color="#e38dbc"/><stop offset="0.719" stop-color="#e584b3"/><stop offset="0.814" stop-color="#e77aaa"/><stop offset="0.908" stop-color="#e971a1"/><stop offset="1.000" stop-color="#ea6798"/></linearGradient>
<path fill="url(#D38)" d="M975.8 988.9L1257 904.8 1256 899.5 974.9 987.1z"/>
<linearGradient id="D39" gradientUnits="userSpaceOnUse" x1="974.4" y1="986.3" x2="1255.5" y2="896.8"><stop offset="0.000" stop-color="#c0a8cb"/><stop offset="0.109" stop-color="#caa7cd"/><stop offset="0.215" stop-color="#d2a3cc"/><stop offset="0.320" stop-color="#d89fca"/><stop offset="0.422" stop-color="#de99c6"/><stop offset="0.523" stop-color="#e291bf"/><stop offset="0.622" stop-color="#e487b6"/><stop offset="0.719" stop-color="#e67ead"/><stop offset="0.814" stop-color="#e874a4"/><stop offset="0.908" stop-color="#ea699a"/><stop offset="1.000" stop-color="#ec5f91"/></linearGradient>
<path fill="url(#D39)" d="M974.9 987.1L1256 899.5 1255 894.1 974 985.4z"/>
<linearGradient id="D40" gradientUnits="userSpaceOnUse" x1="973.5" y1="984.5" x2="1254.6" y2="891.4"><stop offset="0.000" stop-color="#c1a7cb"/><stop offset="0.109" stop-color="#cba5cc"/><stop offset="0.215" stop-color="#d3a1cb"/><stop offset="0.320" stop-color="#da9cc8"/><stop offset="0.422" stop-color="#e096c4"/><stop offset="0.523" stop-color="#e38cbb"/><stop offset="0.622" stop-color="#e582b1"/><stop offset="0.719" stop-color="#e877a7"/><stop offset="0.814" stop-color="#ea6d9d"/><stop offset="0.908" stop-color="#ec6293"/><stop offset="1.000" stop-color="#ee5789"/></linearGradient>
<path fill="url(#D40)" d="M974 985.4L1255 894.1 1254.1 888.7 973.1 983.6z"/>
<linearGradient id="D41" gradientUnits="userSpaceOnUse" x1="972.6" y1="982.8" x2="1253.6" y2="886"><stop offset="0.000" stop-color="#c2a6ca"/><stop offset="0.109" stop-color="#cda4cb"/><stop offset="0.215" stop-color="#d59fc9"/><stop offset="0.320" stop-color="#dc9ac6"/><stop offset="0.422" stop-color="#e192c0"/><stop offset="0.523" stop-color="#e487b6"/><stop offset="0.622" stop-color="#e77cac"/><stop offset="0.719" stop-color="#e971a1"/><stop offset="0.814" stop-color="#eb6697"/><stop offset="0.908" stop-color="#ed5a8c"/><stop offset="1.000" stop-color="#ee5081"/></linearGradient>
<path fill="url(#D41)" d="M973.1 983.6L1254.1 888.7 1253.1 883.4 972.2 981.9z"/>
<linearGradient id="D42" gradientUnits="userSpaceOnUse" x1="971.7" y1="981" x2="1252.6" y2="880.7"><stop offset="0.000" stop-color="#c3a5c9"/><stop offset="0.108" stop-color="#cea2ca"/><stop offset="0.215" stop-color="#d69dc8"/><stop offset="0.319" stop-color="#de97c4"/><stop offset="0.422" stop-color="#e28dbc"/><stop offset="0.523" stop-color="#e582b1"/><stop offset="0.622" stop-color="#e877a7"/><stop offset="0.719" stop-color="#ea6b9c"/><stop offset="0.814" stop-color="#ec5f90"/><stop offset="0.908" stop-color="#ee5385"/><stop offset="1.000" stop-color="#ed497a"/></linearGradient>
<path fill="url(#D42)" d="M972.2 981.9L1253.1 883.4 1252.1 878 971.3 980.1z"/>
<linearGradient id="D43" gradientUnits="userSpaceOnUse" x1="970.8" y1="979.3" x2="1251.6" y2="875.3"><stop offset="0.000" stop-color="#c4a4c9"/><stop offset="0.108" stop-color="#cfa1c9"/><stop offset="0.215" stop-color="#d89bc7"/><stop offset="0.319" stop-color="#df94c2"/><stop offset="0.422" stop-color="#e389b8"/><stop offset="0.523" stop-color="#e67dad"/><stop offset="0.621" stop-color="#e971a1"/><stop offset="0.719" stop-color="#eb6596"/><stop offset="0.814" stop-color="#ee588a"/><stop offset="0.908" stop-color="#ee4d7e"/><stop offset="1.000" stop-color="#ed4273"/></linearGradient>
<path fill="url(#D43)" d="M971.3 980.1L1252.1 878 1251.2 872.6 970.4 978.4z"/>
<linearGradient id="D44" gradientUnits="userSpaceOnUse" x1="969.9" y1="977.5" x2="1250.7" y2="870"><stop offset="0.000" stop-color="#c6a3c8"/><stop offset="0.108" stop-color="#d09fc8"/><stop offset="0.215" stop-color="#d999c5"/><stop offset="0.319" stop-color="#e091be"/><stop offset="0.422" stop-color="#e485b4"/><stop offset="0.522" stop-color="#e778a8"/><stop offset="0.621" stop-color="#ea6b9c"/><stop offset="0.719" stop-color="#ed5e90"/><stop offset="0.814" stop-color="#ef5183"/><stop offset="0.908" stop-color="#ed4778"/><stop offset="1.000" stop-color="#ec3c6c"/></linearGradient>
<path fill="url(#D44)" d="M970.4 978.4L1251.2 872.6 1250.2 867.3 969.5 976.7z"/>
<linearGradient id="D45" gradientUnits="userSpaceOnUse" x1="969" y1="975.8" x2="1249.7" y2="864.6"><stop offset="0.000" stop-color="#c7a1c7"/><stop offset="0.108" stop-color="#d29dc7"/><stop offset="0.215" stop-color="#db97c4"/><stop offset="0.319" stop-color="#e18dbb"/><stop offset="0.422" stop-color="#e580b0"/><stop offset="0.522" stop-color="#e873a3"/><stop offset="0.621" stop-color="#eb6697"/><stop offset="0.718" stop-color="#ee588a"/><stop offset="0.814" stop-color="#ee4c7d"/><stop offset="0.908" stop-color="#ed4071"/><stop offset="1.000" stop-color="#eb3565"/></linearGradient>
<path fill="url(#D45)" d="M969.5 976.7L1250.2 867.3 1249.2 862 968.6 974.9z"/>
<linearGradient id="D46" gradientUnits="userSpaceOnUse" x1="968.1" y1="974.1" x2="1248.7" y2="859.3"><stop offset="0.000" stop-color="#c8a0c7"/><stop offset="0.108" stop-color="#d39cc6"/><stop offset="0.215" stop-color="#dc95c2"/><stop offset="0.319" stop-color="#e289b8"/><stop offset="0.422" stop-color="#e67cab"/><stop offset="0.522" stop-color="#e96e9f"/><stop offset="0.621" stop-color="#ec6091"/><stop offset="0.718" stop-color="#ef5284"/><stop offset="0.814" stop-color="#ee4677"/><stop offset="0.908" stop-color="#ec3a6b"/><stop offset="1.000" stop-color="#eb2e5e"/></linearGradient>
<path fill="url(#D46)" d="M968.6 974.9L1249.2 862 1248.3 856.6 967.7 973.2z"/>
<linearGradient id="D47" gradientUnits="userSpaceOnUse" x1="967.3" y1="972.3" x2="1247.8" y2="853.9"><stop offset="0.000" stop-color="#c99fc6"/><stop offset="0.108" stop-color="#d49ac5"/><stop offset="0.215" stop-color="#dd92c0"/><stop offset="0.319" stop-color="#e385b4"/><stop offset="0.421" stop-color="#e778a7"/><stop offset="0.522" stop-color="#ea699a"/><stop offset="0.621" stop-color="#ee5a8c"/><stop offset="0.718" stop-color="#ee4d7e"/><stop offset="0.814" stop-color="#ed4071"/><stop offset="0.908" stop-color="#ec3464"/><stop offset="1.000" stop-color="#ea2757"/></linearGradient>
<path fill="url(#D47)" d="M967.7 973.2L1248.3 856.6 1247.3 851.3 966.8 971.5z"/>
<linearGradient id="D48" gradientUnits="userSpaceOnUse" x1="966.4" y1="970.6" x2="1246.8" y2="848.6"><stop offset="0.000" stop-color="#ca9ec5"/><stop offset="0.108" stop-color="#d599c3"/><stop offset="0.214" stop-color="#de8fbd"/><stop offset="0.319" stop-color="#e382b1"/><stop offset="0.421" stop-color="#e873a3"/><stop offset="0.522" stop-color="#ec6495"/><stop offset="0.621" stop-color="#ef5587"/><stop offset="0.718" stop-color="#ee4879"/><stop offset="0.814" stop-color="#ec3b6b"/><stop offset="0.908" stop-color="#eb2e5e"/><stop offset="1.000" stop-color="#e92150"/></linearGradient>
<path fill="url(#D48)" d="M966.8 971.5L1247.3 851.3 1246.3 845.9 965.9 969.7z"/>
<linearGradient id="D49" gradientUnits="userSpaceOnUse" x1="965.5" y1="968.9" x2="1245.8" y2="843.3"><stop offset="0.000" stop-color="#cb9dc4"/><stop offset="0.108" stop-color="#d797c2"/><stop offset="0.214" stop-color="#df8cba"/><stop offset="0.319" stop-color="#e47ead"/><stop offset="0.421" stop-color="#e96f9f"/><stop offset="0.522" stop-color="#ed5f90"/><stop offset="0.621" stop-color="#ef5082"/><stop offset="0.718" stop-color="#ed4273"/><stop offset="0.814" stop-color="#ec3565"/><stop offset="0.908" stop-color="#ea2757"/><stop offset="1.000" stop-color="#e91a49"/></linearGradient>
<path fill="url(#D49)" d="M965.9 969.7L1246.3 845.9 1245.4 840.6 965.1 968z"/>
<path fill="none" stroke="#000" stroke-opacity="1" stroke-width="1.0" d="M1011.2 1058L965.1 968M1017.5 1059.2L971.2 965.2M1023.8 1060.4L977.2 962.5M1030 1061.6L983.3 959.7M1036.3 1062.8L989.3 957M1042.5 1064L995.4 954.2M1048.7 1065.2L1001.4 951.5M1054.8 1066.4L1007.3 948.8M1060.9 1067.5L1013.3 946.1M1067 1068.7L1019.2 943.4M1073.1 1069.9L1025.1 940.7M1079.1 1071L1031 938M1085.1 1072.2L1036.9 935.4M1091.1 1073.3L1042.7 932.7M1097 1074.4L1048.6 930.1M1103 1075.6L1054.4 927.4M1108.9 1076.7L1060.2 924.8M1114.7 1077.8L1065.9 922.2M1120.6 1079L1071.7 919.6M1126.4 1080.1L1077.4 917M1132.2 1081.2L1083.1 914.4M1138 1082.3L1088.8 911.8M1143.7 1083.4L1094.4 909.2M1149.4 1084.5L1100.1 906.6M1155.1 1085.6L1105.7 904.1M1160.8 1086.7L1111.3 901.5M1166.4 1087.7L1116.9 899M1172 1088.8L1122.5 896.5M1177.6 1089.9L1128 893.9M1183.2 1090.9L1133.5 891.4M1188.7 1092L1139.1 888.9M1194.2 1093.1L1144.5 886.4M1199.7 1094.1L1150 883.9M1205.2 1095.2L1155.5 881.5M1210.6 1096.2L1160.9 879M1216 1097.2L1166.3 876.5M1221.4 1098.3L1171.7 874.1M1226.8 1099.3L1177.1 871.6M1232.1 1100.3L1182.4 869.2M1237.5 1101.3L1187.8 866.8M1242.8 1102.4L1193.1 864.4M1248 1103.4L1198.4 862M1253.3 1104.4L1203.7 859.5M1258.5 1105.4L1209 857.2M1263.7 1106.4L1214.2 854.8M1268.9 1107.4L1219.5 852.4M1274.1 1108.4L1224.7 850M1279.2 1109.3L1229.9 847.7M1284.4 1110.3L1235 845.3M1289.5 1111.3L1240.2 843M1294.5 1112.3L1245.4 840.6"/>
<path fill="none" stroke="#000" stroke-opacity="1" stroke-width="1.45" d="M1011.2 1058L1294.5 1112.3M1010.2 1056.1L1293.5 1106.7M1009.2 1054.2L1292.5 1101.2M1008.3 1052.4L1291.5 1095.7M1007.3 1050.5L1290.5 1090.1M1006.4 1048.6L1289.5 1084.6M1005.4 1046.8L1288.5 1079.1M1004.5 1044.9L1287.5 1073.6M1003.5 1043.1L1286.5 1068.1M1002.6 1041.2L1285.5 1062.6M1001.6 1039.4L1284.5 1057.1M1000.7 1037.5L1283.6 1051.6M999.7 1035.7L1282.6 1046.1M998.8 1033.8L1281.6 1040.6M997.8 1032L1280.6 1035.1M996.9 1030.2L1279.6 1029.6M996 1028.3L1278.6 1024.2M995 1026.5L1277.6 1018.7M994.1 1024.7L1276.6 1013.2M993.2 1022.9L1275.6 1007.8M992.2 1021L1274.6 1002.3M991.3 1019.2L1273.6 996.9M990.4 1017.4L1272.7 991.4M989.4 1015.6L1271.7 986M988.5 1013.8L1270.7 980.5M987.6 1012L1269.7 975.1M986.7 1010.2L1268.7 969.7M985.8 1008.4L1267.7 964.2M984.8 1006.6L1266.8 958.8M983.9 1004.8L1265.8 953.4M983 1003.1L1264.8 948M982.1 1001.3L1263.8 942.6M981.2 999.5L1262.8 937.2M980.3 997.7L1261.9 931.8M979.4 995.9L1260.9 926.4M978.5 994.2L1259.9 921M977.6 992.4L1258.9 915.6M976.7 990.7L1258 910.2M975.8 988.9L1257 904.8M974.9 987.1L1256 899.5M974 985.4L1255 894.1M973.1 983.6L1254.1 888.7M972.2 981.9L1253.1 883.4M971.3 980.1L1252.1 878M970.4 978.4L1251.2 872.6M969.5 976.7L1250.2 867.3M968.6 974.9L1249.2 862M967.7 973.2L1248.3 856.6M966.8 971.5L1247.3 851.3M965.9 969.7L1246.3 845.9M965.1 968L1245.4 840.6"/>
<g stroke="#151515" stroke-width="1.9" stroke-linecap="round" fill="none">
<path d="M860.6 840.1L1134.4 829.5 1317 849.3 1009.8 864.3z"/>
<line x1="860.6" y1="840.1" x2="867.7" y2="1152.1"/>
<line x1="1009.8" y1="864.3" x2="1012.5" y2="1235.5"/>
<line x1="1317" y1="849.3" x2="1308.8" y2="1183.4"/>
<line x1="867.7" y1="1152.1" x2="1012.5" y2="1235.5"/>
<line x1="1012.5" y1="1235.5" x2="1308.8" y2="1183.4"/>
</g>
<g stroke="#151515" stroke-width="1.8">
<line x1="846.6" y1="839.8" x2="860.6" y2="839.8"/>
<line x1="850.2" y1="998.6" x2="864.2" y2="998.6"/>
<line x1="853.7" y1="1150.9" x2="867.7" y2="1150.9"/>
<line x1="890.8" y1="1169.3" x2="881.5" y2="1181.9"/>
<line x1="947" y1="1199.9" x2="937.7" y2="1212.5"/>
<line x1="1011.8" y1="1235.3" x2="1002.5" y2="1247.9"/>
<line x1="1011.8" y1="1235.3" x2="1018.6" y2="1248.9"/>
<line x1="1093.8" y1="1222" x2="1100.6" y2="1235.6"/>
<line x1="1169.5" y1="1208.6" x2="1176.3" y2="1222.2"/>
<line x1="1242" y1="1196.2" x2="1248.8" y2="1209.8"/>
<line x1="1309" y1="1183.7" x2="1315.8" y2="1197.3"/>
</g>
<g font-size="22" font-style="italic" fill="#1a1a1a">
<text x="816.9" y="847.3" textLength="31.22" lengthAdjust="spacingAndGlyphs">2.5</text>
<text x="821.9" y="1006.1" textLength="29.75" lengthAdjust="spacingAndGlyphs">2.0</text>
<text x="825.3" y="1158.3" textLength="30.22" lengthAdjust="spacingAndGlyphs">1.5</text>
<text x="868.2" y="1198.2">4</text>
<text x="923.2" y="1231.9">2</text>
<text x="984.9" y="1270.7">0</text>
<text x="1009.4" y="1275.4" textLength="31.30" lengthAdjust="spacingAndGlyphs">3.0</text>
<text x="1091.2" y="1260" textLength="29.82" lengthAdjust="spacingAndGlyphs">2.5</text>
<text x="1167.4" y="1246.1" textLength="30.85" lengthAdjust="spacingAndGlyphs">2.0</text>
<text x="1240.2" y="1231.9" textLength="29.72" lengthAdjust="spacingAndGlyphs">1.5</text>
<text x="1308.9" y="1219.5" textLength="29.55" lengthAdjust="spacingAndGlyphs">1.0</text>
</g>
<g stroke="#151515" stroke-width="1.8" stroke-dasharray="7 4.6">
<line x1="425.1" y1="1513" x2="423.5" y2="1798.4"/>
<line x1="158.4" y1="1835.5" x2="423.5" y2="1798.4"/>
<line x1="423.5" y1="1798.4" x2="599.5" y2="1866.9"/>
</g>
<linearGradient id="E0" gradientUnits="userSpaceOnUse" x1="299.2" y1="1847.4" x2="589.7" y2="1837.5"><stop offset="0.000" stop-color="#4460ca"/><stop offset="0.110" stop-color="#3f58c7"/><stop offset="0.218" stop-color="#3b50c4"/><stop offset="0.323" stop-color="#3648c2"/><stop offset="0.426" stop-color="#3141be"/><stop offset="0.527" stop-color="#2c39bb"/><stop offset="0.626" stop-color="#2832b8"/><stop offset="0.722" stop-color="#232bb4"/><stop offset="0.817" stop-color="#1f24b0"/><stop offset="0.909" stop-color="#1b1eac"/><stop offset="1.000" stop-color="#1717a8"/></linearGradient>
<path fill="url(#E0)" d="M300.9 1850.4L591.7 1838.8 587.8 1836.2 297.5 1844.4z"/>
<linearGradient id="E1" gradientUnits="userSpaceOnUse" x1="295.9" y1="1841.4" x2="585.8" y2="1834.8"><stop offset="0.000" stop-color="#4a67c8"/><stop offset="0.110" stop-color="#445fc6"/><stop offset="0.218" stop-color="#3e56c4"/><stop offset="0.323" stop-color="#394ec1"/><stop offset="0.426" stop-color="#3446be"/><stop offset="0.527" stop-color="#2f3eba"/><stop offset="0.626" stop-color="#2a36b7"/><stop offset="0.722" stop-color="#252eb3"/><stop offset="0.817" stop-color="#2127af"/><stop offset="0.909" stop-color="#1c20ab"/><stop offset="1.000" stop-color="#1819a7"/></linearGradient>
<path fill="url(#E1)" d="M297.5 1844.4L587.8 1836.2 583.9 1833.5 294.2 1838.4z"/>
<linearGradient id="E2" gradientUnits="userSpaceOnUse" x1="292.6" y1="1835.4" x2="581.9" y2="1832.2"><stop offset="0.000" stop-color="#4f6ec7"/><stop offset="0.110" stop-color="#4965c5"/><stop offset="0.218" stop-color="#425dc3"/><stop offset="0.323" stop-color="#3d54c0"/><stop offset="0.426" stop-color="#374bbd"/><stop offset="0.527" stop-color="#3242ba"/><stop offset="0.626" stop-color="#2d3ab6"/><stop offset="0.722" stop-color="#2732b3"/><stop offset="0.817" stop-color="#232aaf"/><stop offset="0.909" stop-color="#1e22ab"/><stop offset="1.000" stop-color="#191ba7"/></linearGradient>
<path fill="url(#E2)" d="M294.2 1838.4L583.9 1833.5 580 1830.9 290.9 1832.5z"/>
<linearGradient id="E3" gradientUnits="userSpaceOnUse" x1="289.3" y1="1829.5" x2="578.1" y2="1829.6"><stop offset="0.000" stop-color="#5476c6"/><stop offset="0.110" stop-color="#4d6cc4"/><stop offset="0.218" stop-color="#4663c2"/><stop offset="0.323" stop-color="#4059bf"/><stop offset="0.426" stop-color="#3a50bc"/><stop offset="0.527" stop-color="#3447b9"/><stop offset="0.626" stop-color="#2f3eb6"/><stop offset="0.722" stop-color="#2935b2"/><stop offset="0.817" stop-color="#242dae"/><stop offset="0.909" stop-color="#1f25aa"/><stop offset="1.000" stop-color="#1a1da6"/></linearGradient>
<path fill="url(#E3)" d="M290.9 1832.5L580 1830.9 576.2 1828.3 287.6 1826.6z"/>
<linearGradient id="E4" gradientUnits="userSpaceOnUse" x1="286" y1="1823.6" x2="574.2" y2="1827"><stop offset="0.000" stop-color="#5a7dc5"/><stop offset="0.110" stop-color="#5273c3"/><stop offset="0.218" stop-color="#4b69c1"/><stop offset="0.323" stop-color="#445fbe"/><stop offset="0.426" stop-color="#3d55bb"/><stop offset="0.527" stop-color="#374bb8"/><stop offset="0.626" stop-color="#3142b5"/><stop offset="0.722" stop-color="#2b38b1"/><stop offset="0.817" stop-color="#2630ad"/><stop offset="0.909" stop-color="#2027a9"/><stop offset="1.000" stop-color="#1b1fa5"/></linearGradient>
<path fill="url(#E4)" d="M287.6 1826.6L576.2 1828.3 572.3 1825.7 284.4 1820.7z"/>
<linearGradient id="E5" gradientUnits="userSpaceOnUse" x1="282.7" y1="1817.8" x2="570.4" y2="1824.5"><stop offset="0.000" stop-color="#5f84c3"/><stop offset="0.110" stop-color="#5779c1"/><stop offset="0.218" stop-color="#4f6fbf"/><stop offset="0.323" stop-color="#4864bd"/><stop offset="0.426" stop-color="#405abb"/><stop offset="0.527" stop-color="#3a50b7"/><stop offset="0.626" stop-color="#3345b4"/><stop offset="0.722" stop-color="#2d3cb0"/><stop offset="0.817" stop-color="#2732ad"/><stop offset="0.909" stop-color="#2229a9"/><stop offset="1.000" stop-color="#1c21a5"/></linearGradient>
<path fill="url(#E5)" d="M284.4 1820.7L572.3 1825.7 568.5 1823.2 281.1 1814.9z"/>
<linearGradient id="E6" gradientUnits="userSpaceOnUse" x1="279.5" y1="1812" x2="566.7" y2="1821.9"><stop offset="0.000" stop-color="#648bc2"/><stop offset="0.110" stop-color="#5c80c0"/><stop offset="0.218" stop-color="#5374be"/><stop offset="0.323" stop-color="#4b69bc"/><stop offset="0.426" stop-color="#445fba"/><stop offset="0.527" stop-color="#3c54b7"/><stop offset="0.626" stop-color="#3649b3"/><stop offset="0.722" stop-color="#2f3fb0"/><stop offset="0.817" stop-color="#2935ac"/><stop offset="0.909" stop-color="#232ca8"/><stop offset="1.000" stop-color="#1d22a4"/></linearGradient>
<path fill="url(#E6)" d="M281.1 1814.9L568.5 1823.2 564.8 1820.6 277.9 1809.1z"/>
<linearGradient id="E7" gradientUnits="userSpaceOnUse" x1="276.3" y1="1806.2" x2="562.9" y2="1819.4"><stop offset="0.000" stop-color="#6992c1"/><stop offset="0.110" stop-color="#6086bf"/><stop offset="0.218" stop-color="#587abd"/><stop offset="0.323" stop-color="#4f6fbb"/><stop offset="0.426" stop-color="#4763b8"/><stop offset="0.527" stop-color="#3f58b6"/><stop offset="0.626" stop-color="#384db3"/><stop offset="0.722" stop-color="#3142af"/><stop offset="0.817" stop-color="#2b38ab"/><stop offset="0.909" stop-color="#242ea7"/><stop offset="1.000" stop-color="#1e24a3"/></linearGradient>
<path fill="url(#E7)" d="M277.9 1809.1L564.8 1820.6 561 1818.1 274.7 1803.3z"/>
<linearGradient id="E8" gradientUnits="userSpaceOnUse" x1="273.1" y1="1800.5" x2="559.2" y2="1816.9"><stop offset="0.000" stop-color="#6e99c0"/><stop offset="0.110" stop-color="#658dbe"/><stop offset="0.218" stop-color="#5c80bc"/><stop offset="0.323" stop-color="#5374ba"/><stop offset="0.426" stop-color="#4a68b7"/><stop offset="0.527" stop-color="#425cb5"/><stop offset="0.626" stop-color="#3a51b2"/><stop offset="0.722" stop-color="#3346ae"/><stop offset="0.817" stop-color="#2c3bab"/><stop offset="0.909" stop-color="#2630a7"/><stop offset="1.000" stop-color="#1f26a3"/></linearGradient>
<path fill="url(#E8)" d="M274.7 1803.3L561 1818.1 557.3 1815.6 271.5 1797.6z"/>
<linearGradient id="E9" gradientUnits="userSpaceOnUse" x1="269.9" y1="1794.8" x2="555.5" y2="1814.3"><stop offset="0.000" stop-color="#739ebe"/><stop offset="0.110" stop-color="#6a93bd"/><stop offset="0.218" stop-color="#6086bb"/><stop offset="0.323" stop-color="#5779b9"/><stop offset="0.426" stop-color="#4e6db6"/><stop offset="0.527" stop-color="#4560b4"/><stop offset="0.626" stop-color="#3c55b1"/><stop offset="0.722" stop-color="#3549ae"/><stop offset="0.817" stop-color="#2e3daa"/><stop offset="0.909" stop-color="#2732a6"/><stop offset="1.000" stop-color="#2028a2"/></linearGradient>
<path fill="url(#E9)" d="M271.5 1797.6L557.3 1815.6 553.6 1813.1 268.4 1791.9z"/>
<linearGradient id="E10" gradientUnits="userSpaceOnUse" x1="266.8" y1="1789.1" x2="551.8" y2="1811.9"><stop offset="0.000" stop-color="#789ebd"/><stop offset="0.110" stop-color="#6e99bc"/><stop offset="0.218" stop-color="#648cba"/><stop offset="0.323" stop-color="#5b7eb8"/><stop offset="0.426" stop-color="#5171b5"/><stop offset="0.527" stop-color="#4865b3"/><stop offset="0.626" stop-color="#3f58b0"/><stop offset="0.722" stop-color="#374cad"/><stop offset="0.817" stop-color="#2f40a9"/><stop offset="0.909" stop-color="#2834a5"/><stop offset="1.000" stop-color="#2129a1"/></linearGradient>
<path fill="url(#E10)" d="M268.4 1791.9L553.6 1813.1 549.9 1810.6 265.2 1786.3z"/>
<linearGradient id="E11" gradientUnits="userSpaceOnUse" x1="263.7" y1="1783.5" x2="548.1" y2="1809.4"><stop offset="0.000" stop-color="#7d9ebc"/><stop offset="0.110" stop-color="#739bba"/><stop offset="0.218" stop-color="#6992b9"/><stop offset="0.323" stop-color="#5f84b7"/><stop offset="0.426" stop-color="#5576b4"/><stop offset="0.527" stop-color="#4b69b2"/><stop offset="0.626" stop-color="#425caf"/><stop offset="0.722" stop-color="#394fac"/><stop offset="0.817" stop-color="#3143a9"/><stop offset="0.909" stop-color="#2a37a5"/><stop offset="1.000" stop-color="#222ba1"/></linearGradient>
<path fill="url(#E11)" d="M265.2 1786.3L549.9 1810.6 546.3 1808.1 262.1 1780.7z"/>
<linearGradient id="E12" gradientUnits="userSpaceOnUse" x1="260.5" y1="1777.9" x2="544.5" y2="1806.9"><stop offset="0.000" stop-color="#819ebb"/><stop offset="0.110" stop-color="#779bb9"/><stop offset="0.218" stop-color="#6d97b7"/><stop offset="0.323" stop-color="#6289b5"/><stop offset="0.426" stop-color="#587bb3"/><stop offset="0.527" stop-color="#4e6db1"/><stop offset="0.626" stop-color="#445fae"/><stop offset="0.722" stop-color="#3b52ab"/><stop offset="0.817" stop-color="#3345a8"/><stop offset="0.909" stop-color="#2b39a4"/><stop offset="1.000" stop-color="#232da0"/></linearGradient>
<path fill="url(#E12)" d="M262.1 1780.7L546.3 1808.1 542.6 1805.7 259 1775.1z"/>
<linearGradient id="E13" gradientUnits="userSpaceOnUse" x1="257.5" y1="1772.3" x2="540.8" y2="1804.5"><stop offset="0.000" stop-color="#869eba"/><stop offset="0.110" stop-color="#7b9bb8"/><stop offset="0.218" stop-color="#7198b6"/><stop offset="0.323" stop-color="#668eb4"/><stop offset="0.426" stop-color="#5b7fb2"/><stop offset="0.527" stop-color="#5171b0"/><stop offset="0.626" stop-color="#4763ad"/><stop offset="0.722" stop-color="#3d55ab"/><stop offset="0.817" stop-color="#3448a7"/><stop offset="0.909" stop-color="#2c3ba3"/><stop offset="1.000" stop-color="#242f9f"/></linearGradient>
<path fill="url(#E13)" d="M259 1775.1L542.6 1805.7 539 1803.3 255.9 1769.5z"/>
<linearGradient id="E14" gradientUnits="userSpaceOnUse" x1="254.4" y1="1766.8" x2="537.2" y2="1802"><stop offset="0.000" stop-color="#8b9eb9"/><stop offset="0.110" stop-color="#7f9bb7"/><stop offset="0.218" stop-color="#7498b5"/><stop offset="0.323" stop-color="#6a93b3"/><stop offset="0.426" stop-color="#5f84b1"/><stop offset="0.527" stop-color="#5475af"/><stop offset="0.626" stop-color="#4966ac"/><stop offset="0.722" stop-color="#3f58aa"/><stop offset="0.817" stop-color="#364aa6"/><stop offset="0.909" stop-color="#2d3da3"/><stop offset="1.000" stop-color="#25309f"/></linearGradient>
<path fill="url(#E14)" d="M255.9 1769.5L539 1803.3 535.4 1800.8 252.8 1764z"/>
<linearGradient id="E15" gradientUnits="userSpaceOnUse" x1="251.3" y1="1761.3" x2="533.7" y2="1799.6"><stop offset="0.000" stop-color="#8f9eb8"/><stop offset="0.110" stop-color="#849bb6"/><stop offset="0.218" stop-color="#7898b4"/><stop offset="0.323" stop-color="#6d94b2"/><stop offset="0.426" stop-color="#6288b0"/><stop offset="0.527" stop-color="#5779ae"/><stop offset="0.626" stop-color="#4c6aab"/><stop offset="0.722" stop-color="#415ba9"/><stop offset="0.817" stop-color="#374da6"/><stop offset="0.909" stop-color="#2f3fa2"/><stop offset="1.000" stop-color="#26329e"/></linearGradient>
<path fill="url(#E15)" d="M252.8 1764L535.4 1800.8 531.9 1798.4 249.8 1758.6z"/>
<linearGradient id="E16" gradientUnits="userSpaceOnUse" x1="248.3" y1="1755.8" x2="530.1" y2="1797.2"><stop offset="0.000" stop-color="#939eb6"/><stop offset="0.110" stop-color="#889bb5"/><stop offset="0.218" stop-color="#7c98b3"/><stop offset="0.323" stop-color="#7194b1"/><stop offset="0.426" stop-color="#658daf"/><stop offset="0.527" stop-color="#5a7dad"/><stop offset="0.626" stop-color="#4e6dab"/><stop offset="0.722" stop-color="#435ea8"/><stop offset="0.817" stop-color="#3950a5"/><stop offset="0.909" stop-color="#3041a1"/><stop offset="1.000" stop-color="#27349d"/></linearGradient>
<path fill="url(#E16)" d="M249.8 1758.6L531.9 1798.4 528.3 1796 246.8 1753.1z"/>
<linearGradient id="E17" gradientUnits="userSpaceOnUse" x1="245.3" y1="1750.4" x2="526.6" y2="1794.8"><stop offset="0.000" stop-color="#969cb5"/><stop offset="0.110" stop-color="#8c9bb4"/><stop offset="0.218" stop-color="#8098b2"/><stop offset="0.323" stop-color="#7494b0"/><stop offset="0.426" stop-color="#6890ae"/><stop offset="0.527" stop-color="#5c81ac"/><stop offset="0.626" stop-color="#5171aa"/><stop offset="0.722" stop-color="#4661a7"/><stop offset="0.817" stop-color="#3b52a4"/><stop offset="0.909" stop-color="#3143a1"/><stop offset="1.000" stop-color="#28359d"/></linearGradient>
<path fill="url(#E17)" d="M246.8 1753.1L528.3 1796 524.8 1793.7 243.8 1747.7z"/>
<linearGradient id="E18" gradientUnits="userSpaceOnUse" x1="242.3" y1="1745" x2="523.1" y2="1792.5"><stop offset="0.000" stop-color="#989ab4"/><stop offset="0.110" stop-color="#909bb3"/><stop offset="0.218" stop-color="#8498b1"/><stop offset="0.323" stop-color="#7794af"/><stop offset="0.426" stop-color="#6b90ad"/><stop offset="0.527" stop-color="#5f84ab"/><stop offset="0.625" stop-color="#5374a9"/><stop offset="0.722" stop-color="#4864a6"/><stop offset="0.817" stop-color="#3c54a3"/><stop offset="0.909" stop-color="#3245a0"/><stop offset="1.000" stop-color="#29379c"/></linearGradient>
<path fill="url(#E18)" d="M243.8 1747.7L524.8 1793.7 521.3 1791.3 240.8 1742.3z"/>
<linearGradient id="E19" gradientUnits="userSpaceOnUse" x1="239.3" y1="1739.7" x2="519.6" y2="1790.1"><stop offset="0.000" stop-color="#9b98b3"/><stop offset="0.110" stop-color="#9299b2"/><stop offset="0.218" stop-color="#8798b0"/><stop offset="0.323" stop-color="#7b94ae"/><stop offset="0.426" stop-color="#6e90ac"/><stop offset="0.527" stop-color="#6288aa"/><stop offset="0.625" stop-color="#5677a8"/><stop offset="0.722" stop-color="#4a67a5"/><stop offset="0.817" stop-color="#3e57a2"/><stop offset="0.909" stop-color="#33479f"/><stop offset="1.000" stop-color="#2a389b"/></linearGradient>
<path fill="url(#E19)" d="M240.8 1742.3L521.3 1791.3 517.8 1788.9 237.8 1737z"/>
<linearGradient id="E20" gradientUnits="userSpaceOnUse" x1="236.3" y1="1734.3" x2="516.1" y2="1787.8"><stop offset="0.000" stop-color="#9d96b2"/><stop offset="0.110" stop-color="#9497b1"/><stop offset="0.218" stop-color="#8b97af"/><stop offset="0.323" stop-color="#7e94ad"/><stop offset="0.426" stop-color="#7190ab"/><stop offset="0.527" stop-color="#658ca9"/><stop offset="0.625" stop-color="#587ba7"/><stop offset="0.722" stop-color="#4c6aa4"/><stop offset="0.817" stop-color="#4059a2"/><stop offset="0.909" stop-color="#35499f"/><stop offset="1.000" stop-color="#2b3a9b"/></linearGradient>
<path fill="url(#E20)" d="M237.8 1737L517.8 1788.9 514.4 1786.6 234.9 1731.7z"/>
<linearGradient id="E21" gradientUnits="userSpaceOnUse" x1="233.4" y1="1729.1" x2="512.7" y2="1785.4"><stop offset="0.000" stop-color="#a094b1"/><stop offset="0.110" stop-color="#9695b0"/><stop offset="0.218" stop-color="#8d96ae"/><stop offset="0.323" stop-color="#8194ac"/><stop offset="0.426" stop-color="#7490aa"/><stop offset="0.527" stop-color="#678ca8"/><stop offset="0.625" stop-color="#5b7ea6"/><stop offset="0.722" stop-color="#4e6da3"/><stop offset="0.817" stop-color="#425ca1"/><stop offset="0.909" stop-color="#364b9e"/><stop offset="1.000" stop-color="#2c3c9a"/></linearGradient>
<path fill="url(#E21)" d="M234.9 1731.7L514.4 1786.6 510.9 1784.3 231.9 1726.4z"/>
<linearGradient id="E22" gradientUnits="userSpaceOnUse" x1="230.5" y1="1723.8" x2="509.2" y2="1783.1"><stop offset="0.000" stop-color="#a291af"/><stop offset="0.110" stop-color="#9994ae"/><stop offset="0.218" stop-color="#8f94ad"/><stop offset="0.323" stop-color="#8594ab"/><stop offset="0.426" stop-color="#7790a9"/><stop offset="0.527" stop-color="#6a8ca7"/><stop offset="0.625" stop-color="#5d81a5"/><stop offset="0.722" stop-color="#506fa3"/><stop offset="0.817" stop-color="#435ea0"/><stop offset="0.909" stop-color="#374d9d"/><stop offset="1.000" stop-color="#2d3d9a"/></linearGradient>
<path fill="url(#E22)" d="M231.9 1726.4L510.9 1784.3 507.5 1782 229 1721.2z"/>
<linearGradient id="E23" gradientUnits="userSpaceOnUse" x1="227.6" y1="1718.6" x2="505.8" y2="1780.8"><stop offset="0.000" stop-color="#a38dab"/><stop offset="0.110" stop-color="#9b92ad"/><stop offset="0.218" stop-color="#9193ac"/><stop offset="0.323" stop-color="#8893aa"/><stop offset="0.426" stop-color="#7a8fa8"/><stop offset="0.527" stop-color="#6c8ba6"/><stop offset="0.625" stop-color="#5f85a4"/><stop offset="0.722" stop-color="#5272a2"/><stop offset="0.817" stop-color="#45609f"/><stop offset="0.909" stop-color="#394f9c"/><stop offset="1.000" stop-color="#2e3f99"/></linearGradient>
<path fill="url(#E23)" d="M229 1721.2L507.5 1782 504.1 1779.7 226.1 1716z"/>
<linearGradient id="E24" gradientUnits="userSpaceOnUse" x1="224.7" y1="1713.4" x2="502.4" y2="1778.5"><stop offset="0.000" stop-color="#a589a8"/><stop offset="0.110" stop-color="#9d90ac"/><stop offset="0.218" stop-color="#9391ab"/><stop offset="0.323" stop-color="#8a92a9"/><stop offset="0.426" stop-color="#7d8fa7"/><stop offset="0.527" stop-color="#6f8ba5"/><stop offset="0.625" stop-color="#6287a3"/><stop offset="0.722" stop-color="#5475a1"/><stop offset="0.817" stop-color="#47639e"/><stop offset="0.909" stop-color="#3a519c"/><stop offset="1.000" stop-color="#2f4098"/></linearGradient>
<path fill="url(#E24)" d="M226.1 1716L504.1 1779.7 500.8 1777.4 223.2 1710.8z"/>
<linearGradient id="E25" gradientUnits="userSpaceOnUse" x1="221.8" y1="1708.2" x2="499.1" y2="1776.3"><stop offset="0.000" stop-color="#a685a4"/><stop offset="0.110" stop-color="#9e8ca9"/><stop offset="0.218" stop-color="#958faa"/><stop offset="0.323" stop-color="#8b90a8"/><stop offset="0.426" stop-color="#808fa6"/><stop offset="0.527" stop-color="#728ba4"/><stop offset="0.625" stop-color="#6487a2"/><stop offset="0.722" stop-color="#5678a0"/><stop offset="0.817" stop-color="#48659d"/><stop offset="0.909" stop-color="#3b539b"/><stop offset="1.000" stop-color="#304298"/></linearGradient>
<path fill="url(#E25)" d="M223.2 1710.8L500.8 1777.4 497.4 1775.1 220.4 1705.6z"/>
<linearGradient id="E26" gradientUnits="userSpaceOnUse" x1="218.9" y1="1703.1" x2="495.7" y2="1774"><stop offset="0.000" stop-color="#a780a1"/><stop offset="0.110" stop-color="#a088a6"/><stop offset="0.218" stop-color="#978ea9"/><stop offset="0.323" stop-color="#8d8fa7"/><stop offset="0.426" stop-color="#838fa5"/><stop offset="0.527" stop-color="#748ba4"/><stop offset="0.625" stop-color="#6687a1"/><stop offset="0.722" stop-color="#587a9f"/><stop offset="0.817" stop-color="#4a679d"/><stop offset="0.909" stop-color="#3d559a"/><stop offset="1.000" stop-color="#314397"/></linearGradient>
<path fill="url(#E26)" d="M220.4 1705.6L497.4 1775.1 494.1 1772.9 217.5 1700.5z"/>
<linearGradient id="E27" gradientUnits="userSpaceOnUse" x1="216.1" y1="1698" x2="492.4" y2="1771.8"><stop offset="0.000" stop-color="#a97c9e"/><stop offset="0.110" stop-color="#a184a3"/><stop offset="0.218" stop-color="#998ca8"/><stop offset="0.323" stop-color="#8f8da6"/><stop offset="0.426" stop-color="#858ea5"/><stop offset="0.527" stop-color="#778ba3"/><stop offset="0.625" stop-color="#6886a0"/><stop offset="0.722" stop-color="#5a7d9e"/><stop offset="0.817" stop-color="#4c6a9c"/><stop offset="0.909" stop-color="#3e5799"/><stop offset="1.000" stop-color="#314596"/></linearGradient>
<path fill="url(#E27)" d="M217.5 1700.5L494.1 1772.9 490.7 1770.6 214.7 1695.4z"/>
<linearGradient id="E28" gradientUnits="userSpaceOnUse" x1="213.3" y1="1692.9" x2="489.1" y2="1769.5"><stop offset="0.000" stop-color="#aa789a"/><stop offset="0.110" stop-color="#a281a0"/><stop offset="0.218" stop-color="#9a89a5"/><stop offset="0.323" stop-color="#918ca5"/><stop offset="0.426" stop-color="#868da4"/><stop offset="0.527" stop-color="#798ba2"/><stop offset="0.625" stop-color="#6a86a0"/><stop offset="0.722" stop-color="#5c809d"/><stop offset="0.817" stop-color="#4d6c9b"/><stop offset="0.909" stop-color="#405998"/><stop offset="1.000" stop-color="#324696"/></linearGradient>
<path fill="url(#E28)" d="M214.7 1695.4L490.7 1770.6 487.4 1768.4 211.9 1690.4z"/>
<linearGradient id="E29" gradientUnits="userSpaceOnUse" x1="210.5" y1="1687.9" x2="485.8" y2="1767.3"><stop offset="0.000" stop-color="#ab7497"/><stop offset="0.110" stop-color="#a37d9d"/><stop offset="0.218" stop-color="#9b85a2"/><stop offset="0.323" stop-color="#928aa4"/><stop offset="0.426" stop-color="#888ba3"/><stop offset="0.527" stop-color="#7b8aa1"/><stop offset="0.625" stop-color="#6c869f"/><stop offset="0.722" stop-color="#5e829c"/><stop offset="0.817" stop-color="#4f6e9a"/><stop offset="0.909" stop-color="#415b98"/><stop offset="1.000" stop-color="#334895"/></linearGradient>
<path fill="url(#E29)" d="M211.9 1690.4L487.4 1768.4 484.2 1766.2 209.1 1685.3z"/>
<linearGradient id="E30" gradientUnits="userSpaceOnUse" x1="207.7" y1="1682.8" x2="482.5" y2="1765.1"><stop offset="0.000" stop-color="#ac6e92"/><stop offset="0.110" stop-color="#a5799a"/><stop offset="0.218" stop-color="#9c819f"/><stop offset="0.323" stop-color="#9489a3"/><stop offset="0.426" stop-color="#898aa2"/><stop offset="0.527" stop-color="#7e8aa0"/><stop offset="0.625" stop-color="#6e869e"/><stop offset="0.722" stop-color="#60819c"/><stop offset="0.817" stop-color="#517099"/><stop offset="0.909" stop-color="#425c97"/><stop offset="1.000" stop-color="#344994"/></linearGradient>
<path fill="url(#E30)" d="M209.1 1685.3L484.2 1766.2 480.9 1764 206.3 1680.3z"/>
<linearGradient id="E31" gradientUnits="userSpaceOnUse" x1="204.9" y1="1677.9" x2="479.3" y2="1762.9"><stop offset="0.000" stop-color="#ac698c"/><stop offset="0.110" stop-color="#a67597"/><stop offset="0.218" stop-color="#9d7e9c"/><stop offset="0.323" stop-color="#9586a2"/><stop offset="0.426" stop-color="#8b89a1"/><stop offset="0.527" stop-color="#808a9f"/><stop offset="0.625" stop-color="#71869d"/><stop offset="0.722" stop-color="#61819b"/><stop offset="0.817" stop-color="#527399"/><stop offset="0.909" stop-color="#445e96"/><stop offset="1.000" stop-color="#354b94"/></linearGradient>
<path fill="url(#E31)" d="M206.3 1680.3L480.9 1764 477.7 1761.8 203.5 1675.4z"/>
<linearGradient id="E32" gradientUnits="userSpaceOnUse" x1="202.2" y1="1672.9" x2="476.1" y2="1760.7"><stop offset="0.000" stop-color="#ad6387"/><stop offset="0.110" stop-color="#a77193"/><stop offset="0.218" stop-color="#9f7a99"/><stop offset="0.323" stop-color="#96839f"/><stop offset="0.426" stop-color="#8c87a0"/><stop offset="0.527" stop-color="#81889e"/><stop offset="0.625" stop-color="#73859c"/><stop offset="0.722" stop-color="#63819a"/><stop offset="0.817" stop-color="#547598"/><stop offset="0.909" stop-color="#456095"/><stop offset="1.000" stop-color="#364c93"/></linearGradient>
<path fill="url(#E32)" d="M203.5 1675.4L477.7 1761.8 474.4 1759.6 200.8 1670.4z"/>
<linearGradient id="E33" gradientUnits="userSpaceOnUse" x1="199.4" y1="1668" x2="472.8" y2="1758.6"><stop offset="0.000" stop-color="#ad5e81"/><stop offset="0.110" stop-color="#a76c8f"/><stop offset="0.218" stop-color="#a07797"/><stop offset="0.323" stop-color="#97809c"/><stop offset="0.426" stop-color="#8d869f"/><stop offset="0.527" stop-color="#82879d"/><stop offset="0.625" stop-color="#75859b"/><stop offset="0.722" stop-color="#658199"/><stop offset="0.817" stop-color="#557797"/><stop offset="0.909" stop-color="#466295"/><stop offset="1.000" stop-color="#374d92"/></linearGradient>
<path fill="url(#E33)" d="M200.8 1670.4L474.4 1759.6 471.2 1757.5 198.1 1665.5z"/>
<linearGradient id="E34" gradientUnits="userSpaceOnUse" x1="196.7" y1="1663.1" x2="469.6" y2="1756.4"><stop offset="0.000" stop-color="#ad587c"/><stop offset="0.110" stop-color="#a8678a"/><stop offset="0.218" stop-color="#a17494"/><stop offset="0.323" stop-color="#987d9a"/><stop offset="0.426" stop-color="#8f849e"/><stop offset="0.527" stop-color="#84869c"/><stop offset="0.625" stop-color="#77859a"/><stop offset="0.722" stop-color="#678098"/><stop offset="0.817" stop-color="#577996"/><stop offset="0.909" stop-color="#476394"/><stop offset="1.000" stop-color="#384f91"/></linearGradient>
<path fill="url(#E34)" d="M198.1 1665.5L471.2 1757.5 468.1 1755.3 195.3 1660.6z"/>
<linearGradient id="E35" gradientUnits="userSpaceOnUse" x1="194" y1="1658.2" x2="466.5" y2="1754.3"><stop offset="0.000" stop-color="#ad5377"/><stop offset="0.110" stop-color="#a86285"/><stop offset="0.218" stop-color="#a27091"/><stop offset="0.323" stop-color="#997a97"/><stop offset="0.426" stop-color="#90829d"/><stop offset="0.527" stop-color="#85849b"/><stop offset="0.625" stop-color="#79859a"/><stop offset="0.722" stop-color="#688098"/><stop offset="0.817" stop-color="#597b95"/><stop offset="0.909" stop-color="#496593"/><stop offset="1.000" stop-color="#395091"/></linearGradient>
<path fill="url(#E35)" d="M195.3 1660.6L468.1 1755.3 464.9 1753.2 192.6 1655.8z"/>
<linearGradient id="E36" gradientUnits="userSpaceOnUse" x1="191.3" y1="1653.4" x2="463.3" y2="1752.1"><stop offset="0.000" stop-color="#ae4d71"/><stop offset="0.110" stop-color="#a85d80"/><stop offset="0.218" stop-color="#a26c8e"/><stop offset="0.323" stop-color="#9a7694"/><stop offset="0.426" stop-color="#917f9a"/><stop offset="0.527" stop-color="#86839b"/><stop offset="0.625" stop-color="#7b8499"/><stop offset="0.722" stop-color="#6a8097"/><stop offset="0.817" stop-color="#5a7b95"/><stop offset="0.909" stop-color="#4a6792"/><stop offset="1.000" stop-color="#3a5290"/></linearGradient>
<path fill="url(#E36)" d="M192.6 1655.8L464.9 1753.2 461.7 1751.1 190 1651z"/>
<linearGradient id="E37" gradientUnits="userSpaceOnUse" x1="188.6" y1="1648.6" x2="460.2" y2="1750"><stop offset="0.000" stop-color="#ae486c"/><stop offset="0.110" stop-color="#a8587b"/><stop offset="0.218" stop-color="#a36889"/><stop offset="0.323" stop-color="#9b7392"/><stop offset="0.426" stop-color="#927d98"/><stop offset="0.527" stop-color="#87829a"/><stop offset="0.625" stop-color="#7c8398"/><stop offset="0.722" stop-color="#6c8096"/><stop offset="0.817" stop-color="#5b7b94"/><stop offset="0.909" stop-color="#4b6992"/><stop offset="1.000" stop-color="#3b538f"/></linearGradient>
<path fill="url(#E37)" d="M190 1651L461.7 1751.1 458.6 1748.9 187.3 1646.2z"/>
<linearGradient id="E38" gradientUnits="userSpaceOnUse" x1="186" y1="1643.8" x2="457.1" y2="1747.9"><stop offset="0.000" stop-color="#ae4267"/><stop offset="0.110" stop-color="#a95376"/><stop offset="0.218" stop-color="#a36385"/><stop offset="0.323" stop-color="#9b708f"/><stop offset="0.426" stop-color="#927a95"/><stop offset="0.527" stop-color="#888199"/><stop offset="0.625" stop-color="#7d8297"/><stop offset="0.722" stop-color="#6d7f95"/><stop offset="0.817" stop-color="#5d7b93"/><stop offset="0.909" stop-color="#4c6a91"/><stop offset="1.000" stop-color="#3c548f"/></linearGradient>
<path fill="url(#E38)" d="M187.3 1646.2L458.6 1748.9 455.5 1746.8 184.6 1641.4z"/>
<linearGradient id="E39" gradientUnits="userSpaceOnUse" x1="183.3" y1="1639" x2="454" y2="1745.8"><stop offset="0.000" stop-color="#af3d61"/><stop offset="0.110" stop-color="#a94e71"/><stop offset="0.218" stop-color="#a35e80"/><stop offset="0.323" stop-color="#9c6d8d"/><stop offset="0.426" stop-color="#937793"/><stop offset="0.527" stop-color="#8a7f98"/><stop offset="0.625" stop-color="#7e8196"/><stop offset="0.722" stop-color="#6f7f94"/><stop offset="0.817" stop-color="#5e7a92"/><stop offset="0.909" stop-color="#4e6c90"/><stop offset="1.000" stop-color="#3d568e"/></linearGradient>
<path fill="url(#E39)" d="M184.6 1641.4L455.5 1746.8 452.4 1744.8 182 1636.7z"/>
<linearGradient id="E40" gradientUnits="userSpaceOnUse" x1="180.7" y1="1634.3" x2="450.9" y2="1743.7"><stop offset="0.000" stop-color="#ae395d"/><stop offset="0.110" stop-color="#a9496c"/><stop offset="0.218" stop-color="#a35a7c"/><stop offset="0.323" stop-color="#9d6a8a"/><stop offset="0.426" stop-color="#947491"/><stop offset="0.527" stop-color="#8b7e97"/><stop offset="0.625" stop-color="#7f8095"/><stop offset="0.722" stop-color="#717f94"/><stop offset="0.817" stop-color="#607a92"/><stop offset="0.909" stop-color="#4f6e8f"/><stop offset="1.000" stop-color="#3e578d"/></linearGradient>
<path fill="url(#E40)" d="M182 1636.7L452.4 1744.8 449.3 1742.7 179.4 1631.9z"/>
<linearGradient id="E41" gradientUnits="userSpaceOnUse" x1="178.1" y1="1629.6" x2="447.8" y2="1741.6"><stop offset="0.000" stop-color="#ac3458"/><stop offset="0.110" stop-color="#a94467"/><stop offset="0.218" stop-color="#a35577"/><stop offset="0.323" stop-color="#9d6686"/><stop offset="0.426" stop-color="#94718e"/><stop offset="0.527" stop-color="#8b7b95"/><stop offset="0.625" stop-color="#807e95"/><stop offset="0.722" stop-color="#727f93"/><stop offset="0.817" stop-color="#617a91"/><stop offset="0.909" stop-color="#506f8f"/><stop offset="1.000" stop-color="#3f588d"/></linearGradient>
<path fill="url(#E41)" d="M179.4 1631.9L449.3 1742.7 446.3 1740.6 176.8 1627.3z"/>
<linearGradient id="E42" gradientUnits="userSpaceOnUse" x1="175.5" y1="1624.9" x2="444.8" y2="1739.6"><stop offset="0.000" stop-color="#ab3053"/><stop offset="0.110" stop-color="#a93f63"/><stop offset="0.218" stop-color="#a35173"/><stop offset="0.323" stop-color="#9d6282"/><stop offset="0.426" stop-color="#956e8c"/><stop offset="0.527" stop-color="#8c7892"/><stop offset="0.625" stop-color="#807d94"/><stop offset="0.722" stop-color="#747e92"/><stop offset="0.817" stop-color="#627a90"/><stop offset="0.909" stop-color="#51718e"/><stop offset="1.000" stop-color="#405a8c"/></linearGradient>
<path fill="url(#E42)" d="M176.8 1627.3L446.3 1740.6 443.2 1738.6 174.2 1622.6z"/>
<linearGradient id="E43" gradientUnits="userSpaceOnUse" x1="172.9" y1="1620.3" x2="441.7" y2="1737.5"><stop offset="0.000" stop-color="#aa2b4f"/><stop offset="0.110" stop-color="#a93b5e"/><stop offset="0.218" stop-color="#a44c6e"/><stop offset="0.323" stop-color="#9d5d7e"/><stop offset="0.426" stop-color="#966c8a"/><stop offset="0.527" stop-color="#8c7690"/><stop offset="0.625" stop-color="#817c93"/><stop offset="0.722" stop-color="#757e91"/><stop offset="0.817" stop-color="#64798f"/><stop offset="0.909" stop-color="#52738d"/><stop offset="1.000" stop-color="#415b8b"/></linearGradient>
<path fill="url(#E43)" d="M174.2 1622.6L443.2 1738.6 440.2 1736.5 171.6 1618z"/>
<linearGradient id="E44" gradientUnits="userSpaceOnUse" x1="170.3" y1="1615.6" x2="438.7" y2="1735.5"><stop offset="0.000" stop-color="#a9274a"/><stop offset="0.110" stop-color="#a8375a"/><stop offset="0.218" stop-color="#a4486a"/><stop offset="0.323" stop-color="#9d597a"/><stop offset="0.426" stop-color="#976987"/><stop offset="0.527" stop-color="#8d738e"/><stop offset="0.625" stop-color="#827b92"/><stop offset="0.722" stop-color="#767d91"/><stop offset="0.817" stop-color="#65798f"/><stop offset="0.909" stop-color="#54748d"/><stop offset="1.000" stop-color="#425c8a"/></linearGradient>
<path fill="url(#E44)" d="M171.6 1618L440.2 1736.5 437.2 1734.5 169 1613.3z"/>
<linearGradient id="E45" gradientUnits="userSpaceOnUse" x1="167.8" y1="1611.1" x2="435.7" y2="1733.5"><stop offset="0.000" stop-color="#a82345"/><stop offset="0.110" stop-color="#a73355"/><stop offset="0.218" stop-color="#a44366"/><stop offset="0.323" stop-color="#9e5576"/><stop offset="0.426" stop-color="#976685"/><stop offset="0.527" stop-color="#8d718c"/><stop offset="0.625" stop-color="#837a91"/><stop offset="0.722" stop-color="#777c90"/><stop offset="0.817" stop-color="#66798e"/><stop offset="0.909" stop-color="#55748c"/><stop offset="1.000" stop-color="#435d8a"/></linearGradient>
<path fill="url(#E45)" d="M169 1613.3L437.2 1734.5 434.2 1732.5 166.5 1608.8z"/>
<linearGradient id="E46" gradientUnits="userSpaceOnUse" x1="165.2" y1="1606.5" x2="432.7" y2="1731.5"><stop offset="0.000" stop-color="#a71e41"/><stop offset="0.110" stop-color="#a62f51"/><stop offset="0.218" stop-color="#a43f61"/><stop offset="0.323" stop-color="#9e5172"/><stop offset="0.426" stop-color="#976282"/><stop offset="0.527" stop-color="#8e6e8a"/><stop offset="0.625" stop-color="#847990"/><stop offset="0.722" stop-color="#777b8f"/><stop offset="0.817" stop-color="#68798d"/><stop offset="0.909" stop-color="#56748b"/><stop offset="1.000" stop-color="#445f89"/></linearGradient>
<path fill="url(#E46)" d="M166.5 1608.8L434.2 1732.5 431.2 1730.5 163.9 1604.2z"/>
<linearGradient id="E47" gradientUnits="userSpaceOnUse" x1="162.7" y1="1601.9" x2="429.8" y2="1729.5"><stop offset="0.000" stop-color="#a61a3c"/><stop offset="0.110" stop-color="#a52b4d"/><stop offset="0.218" stop-color="#a43b5d"/><stop offset="0.323" stop-color="#9e4d6e"/><stop offset="0.426" stop-color="#975f7e"/><stop offset="0.527" stop-color="#8f6c88"/><stop offset="0.625" stop-color="#85768f"/><stop offset="0.722" stop-color="#78798e"/><stop offset="0.817" stop-color="#69788c"/><stop offset="0.909" stop-color="#57738a"/><stop offset="1.000" stop-color="#456088"/></linearGradient>
<path fill="url(#E47)" d="M163.9 1604.2L431.2 1730.5 428.3 1728.5 161.4 1599.7z"/>
<linearGradient id="E48" gradientUnits="userSpaceOnUse" x1="160.2" y1="1597.4" x2="426.8" y2="1727.5"><stop offset="0.000" stop-color="#a51638"/><stop offset="0.110" stop-color="#a42749"/><stop offset="0.218" stop-color="#a33759"/><stop offset="0.323" stop-color="#9e496a"/><stop offset="0.426" stop-color="#975b7a"/><stop offset="0.527" stop-color="#8f6986"/><stop offset="0.625" stop-color="#85748d"/><stop offset="0.722" stop-color="#79788e"/><stop offset="0.816" stop-color="#6a788c"/><stop offset="0.909" stop-color="#58738a"/><stop offset="1.000" stop-color="#466188"/></linearGradient>
<path fill="url(#E48)" d="M161.4 1599.7L428.3 1728.5 425.3 1726.5 158.9 1595.2z"/>
<linearGradient id="E49" gradientUnits="userSpaceOnUse" x1="157.7" y1="1592.9" x2="423.9" y2="1725.5"><stop offset="0.000" stop-color="#a41233"/><stop offset="0.110" stop-color="#a32344"/><stop offset="0.218" stop-color="#a23355"/><stop offset="0.323" stop-color="#9e4566"/><stop offset="0.426" stop-color="#975777"/><stop offset="0.527" stop-color="#906784"/><stop offset="0.625" stop-color="#86728b"/><stop offset="0.722" stop-color="#7a778d"/><stop offset="0.816" stop-color="#6c788b"/><stop offset="0.909" stop-color="#597389"/><stop offset="1.000" stop-color="#476287"/></linearGradient>
<path fill="url(#E49)" d="M158.9 1595.2L425.3 1726.5 422.4 1724.5 156.4 1590.7z"/>
<path fill="none" stroke="#000" stroke-opacity="1" stroke-width="1.0" d="M300.9 1850.4L156.4 1590.7M307.4 1850.1L162.3 1593.7M313.8 1849.9L168.2 1596.6M320.2 1849.6L174.1 1599.6M326.6 1849.4L179.9 1602.5M332.9 1849.1L185.7 1605.4M339.2 1848.9L191.5 1608.3M345.5 1848.6L197.2 1611.2M351.8 1848.4L202.9 1614.1M358 1848.1L208.6 1617M364.2 1847.9L214.3 1619.8M370.4 1847.6L219.9 1622.6M376.6 1847.4L225.6 1625.5M382.7 1847.1L231.2 1628.3M388.8 1846.9L236.7 1631.1M394.9 1846.7L242.3 1633.9M400.9 1846.4L247.8 1636.7M406.9 1846.2L253.3 1639.4M412.9 1845.9L258.8 1642.2M418.9 1845.7L264.3 1644.9M424.8 1845.5L269.7 1647.7M430.7 1845.2L275.1 1650.4M436.6 1845L280.5 1653.1M442.5 1844.8L285.8 1655.8M448.3 1844.5L291.2 1658.5M454.1 1844.3L296.5 1661.2M459.9 1844.1L301.8 1663.8M465.7 1843.8L307.1 1666.5M471.4 1843.6L312.3 1669.1M477.1 1843.4L317.5 1671.7M482.8 1843.1L322.7 1674.4M488.5 1842.9L327.9 1677M494.1 1842.7L333.1 1679.6M499.7 1842.5L338.2 1682.1M505.3 1842.2L343.3 1684.7M510.9 1842L348.4 1687.3M516.4 1841.8L353.5 1689.8M522 1841.6L358.6 1692.4M527.5 1841.4L363.6 1694.9M532.9 1841.1L368.6 1697.4M538.4 1840.9L373.6 1699.9M543.8 1840.7L378.6 1702.4M549.2 1840.5L383.5 1704.9M554.6 1840.3L388.5 1707.4M560 1840.1L393.4 1709.9M565.3 1839.9L398.3 1712.3M570.6 1839.6L403.1 1714.8M575.9 1839.4L408 1717.2M581.2 1839.2L412.8 1719.7M586.4 1839L417.6 1722.1M591.7 1838.8L422.4 1724.5"/>
<path fill="none" stroke="#000" stroke-opacity="1" stroke-width="1.45" d="M300.9 1850.4L591.7 1838.8M297.5 1844.4L587.8 1836.2M294.2 1838.4L583.9 1833.5M290.9 1832.5L580 1830.9M287.6 1826.6L576.2 1828.3M284.4 1820.7L572.3 1825.7M281.1 1814.9L568.5 1823.2M277.9 1809.1L564.8 1820.6M274.7 1803.3L561 1818.1M271.5 1797.6L557.3 1815.6M268.4 1791.9L553.6 1813.1M265.2 1786.3L549.9 1810.6M262.1 1780.7L546.3 1808.1M259 1775.1L542.6 1805.7M255.9 1769.5L539 1803.3M252.8 1764L535.4 1800.8M249.8 1758.6L531.9 1798.4M246.8 1753.1L528.3 1796M243.8 1747.7L524.8 1793.7M240.8 1742.3L521.3 1791.3M237.8 1737L517.8 1788.9M234.9 1731.7L514.4 1786.6M231.9 1726.4L510.9 1784.3M229 1721.2L507.5 1782M226.1 1716L504.1 1779.7M223.2 1710.8L500.8 1777.4M220.4 1705.6L497.4 1775.1M217.5 1700.5L494.1 1772.9M214.7 1695.4L490.7 1770.6M211.9 1690.4L487.4 1768.4M209.1 1685.3L484.2 1766.2M206.3 1680.3L480.9 1764M203.5 1675.4L477.7 1761.8M200.8 1670.4L474.4 1759.6M198.1 1665.5L471.2 1757.5M195.3 1660.6L468.1 1755.3M192.6 1655.8L464.9 1753.2M190 1651L461.7 1751.1M187.3 1646.2L458.6 1748.9M184.6 1641.4L455.5 1746.8M182 1636.7L452.4 1744.8M179.4 1631.9L449.3 1742.7M176.8 1627.3L446.3 1740.6M174.2 1622.6L443.2 1738.6M171.6 1618L440.2 1736.5M169 1613.3L437.2 1734.5M166.5 1608.8L434.2 1732.5M163.9 1604.2L431.2 1730.5M161.4 1599.7L428.3 1728.5M158.9 1595.2L425.3 1726.5M156.4 1590.7L422.4 1724.5"/>
<g stroke="#151515" stroke-width="1.9" stroke-linecap="round" fill="none">
<path d="M151.4 1523.6L425.1 1513 607.8 1532.8 300.5 1547.8z"/>
<line x1="151.4" y1="1523.6" x2="158.4" y2="1835.5"/>
<line x1="300.5" y1="1547.8" x2="303.2" y2="1918.9"/>
<line x1="607.8" y1="1532.8" x2="599.5" y2="1866.9"/>
<line x1="158.4" y1="1835.5" x2="303.2" y2="1918.9"/>
<line x1="303.2" y1="1918.9" x2="599.5" y2="1866.9"/>
</g>
<g stroke="#151515" stroke-width="1.8">
<line x1="137.4" y1="1523.3" x2="151.4" y2="1523.3"/>
<line x1="140.3" y1="1650.7" x2="154.3" y2="1650.7"/>
<line x1="143.1" y1="1774.2" x2="157.1" y2="1774.2"/>
<line x1="188.1" y1="1853.9" x2="178.8" y2="1866.5"/>
<line x1="255.6" y1="1893.3" x2="246.3" y2="1905.9"/>
<line x1="302.8" y1="1918.9" x2="309.6" y2="1932.5"/>
<line x1="416.5" y1="1900.2" x2="423.3" y2="1913.8"/>
<line x1="521.2" y1="1881.2" x2="528" y2="1894.8"/>
</g>
<g font-size="22" font-style="italic" fill="#1a1a1a">
<text x="110.2" y="1530.8">6</text>
<text x="113.8" y="1657.8">5</text>
<text x="117.1" y="1781.3">4</text>
<text x="163.8" y="1884.7">2</text>
<text x="230.8" y="1925">1</text>
<text x="309.8" y="1957.4">4</text>
<text x="423" y="1937.3">3</text>
<text x="529.4" y="1916.8">2</text>
</g>
<text x="63.9" y="74.7" font-size="61" font-weight="bold" fill="#111">A</text>
<text x="873.8" y="77.8" font-size="61" font-weight="bold" fill="#111">B</text>
<text x="63.2" y="766.3" font-size="61" font-weight="bold" fill="#111">C</text>
<text x="874.2" y="767.9" font-size="61" font-weight="bold" fill="#111">D</text>
<text x="64.7" y="1458.2" font-size="61" font-weight="bold" fill="#111">E</text>
<text x="162.1" y="74.7" font-size="46.30" fill="#111" textLength="545.43" lengthAdjust="spacing"><tspan font-style="italic">Fusarium</tspan><tspan> biomass in grain</tspan></text>
<text x="957.9" y="77.8" font-size="46.30" fill="#111" textLength="259.70" lengthAdjust="spacing"><tspan>FHB in grain</tspan></text>
<text x="158.6" y="767.3" font-size="46.30" fill="#111" textLength="164.25" lengthAdjust="spacing"><tspan>T2-toxin</tspan></text>
<text x="341.2" y="767.3" font-size="46.30" fill="#111" textLength="152.90" lengthAdjust="spacing"><tspan>in grain</tspan></text>
<text x="946.3" y="767.9" font-size="46.30" fill="#111" textLength="309.85" lengthAdjust="spacing"><tspan>Total N in grain</tspan></text>
<text x="159" y="1457.7" font-size="46.30" fill="#111" textLength="102.30" lengthAdjust="spacing"><tspan>Yield</tspan></text>
<text x="29.4" y="586" font-size="28.00" fill="#1e1e1e" textLength="174.51" lengthAdjust="spacing"><tspan>Herpetobionts</tspan></text>
<text x="411.7" y="607.5" font-size="28.00" fill="#1e1e1e" textLength="136.60" lengthAdjust="spacing"><tspan>Mesofauna</tspan></text>
<text x="843.7" y="591.7" font-size="28.00" fill="#1e1e1e" textLength="100.10" lengthAdjust="spacing"><tspan>Root rot</tspan></text>
<text x="783.5" y="626.7" font-size="28.00" fill="#1e1e1e" textLength="160.28" lengthAdjust="spacing"><tspan>development</tspan></text>
<text x="1131.6" y="616.5" font-size="28.00" fill="#1e1e1e" textLength="118.56" lengthAdjust="spacing"><tspan font-style="italic">Fusarium</tspan></text>
<text x="1130.7" y="651.9" font-size="28.00" fill="#1e1e1e" textLength="187.18" lengthAdjust="spacing"><tspan>biomass in soil</tspan></text>
<text x="103.9" y="1278.5" font-size="28.00" fill="#1e1e1e" textLength="142.33" lengthAdjust="spacing"><tspan font-style="italic">D. schmidti</tspan></text>
<text x="117.4" y="1310.4" font-size="28.00" fill="#1e1e1e" textLength="130.07" lengthAdjust="spacing"><tspan>(biomass)</tspan></text>
<text x="407.9" y="1307.1" font-size="28.00" fill="#1e1e1e" textLength="176.30" lengthAdjust="spacing"><tspan>Mesostigmata</tspan></text>
<text x="408.3" y="1340.6" font-size="28.00" fill="#1e1e1e" textLength="68.47" lengthAdjust="spacing"><tspan>mites</tspan></text>
<text x="808.3" y="1277.1" font-size="28.00" fill="#1e1e1e" textLength="123.91" lengthAdjust="spacing"><tspan>Predators</tspan></text>
<text x="774.1" y="1312.9" font-size="28.00" fill="#1e1e1e" textLength="159.87" lengthAdjust="spacing"><tspan>(hortobionts)</tspan></text>
<text x="1154.1" y="1296.7" font-size="28.00" fill="#1e1e1e" textLength="155.64" lengthAdjust="spacing"><tspan>Lumbricidae</tspan></text>
<text x="1154.7" y="1330.2" font-size="28.00" fill="#1e1e1e" textLength="129.57" lengthAdjust="spacing"><tspan>(biomass)</tspan></text>
<text x="102.7" y="1962" font-size="28.00" fill="#1e1e1e" textLength="142.03" lengthAdjust="spacing"><tspan font-style="italic">D. schmidti</tspan></text>
<text x="117.7" y="1997" font-size="28.00" fill="#1e1e1e" textLength="128.57" lengthAdjust="spacing"><tspan>(biomass)</tspan></text>
<text x="419.8" y="1981.4" font-size="28.00" fill="#1e1e1e" textLength="164.51" lengthAdjust="spacing"><tspan>Phytophages</tspan></text>
<text x="420.4" y="2016.7" font-size="28.00" fill="#1e1e1e" textLength="172.37" lengthAdjust="spacing"><tspan>(macrofauna)</tspan></text>
<text transform="translate(84.2 393.7) rotate(-90)" font-size="52" fill="#111">a.u. g</text>
<text transform="translate(67.8 266.2) rotate(-90)" font-size="34" fill="#111">-1</text>
<text transform="translate(74.2 1083.8) rotate(-90)" font-size="52" fill="#111">µg kg</text>
<text transform="translate(57.7 958.8) rotate(-90)" font-size="34" fill="#111">-1</text>
<text transform="translate(83.6 1771) rotate(-90)" font-size="52" fill="#111">tons ha</text>
<text transform="translate(67.4 1603.6) rotate(-90)" font-size="34" fill="#111">-1</text>
<text transform="translate(790.3 340.2) rotate(-90) scale(0.92 1.055)" font-size="52" fill="#111">%</text>
<text transform="translate(792.3 1013.2) rotate(-90) scale(0.92 1.055)" font-size="52" fill="#111">%</text>
</g>
</svg></body></html>
